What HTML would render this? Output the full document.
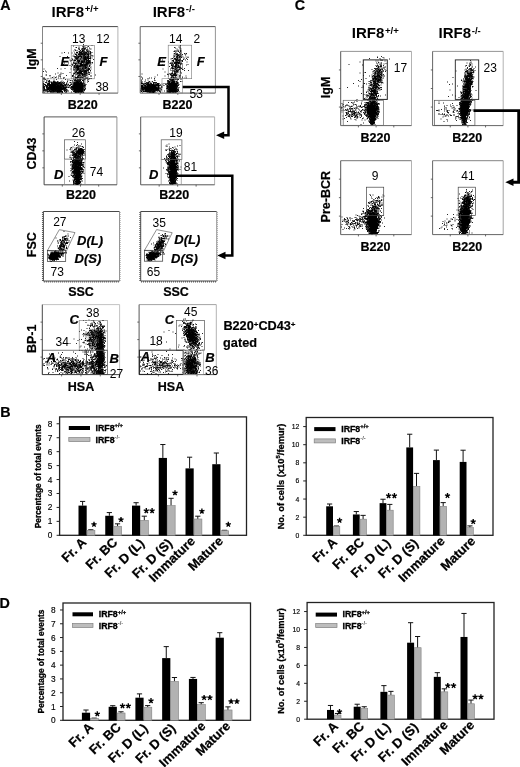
<!DOCTYPE html>
<html><head><meta charset="utf-8"><title>Figure</title>
<style>html,body{margin:0;padding:0;background:#fff}svg{display:block;opacity:.999}text{font-family:"Liberation Sans",sans-serif}</style></head>
<body>
<svg width="520" height="767" viewBox="0 0 520 767" font-family='"Liberation Sans", sans-serif' fill="#000">
<rect width="520" height="767" fill="#fff"/>
<defs><filter id="bl" x="-50%" y="-50%" width="200%" height="200%"><feGaussianBlur stdDeviation="1.1"/></filter></defs>
<text x="0.2" y="10.3" font-size="14.3" font-weight="bold" font-style="normal" text-anchor="start" stroke="#000" stroke-width="0.2">A</text>
<text x="51.6" y="16.6" font-size="15" font-weight="bold">IRF8<tspan font-size="9.6" dy="-4.3" dx="0.6">+/+</tspan></text>
<text x="152.7" y="16.6" font-size="15" font-weight="bold">IRF8<tspan font-size="9.6" dy="-4.3" dx="0.6">-/-</tspan></text>
<path d="M42.5 26.6H117.9" fill="none" stroke="#333" stroke-width="0.9"/>
<path d="M117.9 26.6V93.1" fill="none" stroke="#aaa" stroke-width="0.9"/>
<path d="M42.5 26.6V93.1" fill="none" stroke="#777" stroke-width="0.9"/>
<path d="M42.5 93.1H117.9" fill="none" stroke="#444" stroke-width="0.9"/>
<line x1="61.35" y1="93.10" x2="61.35" y2="94.90" stroke="#444" stroke-width="0.8"/>
<line x1="40.70" y1="43.23" x2="42.50" y2="43.23" stroke="#444" stroke-width="0.8"/>
<line x1="80.20" y1="93.10" x2="80.20" y2="94.90" stroke="#444" stroke-width="0.8"/>
<line x1="40.70" y1="59.85" x2="42.50" y2="59.85" stroke="#444" stroke-width="0.8"/>
<line x1="99.05" y1="93.10" x2="99.05" y2="94.90" stroke="#444" stroke-width="0.8"/>
<line x1="40.70" y1="76.47" x2="42.50" y2="76.47" stroke="#444" stroke-width="0.8"/>
<path d="M140.2 26.6H215.4" fill="none" stroke="#444" stroke-width="0.9"/>
<path d="M215.4 26.6V93.1" fill="none" stroke="#888" stroke-width="0.9"/>
<path d="M140.2 26.6V93.1" fill="none" stroke="#555" stroke-width="0.9"/>
<path d="M140.2 93.1H215.4" fill="none" stroke="#444" stroke-width="0.9"/>
<line x1="159.00" y1="93.10" x2="159.00" y2="94.90" stroke="#444" stroke-width="0.8"/>
<line x1="138.40" y1="43.23" x2="140.20" y2="43.23" stroke="#444" stroke-width="0.8"/>
<line x1="177.80" y1="93.10" x2="177.80" y2="94.90" stroke="#444" stroke-width="0.8"/>
<line x1="138.40" y1="59.85" x2="140.20" y2="59.85" stroke="#444" stroke-width="0.8"/>
<line x1="196.60" y1="93.10" x2="196.60" y2="94.90" stroke="#444" stroke-width="0.8"/>
<line x1="138.40" y1="76.47" x2="140.20" y2="76.47" stroke="#444" stroke-width="0.8"/>
<clipPath id="c1"><rect x="42.5" y="26.6" width="75.4" height="66.5"/></clipPath>
<g clip-path="url(#c1)">
<ellipse cx="55" cy="87.5" rx="7.2" ry="3.4" transform="rotate(0 55 87.5)" fill="#000" opacity="0.40" filter="url(#bl)"/>
<ellipse cx="77.5" cy="87" rx="4.1" ry="4.3" transform="rotate(0 77.5 87)" fill="#000" opacity="0.38" filter="url(#bl)"/>
<ellipse cx="81" cy="65" rx="5.0" ry="9.1" transform="rotate(0 81 65)" fill="#000" opacity="0.49" filter="url(#bl)"/>
</g>
<path transform="scale(.5)" d="M107 178h2M107 173h2M99 174h2M123 177h2M122 176h2M115 176h2M90 180h2M116 178h2M90 165h2M99 172h2M114 175h2M116 171h2M114 177h2M102 183h2M124 172h2M101 173h2M109 179h2M113 172h2M99 172h2M125 170h2M113 177h2M92 175h2M126 164h2M106 174h2M100 178h2M109 167h2M120 179h2M121 183h2M114 176h2M94 178h2M103 172h2M95 170h2M104 182h2M86 167h2M127 178h2M87 177h2M101 169h2M122 181h2M112 176h2M115 184h2M117 178h2M117 166h2M125 180h2M116 164h2M102 180h2M88 174h2M122 168h2M129 178h2M108 177h2M118 176h2M124 171h2M105 181h2M110 170h2M121 183h2M105 167h2M108 174h2M106 183h2M98 182h2M95 171h2M118 181h2M120 177h2M112 176h2M117 174h2M113 178h2M110 179h2M117 184h2M105 173h2M110 180h2M106 177h2M132 169h2M113 177h2M113 173h2M118 177h2M104 177h2M103 174h2M107 175h2M122 172h2M96 175h2M121 180h2M128 165h2M106 173h2M117 181h2M93 181h2M118 167h2M112 182h2M108 176h2M120 176h2M109 184h2M123 173h2M121 169h2M107 176h2M118 176h2M118 166h2M92 178h2M98 169h2M92 182h2M119 183h2M99 175h2M96 179h2M129 170h2M129 181h2M108 164h2M127 174h2M103 177h2M115 183h2M98 181h2M128 183h2M108 171h2M122 176h2M111 183h2M107 162h2M105 165h2M120 177h2M103 175h2M120 175h2M126 175h2M122 183h2M129 171h2M121 164h2M97 164h2M123 168h2M110 174h2M110 172h2M113 184h2M116 181h2M108 168h2M103 181h2M90 172h2M122 179h2M110 180h2M112 168h2M91 171h2M121 172h2M99 171h2M92 174h2M96 177h2M87 177h2M87 179h2M107 163h2M99 177h2M104 179h2M119 179h2M114 182h2M118 178h2M87 180h2M106 172h2M133 165h2M116 170h2M118 184h2M117 180h2M99 175h2M114 180h2M110 174h2M98 173h2M121 176h2M100 170h2M118 181h2M116 178h2M130 177h2M109 178h2M87 181h2M114 171h2M126 180h2M102 177h2M112 173h2M98 181h2M96 167h2M130 181h2M132 180h2M100 176h2M86 171h2M116 171h2M109 178h2M115 179h2M113 173h2M119 175h2M100 171h2M110 174h2M112 175h2M112 174h2M95 177h2M123 177h2M108 178h2M98 164h2M111 170h2M119 169h2M129 169h2M105 167h2M101 178h2M116 176h2M128 179h2M110 178h2M130 180h2M122 169h2M108 179h2M106 181h2M117 180h2M107 182h2M107 176h2M120 173h2M122 175h2M96 176h2M114 181h2M119 175h2M120 178h2M112 175h2M107 179h2M97 171h2M110 167h2M105 164h2M102 178h2M117 175h2M107 167h2M132 178h2M123 170h2M108 165h2M119 180h2M87 175h2M118 165h2M88 169h2M102 167h2M110 176h2M118 179h2M128 182h2M94 172h2M97 169h2M109 175h2M116 166h2M95 175h2M108 173h2M109 171h2M118 177h2M109 171h2M108 170h2M110 167h2M112 176h2M93 174h2M106 178h2M117 175h2M100 174h2M109 179h2M114 171h2M94 173h2M101 169h2M109 172h2M111 178h2M105 184h2M123 176h2M123 162h2M101 176h2M117 184h2M125 179h2M121 178h2M108 178h2M97 182h2M98 176h2M135 174h2M110 182h2M110 170h2M113 178h2M119 171h2M131 184h2M110 177h2M105 183h2M102 179h2M104 171h2M119 182h2M110 171h2M120 175h2M114 184h2M124 172h2M137 175h2M119 171h2M109 165h2M131 183h2M95 167h2M91 182h2M104 175h2M106 174h2M97 175h2M93 175h2M114 178h2M107 170h2M112 172h2M129 179h2M109 172h2M102 170h2M106 177h2M116 178h2M135 171h2M110 165h2M104 176h2M112 177h2M107 177h2M111 179h2M87 170h2M110 169h2M97 179h2M102 179h2M119 177h2M116 174h2M93 175h2M115 172h2M109 179h2M99 179h2M132 172h2M112 174h2M128 177h2M121 171h2M110 175h2M89 183h2M121 165h2M119 174h2M115 177h2M92 174h2M128 172h2M98 167h2M95 177h2M130 177h2M113 183h2M102 178h2M117 169h2M96 177h2M113 168h2M108 172h2M116 174h2M109 173h2M123 183h2M106 180h2M101 175h2M119 183h2M105 175h2M112 167h2M110 171h2M114 169h2M86 175h2M113 172h2M121 173h2M103 178h2M91 171h2M110 180h2M108 177h2M102 177h2M130 171h2M138 171h2M110 176h2M122 168h2M87 178h2M117 176h2M113 180h2M114 184h2M95 173h2M106 180h2M121 185h2M107 172h2M100 171h2M118 175h2M111 174h2M121 178h2M108 179h2M108 169h2M127 178h2M99 181h2M114 166h2M129 177h2M121 176h2M108 166h2M122 175h2M107 177h2M111 179h2M106 175h2M87 173h2M126 173h2M109 184h2M106 179h2M130 175h2M125 171h2M112 175h2M111 181h2M139 171h2M103 178h2M97 178h2M117 173h2M116 166h2M119 166h2M102 172h2M105 180h2M111 173h2M117 184h2M110 177h2M125 176h2M95 178h2M110 177h2M122 179h2M107 169h2M111 181h2M97 169h2M110 164h2M107 173h2M115 171h2M99 173h2M109 171h2M110 179h2M124 185h2M101 173h2M101 184h2M116 167h2M116 175h2M88 177h2M124 165h2M120 176h2M116 177h2M126 174h2M120 173h2M119 170h2M109 183h2M108 169h2M101 176h2M121 177h2M116 175h2M126 173h2M103 180h2M111 173h2M103 174h2M117 177h2M95 177h2M112 169h2M119 173h2M106 179h2M126 171h2M115 170h2M138 172h2M124 171h2M120 176h2M105 178h2M109 171h2M136 175h2M90 180h2M89 181h2M103 176h2M125 176h2M93 166h2M124 179h2M100 180h2M116 179h2M87 173h2M119 180h2M116 176h2M106 170h2M110 180h2M105 181h2M101 176h2M104 176h2M102 166h2M123 177h2M103 176h2M122 170h2M109 178h2M116 173h2M86 182h2M110 173h2M113 173h2M98 171h2M103 172h2M96 179h2M94 179h2M98 177h2M126 176h2M101 175h2M112 165h2M103 176h2M104 175h2M119 179h2M121 178h2M107 175h2M107 173h2M108 165h2M106 175h2M98 175h2M116 174h2M135 174h2M88 180h2M112 178h2M106 178h2M86 180h2M110 172h2M118 172h2M113 172h2M86 175h2M119 170h2M110 178h2M112 182h2M134 170h2M87 180h2M128 180h2M120 172h2M101 180h2M99 165h2M98 182h2M101 176h2M101 182h2M109 169h2M126 172h2M113 175h2M106 177h2M102 165h2M87 168h2M110 175h2M117 176h2M100 171h2M86 174h2M116 174h2M108 180h2M110 179h2M117 176h2M126 172h2M106 170h2M100 184h2M131 175h2M117 182h2M120 182h2M95 171h2M115 183h2M111 170h2M106 171h2M100 183h2M102 175h2M136 182h2M114 172h2M115 184h2M117 182h2M111 178h2M108 177h2M126 167h2M109 176h2M103 173h2M119 183h2M114 166h2M133 175h2M110 169h2M109 169h2M111 178h2M110 177h2M100 183h2M102 165h2M108 171h2M98 173h2M113 168h2M108 183h2M118 174h2M112 174h2M109 179h2M109 175h2M99 179h2M103 176h2M136 169h2M97 167h2M86 164h2M102 165h2M92 178h2M101 173h2M114 183h2M133 181h2M112 176h2M132 183h2M106 178h2M113 175h2M104 168h2M104 166h2M125 178h2M96 183h2M121 164h2M132 180h2M135 168h2M116 177h2M112 176h2M123 167h2M95 167h2M103 172h2M114 176h2M110 171h2M105 180h2M119 176h2M106 184h2M103 179h2M124 174h2M120 169h2M122 176h2M91 179h2M99 182h2M102 174h2M113 173h2M113 172h2M118 175h2M113 182h2M110 165h2M111 178h2M123 169h2M129 174h2M139 174h2M118 173h2M97 181h2M121 184h2M120 172h2M90 171h2M102 170h2M117 177h2M107 176h2M108 176h2M119 180h2M102 167h2M127 176h2M123 166h2M106 175h2M93 172h2M119 181h2M129 170h2M93 178h2M121 176h2M94 179h2M120 178h2M104 177h2M119 172h2M88 177h2M116 175h2M121 172h2M109 173h2M117 184h2M107 180h2M119 178h2M131 174h2M109 169h2M116 183h2M116 177h2M108 176h2M93 181h2M105 169h2M101 170h2M120 181h2M94 180h2M121 172h2M92 171h2M102 177h2M106 164h2M113 166h2M121 168h2M102 170h2M103 182h2M120 178h2M114 166h2M104 172h2M98 178h2M101 171h2M97 163h2M117 182h2M112 170h2M125 176h2M114 180h2M128 181h2M105 181h2M119 166h2M105 167h2M109 178h2M97 163h2M126 177h2M128 168h2M123 178h2M107 177h2M108 181h2M122 175h2M94 179h2M104 179h2M113 184h2M124 172h2M114 183h2M115 182h2M125 178h2M94 168h2M113 177h2M124 170h2M119 166h2M100 176h2M104 174h2M116 170h2M116 171h2M103 178h2M103 177h2M129 175h2M108 179h2M106 181h2M95 178h2M104 171h2M131 170h2M131 179h2M127 170h2M124 183h2M109 174h2M105 176h2M102 177h2M114 176h2M131 173h2M116 183h2M98 181h2M132 167h2M97 169h2M88 178h2M88 178h2M127 166h2M106 164h2M119 171h2M107 175h2M117 173h2M110 172h2M111 168h2M111 164h2M104 184h2M95 176h2M98 166h2M101 179h2M115 174h2M99 169h2M126 176h2M99 163h2M94 169h2M109 176h2M108 173h2M94 169h2M130 171h2M120 166h2M107 176h2M122 169h2M117 177h2M101 178h2M99 171h2M110 174h2M98 167h2M105 179h2M105 182h2M96 168h2M129 177h2M121 170h2M120 176h2M118 175h2M124 171h2M98 167h2M124 171h2M97 170h2M105 168h2M107 171h2M103 170h2M110 172h2M111 176h2M114 163h2M104 171h2M119 166h2M101 173h2M106 181h2M105 180h2M92 165h2M125 177h2M116 176h2M116 168h2M121 172h2M122 175h2M86 168h2M124 174h2M105 176h2M105 172h2M111 176h2M128 175h2M133 179h2M123 176h2M112 174h2M101 175h2M102 184h2M116 172h2M87 175h2M105 169h2M96 162h2M117 175h2M102 166h2M127 168h2M107 162h2M94 184h2M120 183h2M104 155h2M119 149h2M113 179h2M127 155h2M121 157h2M92 150h2M122 183h2M92 162h2M95 178h2M87 158h2M134 163h2M93 160h2M87 177h2M121 146h2M87 169h2M117 166h2M87 173h2M86 182h2M86 157h2M121 148h2M90 142h2M100 170h2M87 159h2M129 174h2M99 152h2M89 158h2M106 165h2M131 169h2M87 185h2M119 167h2M92 144h2M88 177h2M91 150h2M107 169h2M114 174h2M127 156h2M120 154h2M115 168h2M108 178h2M104 179h2M118 168h2M95 157h2M96 164h2M104 174h2M116 156h2M93 162h2M107 154h2M130 159h2M121 138h2M104 169h2M107 173h2M108 168h2M88 157h2M114 170h2M101 156h2M95 179h2M103 181h2M86 143h2M90 159h2M107 158h2M105 169h2M103 177h2M132 151h2M107 163h2M110 148h2M87 138h2M107 167h2M87 162h2M87 155h2M113 166h2M112 159h2M105 166h2M113 165h2M102 164h2M94 183h2M111 180h2M87 174h2M134 182h2M116 152h2M90 169h2M112 154h2M98 161h2M105 170h2M99 151h2M124 184h2M120 171h2M115 172h2M92 173h2M162 168h2M168 179h2M169 179h2M153 170h2M149 175h2M155 179h2M141 177h2M155 179h2M158 176h2M154 173h2M149 175h2M155 176h2M149 174h2M155 178h2M148 177h2M162 178h2M152 170h2M153 179h2M166 173h2M151 177h2M156 167h2M150 173h2M160 165h2M148 178h2M147 175h2M157 173h2M148 174h2M153 176h2M149 182h2M144 173h2M155 181h2M151 178h2M151 179h2M167 171h2M158 167h2M162 183h2M155 166h2M158 182h2M162 180h2M143 169h2M165 165h2M163 182h2M163 172h2M147 173h2M154 174h2M160 173h2M156 177h2M155 183h2M156 173h2M151 184h2M156 166h2M151 173h2M152 182h2M147 178h2M156 166h2M155 173h2M158 171h2M157 162h2M148 180h2M162 174h2M151 182h2M141 168h2M160 179h2M148 160h2M165 175h2M149 174h2M161 182h2M160 159h2M160 161h2M163 177h2M170 170h2M155 182h2M151 169h2M152 173h2M148 177h2M159 175h2M167 172h2M164 170h2M160 160h2M156 173h2M152 170h2M153 169h2M140 170h2M151 170h2M148 173h2M160 172h2M152 184h2M162 181h2M163 172h2M154 182h2M151 173h2M158 177h2M153 181h2M154 179h2M162 179h2M160 166h2M146 170h2M158 181h2M157 168h2M150 172h2M160 176h2M163 167h2M161 181h2M155 177h2M151 166h2M152 169h2M166 171h2M156 176h2M160 168h2M161 177h2M145 178h2M159 177h2M166 171h2M158 179h2M149 183h2M145 165h2M159 166h2M154 162h2M155 166h2M157 163h2M158 172h2M155 174h2M156 164h2M149 174h2M152 177h2M141 169h2M151 166h2M157 173h2M149 167h2M160 169h2M159 177h2M142 166h2M155 176h2M160 180h2M162 171h2M154 180h2M152 182h2M144 179h2M154 160h2M162 176h2M155 166h2M152 182h2M147 168h2M154 171h2M149 168h2M162 164h2M168 170h2M148 180h2M159 166h2M160 161h2M149 182h2M153 165h2M158 181h2M155 161h2M153 177h2M160 184h2M152 174h2M163 167h2M164 180h2M150 177h2M160 165h2M154 176h2M159 167h2M148 160h2M153 173h2M145 181h2M151 184h2M161 174h2M160 166h2M153 170h2M146 174h2M154 184h2M149 169h2M152 177h2M158 174h2M152 178h2M157 161h2M153 164h2M147 175h2M155 175h2M149 173h2M149 177h2M160 181h2M150 171h2M149 176h2M168 179h2M140 165h2M146 178h2M155 176h2M167 168h2M149 184h2M150 159h2M145 174h2M155 181h2M154 169h2M150 179h2M156 174h2M159 171h2M158 180h2M154 171h2M154 167h2M154 172h2M156 184h2M164 171h2M159 176h2M160 174h2M157 171h2M150 180h2M164 179h2M158 176h2M152 161h2M160 175h2M151 167h2M164 161h2M167 179h2M171 169h2M155 170h2M156 172h2M150 182h2M150 170h2M159 170h2M152 177h2M152 165h2M154 172h2M167 166h2M162 168h2M153 172h2M157 180h2M167 169h2M164 181h2M161 169h2M161 173h2M157 172h2M160 182h2M163 173h2M162 184h2M149 180h2M159 178h2M165 176h2M152 168h2M146 180h2M153 169h2M159 168h2M152 171h2M166 185h2M154 163h2M157 175h2M157 178h2M153 181h2M161 176h2M152 171h2M160 166h2M154 169h2M146 178h2M155 174h2M161 163h2M155 176h2M161 166h2M160 176h2M164 182h2M159 185h2M152 172h2M149 174h2M142 173h2M158 181h2M153 184h2M151 173h2M142 169h2M150 185h2M159 166h2M159 177h2M153 174h2M153 170h2M143 173h2M164 184h2M153 169h2M154 180h2M157 170h2M157 173h2M158 171h2M145 174h2M160 166h2M154 180h2M153 169h2M168 180h2M162 167h2M166 162h2M152 179h2M164 167h2M151 175h2M142 178h2M159 171h2M159 179h2M157 178h2M165 171h2M156 170h2M162 171h2M158 175h2M155 184h2M164 180h2M164 173h2M161 179h2M151 176h2M154 174h2M164 169h2M144 162h2M152 170h2M155 178h2M167 176h2M158 169h2M159 183h2M164 160h2M161 182h2M145 172h2M159 177h2M150 168h2M161 165h2M164 174h2M157 165h2M151 179h2M145 180h2M147 174h2M158 179h2M153 173h2M153 170h2M157 181h2M156 170h2M157 174h2M154 182h2M144 176h2M148 172h2M165 167h2M154 170h2M161 167h2M144 178h2M153 172h2M162 168h2M153 175h2M158 170h2M162 183h2M167 159h2M164 172h2M156 172h2M151 165h2M152 183h2M162 172h2M152 169h2M147 183h2M156 171h2M148 183h2M160 167h2M161 166h2M159 167h2M152 177h2M158 181h2M150 180h2M155 177h2M150 173h2M146 175h2M156 183h2M161 180h2M153 172h2M153 176h2M142 179h2M145 170h2M155 170h2M166 173h2M165 182h2M152 177h2M163 172h2M156 170h2M155 172h2M156 181h2M164 175h2M156 180h2M153 167h2M162 168h2M161 167h2M167 167h2M161 184h2M149 184h2M150 162h2M160 179h2M154 174h2M153 171h2M153 162h2M151 180h2M153 169h2M158 181h2M160 166h2M156 175h2M164 182h2M158 182h2M152 183h2M158 180h2M149 169h2M144 175h2M155 172h2M158 159h2M155 175h2M153 179h2M166 171h2M149 170h2M156 178h2M149 181h2M148 180h2M158 177h2M169 172h2M154 177h2M161 165h2M157 169h2M159 183h2M155 173h2M156 179h2M159 175h2M152 169h2M154 182h2M154 183h2M157 171h2M155 163h2M151 183h2M147 167h2M148 170h2M159 178h2M142 184h2M151 170h2M166 173h2M147 170h2M150 167h2M153 180h2M157 164h2M156 167h2M155 179h2M153 177h2M169 175h2M148 176h2M150 171h2M156 176h2M153 180h2M154 165h2M161 171h2M163 169h2M159 176h2M148 164h2M164 161h2M161 182h2M158 179h2M152 174h2M156 177h2M160 173h2M150 170h2M158 163h2M147 171h2M151 172h2M153 172h2M160 160h2M153 177h2M158 182h2M162 167h2M159 172h2M150 183h2M149 171h2M149 181h2M157 184h2M158 170h2M162 169h2M152 173h2M155 182h2M151 176h2M155 165h2M148 172h2M158 176h2M158 174h2M152 177h2M148 165h2M153 164h2M152 169h2M151 174h2M150 171h2M144 175h2M149 177h2M157 168h2M139 171h2M156 175h2M145 176h2M156 167h2M160 174h2M155 171h2M159 175h2M162 177h2M151 172h2M161 171h2M158 178h2M154 158h2M156 175h2M156 169h2M163 173h2M151 169h2M157 166h2M148 181h2M162 184h2M159 162h2M163 183h2M158 160h2M163 184h2M152 175h2M160 173h2M162 175h2M160 175h2M145 167h2M164 176h2M163 183h2M151 174h2M142 173h2M161 159h2M156 180h2M164 168h2M151 161h2M148 178h2M169 166h2M164 177h2M152 177h2M155 176h2M169 178h2M156 181h2M164 178h2M157 173h2M152 165h2M168 171h2M141 176h2M155 175h2M167 173h2M153 169h2M155 171h2M156 177h2M149 182h2M160 179h2M160 179h2M164 181h2M164 170h2M155 169h2M161 180h2M152 178h2M148 183h2M154 178h2M155 177h2M163 176h2M148 179h2M154 175h2M151 164h2M147 172h2M148 182h2M147 169h2M159 157h2M164 169h2M159 171h2M157 175h2M155 161h2M145 174h2M164 170h2M159 175h2M158 181h2M145 176h2M154 172h2M149 168h2M148 166h2M155 182h2M149 161h2M156 184h2M155 167h2M153 167h2M146 172h2M152 168h2M149 167h2M157 184h2M154 180h2M157 166h2M154 175h2M159 182h2M151 165h2M154 176h2M150 180h2M166 164h2M157 181h2M142 175h2M154 164h2M164 176h2M152 177h2M159 179h2M159 177h2M147 171h2M156 183h2M148 161h2M157 174h2M151 171h2M149 169h2M154 169h2M159 173h2M156 177h2M163 178h2M157 173h2M150 172h2M160 176h2M152 165h2M145 176h2M162 177h2M146 173h2M156 168h2M157 173h2M149 165h2M160 177h2M149 167h2M161 178h2M153 184h2M148 182h2M154 176h2M155 167h2M147 173h2M164 167h2M164 176h2M148 176h2M159 168h2M141 176h2M148 177h2M142 173h2M150 164h2M153 175h2M151 166h2M156 162h2M159 177h2M166 180h2M157 176h2M155 165h2M165 178h2M153 166h2M165 178h2M147 179h2M168 174h2M158 171h2M151 182h2M154 175h2M160 172h2M160 180h2M148 167h2M155 180h2M157 183h2M146 177h2M151 175h2M157 167h2M153 166h2M157 168h2M152 176h2M151 182h2M151 180h2M157 167h2M154 168h2M153 172h2M167 171h2M165 177h2M146 158h2M159 160h2M160 181h2M158 173h2M153 176h2M153 170h2M153 182h2M151 177h2M147 169h2M146 173h2M159 176h2M152 178h2M153 177h2M157 178h2M139 165h2M160 173h2M170 172h2M151 184h2M159 183h2M154 179h2M150 171h2M151 172h2M160 171h2M157 171h2M161 173h2M156 166h2M162 176h2M163 181h2M159 173h2M148 172h2M152 176h2M152 163h2M163 171h2M153 180h2M155 166h2M158 173h2M141 175h2M148 169h2M158 176h2M153 183h2M151 176h2M154 159h2M145 164h2M179 127h2M160 122h2M170 130h2M176 142h2M175 128h2M165 124h2M161 105h2M157 116h2M157 148h2M164 148h2M169 143h2M170 121h2M168 125h2M158 148h2M180 116h2M176 142h2M155 134h2M165 135h2M159 111h2M162 143h2M168 140h2M171 115h2M162 135h2M170 132h2M166 132h2M179 98h2M162 166h2M164 103h2M163 109h2M157 133h2M176 137h2M167 145h2M164 117h2M161 135h2M160 120h2M159 108h2M154 129h2M159 131h2M173 134h2M162 113h2M153 135h2M155 136h2M153 132h2M161 145h2M159 125h2M164 131h2M176 126h2M158 125h2M166 133h2M168 110h2M182 157h2M162 112h2M163 136h2M144 130h2M150 137h2M173 145h2M150 150h2M169 125h2M166 152h2M159 130h2M157 147h2M145 151h2M154 144h2M149 116h2M157 142h2M149 139h2M157 148h2M159 137h2M161 156h2M159 130h2M178 131h2M168 119h2M164 97h2M163 121h2M150 109h2M171 136h2M150 157h2M156 125h2M164 113h2M149 119h2M172 144h2M149 148h2M162 137h2M162 136h2M154 117h2M156 125h2M167 112h2M175 121h2M157 140h2M166 125h2M153 115h2M149 147h2M171 157h2M166 135h2M168 144h2M160 135h2M179 105h2M151 116h2M168 147h2M159 140h2M162 134h2M158 130h2M162 147h2M180 103h2M166 130h2M170 146h2M168 142h2M154 105h2M176 148h2M154 149h2M167 94h2M169 116h2M171 120h2M156 107h2M160 145h2M157 103h2M179 157h2M168 122h2M152 106h2M167 149h2M153 130h2M160 126h2M166 161h2M157 142h2M171 126h2M161 110h2M171 122h2M157 131h2M155 115h2M160 152h2M160 138h2M150 101h2M177 124h2M150 128h2M167 105h2M155 134h2M155 142h2M170 136h2M159 129h2M157 128h2M165 126h2M170 122h2M165 142h2M167 127h2M158 145h2M167 137h2M155 139h2M168 127h2M167 162h2M147 139h2M152 110h2M160 138h2M162 113h2M150 122h2M162 118h2M150 156h2M155 128h2M158 121h2M162 126h2M167 113h2M150 159h2M161 141h2M172 138h2M162 107h2M149 144h2M168 138h2M149 99h2M153 113h2M163 115h2M175 121h2M157 143h2M165 117h2M169 158h2M152 126h2M153 101h2M167 140h2M170 136h2M146 130h2M157 113h2M153 141h2M160 159h2M166 102h2M169 148h2M162 112h2M176 111h2M161 102h2M152 105h2M171 147h2M159 110h2M162 136h2M150 113h2M161 140h2M163 137h2M152 135h2M154 128h2M159 137h2M156 151h2M162 138h2M167 145h2M165 104h2M157 158h2M166 138h2M166 120h2M156 120h2M172 135h2M177 137h2M178 137h2M152 156h2M165 148h2M164 125h2M163 113h2M152 117h2M158 110h2M161 135h2M179 157h2M162 143h2M160 136h2M162 122h2M163 108h2M166 126h2M153 125h2M167 120h2M166 139h2M175 114h2M161 138h2M174 134h2M168 108h2M157 155h2M160 162h2M156 126h2M149 140h2M164 160h2M163 126h2M150 129h2M170 141h2M172 143h2M162 139h2M163 110h2M176 136h2M153 136h2M164 145h2M174 138h2M175 116h2M147 134h2M165 135h2M153 123h2M164 141h2M180 134h2M157 94h2M171 128h2M161 115h2M168 103h2M163 132h2M164 150h2M161 131h2M169 107h2M160 131h2M170 118h2M169 136h2M150 108h2M150 132h2M164 141h2M169 122h2M171 142h2M166 137h2M151 135h2M153 112h2M159 132h2M162 125h2M154 133h2M156 109h2M163 152h2M159 114h2M174 156h2M160 127h2M164 132h2M170 137h2M147 113h2M152 137h2M163 157h2M160 135h2M163 132h2M181 134h2M174 150h2M157 140h2M159 132h2M163 130h2M158 154h2M160 141h2M176 139h2M171 151h2M171 156h2M150 160h2M162 104h2M157 109h2M162 107h2M154 134h2M163 118h2M160 128h2M163 130h2M160 143h2M149 123h2M163 124h2M157 123h2M164 149h2M160 126h2M165 126h2M146 134h2M159 121h2M167 131h2M157 97h2M148 130h2M161 137h2M164 123h2M151 113h2M161 113h2M168 110h2M147 127h2M147 155h2M154 129h2M160 118h2M147 102h2M169 146h2M180 108h2M167 130h2M169 122h2M168 144h2M167 152h2M161 153h2M156 155h2M155 130h2M162 146h2M168 131h2M176 108h2M155 153h2M165 98h2M165 112h2M174 147h2M157 150h2M155 144h2M167 128h2M150 126h2M143 121h2M146 148h2M154 139h2M165 122h2M180 142h2M163 120h2M170 137h2M157 109h2M162 105h2M162 142h2M175 134h2M164 141h2M174 125h2M152 118h2M151 116h2M161 135h2M163 131h2M159 136h2M169 142h2M175 126h2M160 156h2M164 136h2M159 145h2M159 115h2M161 123h2M169 124h2M163 127h2M165 120h2M171 108h2M159 119h2M167 131h2M166 125h2M156 113h2M159 122h2M164 135h2M170 128h2M156 114h2M163 135h2M178 133h2M177 158h2M153 148h2M172 150h2M162 145h2M158 129h2M162 157h2M160 145h2M163 119h2M164 140h2M156 140h2M156 117h2M164 126h2M154 105h2M162 134h2M158 133h2M149 136h2M165 134h2M157 131h2M163 146h2M164 134h2M156 143h2M172 122h2M167 135h2M162 110h2M177 102h2M165 124h2M172 124h2M162 139h2M166 122h2M168 136h2M170 122h2M162 124h2M155 134h2M165 152h2M159 136h2M172 128h2M163 132h2M156 115h2M171 133h2M161 111h2M163 148h2M152 116h2M171 152h2M175 122h2M167 119h2M166 124h2M164 150h2M165 126h2M162 134h2M158 133h2M167 154h2M145 112h2M152 143h2M163 133h2M172 127h2M158 132h2M158 135h2M157 147h2M162 136h2M170 123h2M155 149h2M170 132h2M170 154h2M173 130h2M162 147h2M150 121h2M166 139h2M178 157h2M165 137h2M151 127h2M164 127h2M163 139h2M154 121h2M147 147h2M153 104h2M168 127h2M170 124h2M180 141h2M163 132h2M160 142h2M179 124h2M153 139h2M171 108h2M156 115h2M167 138h2M156 113h2M168 99h2M167 128h2M178 145h2M157 126h2M160 119h2M163 144h2M150 127h2M174 141h2M155 118h2M155 106h2M172 131h2M156 109h2M159 122h2M176 123h2M163 146h2M168 127h2M144 151h2M167 124h2M161 116h2M155 108h2M166 138h2M163 142h2M166 132h2M155 139h2M172 139h2M172 123h2M154 149h2M157 134h2M160 130h2M160 122h2M147 158h2M164 101h2M155 113h2M156 139h2M176 126h2M168 139h2M152 148h2M148 121h2M159 149h2M163 128h2M155 131h2M162 141h2M173 141h2M162 128h2M175 133h2M162 157h2M175 138h2M161 121h2M171 123h2M170 118h2M163 136h2M163 133h2M165 113h2M153 128h2M177 128h2M154 120h2M162 148h2M157 138h2M164 125h2M154 128h2M156 138h2M148 147h2M168 139h2M174 139h2M148 131h2M166 120h2M153 136h2M166 124h2M160 122h2M157 129h2M171 106h2M159 154h2M165 132h2M169 115h2M152 105h2M150 134h2M169 124h2M156 136h2M167 134h2M146 122h2M155 134h2M157 152h2M173 137h2M164 133h2M157 129h2M178 117h2M157 132h2M169 142h2M154 128h2M160 112h2M163 123h2M170 136h2M156 131h2M159 121h2M158 146h2M159 105h2M156 142h2M180 114h2M159 125h2M151 136h2M162 134h2M180 126h2M168 142h2M157 121h2M175 141h2M163 114h2M169 138h2M180 152h2M169 134h2M163 122h2M165 134h2M167 146h2M165 122h2M169 153h2M155 136h2M166 138h2M166 129h2M161 155h2M176 109h2M156 136h2M158 106h2M165 129h2M158 143h2M182 152h2M172 124h2M167 129h2M171 139h2M162 138h2M156 142h2M174 125h2M167 105h2M170 143h2M154 156h2M163 104h2M151 143h2M160 146h2M149 129h2M170 120h2M168 125h2M165 135h2M180 112h2M168 149h2M153 131h2M181 146h2M148 126h2M164 119h2M157 118h2M164 123h2M155 127h2M165 117h2M171 105h2M165 124h2M175 121h2M157 110h2M178 139h2M153 125h2M154 152h2M165 100h2M164 144h2M162 137h2M161 133h2M164 120h2M165 132h2M162 120h2M154 134h2M169 94h2M158 150h2M169 119h2M173 115h2M156 159h2M158 127h2M149 115h2M152 128h2M147 146h2M159 121h2M157 141h2M175 124h2M175 154h2M173 134h2M150 140h2M159 133h2M147 126h2M164 116h2M164 155h2M164 120h2M181 98h2M154 136h2M157 96h2M164 142h2M156 152h2M166 148h2M150 130h2M175 160h2M173 130h2M163 121h2M171 120h2M163 99h2M150 156h2M162 133h2M144 130h2M179 108h2M143 128h2M158 127h2M152 110h2M152 140h2M162 142h2M153 139h2M158 131h2M170 130h2M159 105h2M163 142h2M157 129h2M147 110h2M165 149h2M159 105h2M159 107h2M160 159h2M164 128h2M171 124h2M165 133h2M166 108h2M168 143h2M143 117h2M174 130h2M168 138h2M169 120h2M157 136h2M167 139h2M165 123h2M171 137h2M171 145h2M142 133h2M157 132h2M158 125h2M164 135h2M155 118h2M166 117h2M166 124h2M154 147h2M176 128h2M162 144h2M151 117h2M171 144h2M158 118h2M165 109h2M158 127h2M168 139h2M171 108h2M151 118h2M151 161h2M154 125h2M164 137h2M174 114h2M169 132h2M152 132h2M150 154h2M156 145h2M173 121h2M155 132h2M153 144h2M163 118h2M156 141h2M150 155h2M155 127h2M154 155h2M169 150h2M167 131h2M176 140h2M166 139h2M168 134h2M161 106h2M179 110h2M144 119h2M178 148h2M157 134h2M162 100h2M159 134h2M172 112h2M143 106h2M165 131h2M163 132h2M159 109h2M166 136h2M167 149h2M152 95h2M147 162h2M154 136h2M162 141h2M161 122h2M157 134h2M166 115h2M173 147h2M166 128h2M160 105h2M168 115h2M158 145h2M154 122h2M169 158h2M156 147h2M157 136h2M166 113h2M171 157h2M162 134h2M152 157h2M163 111h2M168 108h2M156 98h2M174 164h2M157 120h2M157 121h2M167 152h2M154 137h2M147 153h2M161 119h2M175 128h2M174 146h2M176 118h2M162 136h2M160 153h2M156 145h2M173 100h2M154 116h2M157 136h2M161 131h2M158 129h2M166 141h2M155 128h2M156 127h2M150 145h2M168 128h2M156 123h2M156 107h2M176 111h2M152 139h2M167 106h2M146 138h2M145 152h2M158 131h2M162 121h2M161 125h2M172 129h2M162 122h2M157 119h2M162 158h2M171 134h2M176 145h2M164 127h2M153 134h2M159 106h2M151 159h2M164 138h2M164 123h2M166 146h2M159 138h2M171 123h2M163 119h2M167 124h2M172 118h2M176 125h2M155 116h2M168 117h2M177 149h2M166 108h2M162 119h2M147 136h2M180 122h2M169 150h2M154 125h2M164 137h2M152 133h2M161 144h2M149 121h2M158 125h2M168 120h2M169 119h2M171 145h2M160 117h2M160 140h2M163 139h2M167 117h2M154 152h2M158 106h2M178 117h2M154 145h2M152 117h2M171 118h2M163 131h2M162 120h2M160 122h2M162 142h2M151 116h2M144 153h2M161 130h2M162 145h2M165 143h2M161 128h2M162 102h2M171 106h2M154 140h2M162 142h2M176 158h2M174 127h2M179 117h2M161 145h2M160 128h2M159 151h2M171 149h2M161 139h2M154 147h2M174 116h2M162 125h2M158 127h2M151 109h2M176 130h2M167 135h2M166 107h2M154 140h2M170 113h2M157 114h2M167 135h2M162 120h2M165 130h2M156 135h2M156 144h2M167 120h2M167 131h2M156 116h2M148 113h2M165 148h2M157 132h2M165 142h2M166 149h2M168 118h2M165 94h2M160 130h2M167 125h2M169 150h2M155 122h2M164 137h2M163 143h2M152 142h2M172 147h2M166 126h2M165 129h2M149 121h2M162 122h2M154 126h2M159 131h2M162 133h2M170 132h2M165 111h2M168 124h2M159 121h2M152 144h2M158 134h2M171 138h2M181 128h2M170 141h2M156 131h2M157 114h2M165 118h2M176 119h2M157 131h2M158 131h2M157 108h2M175 110h2M166 132h2M158 128h2M165 109h2M155 116h2M173 114h2M172 123h2M162 129h2M173 143h2M170 114h2M172 156h2M161 123h2M153 145h2M164 130h2M152 155h2M169 130h2M174 116h2M169 115h2M174 126h2M172 124h2M165 147h2M154 131h2M155 143h2M157 124h2M160 148h2M153 130h2M159 122h2M155 128h2M164 106h2M164 112h2M162 165h2M154 129h2M160 145h2M158 103h2M148 133h2M164 146h2M157 140h2M153 150h2M161 120h2M163 156h2M155 111h2M153 112h2M162 135h2M161 133h2M172 126h2M151 95h2M164 120h2M160 136h2M166 106h2M154 131h2M161 147h2M158 99h2M172 105h2M154 136h2M153 134h2M166 123h2M181 138h2M156 149h2M148 121h2M164 132h2M154 154h2M174 116h2M165 120h2M158 145h2M163 128h2M163 112h2M172 119h2M173 123h2M158 153h2M164 120h2M158 139h2M178 139h2M159 113h2M156 128h2M164 120h2M173 115h2M156 138h2M166 124h2M170 109h2M176 163h2M178 132h2M179 131h2M173 127h2M164 138h2M147 127h2M176 136h2M170 135h2M164 151h2M165 101h2M154 125h2M163 123h2M161 155h2M170 148h2M167 130h2M163 136h2M164 119h2M169 117h2M162 125h2M152 139h2M161 112h2M161 109h2M174 138h2M179 121h2M168 115h2M155 129h2M165 144h2M160 147h2M170 117h2M161 116h2M176 122h2M169 144h2M160 123h2M165 118h2M151 115h2M165 133h2M177 102h2M166 113h2M172 141h2M163 152h2M159 122h2M153 120h2M163 140h2M173 126h2M156 125h2M158 123h2M159 117h2M162 122h2M161 109h2M163 139h2M167 122h2M152 110h2M152 120h2M159 103h2M168 107h2M156 119h2M169 158h2M159 126h2M159 127h2M161 114h2M161 118h2M165 122h2M167 114h2M180 133h2M147 141h2M158 113h2M166 122h2M168 122h2M170 132h2M165 132h2M159 125h2M166 141h2M159 164h2M176 113h2M171 129h2M164 118h2M176 118h2M161 119h2M178 149h2M151 123h2M165 124h2M170 119h2M165 115h2M168 126h2M162 128h2M169 109h2M170 115h2M169 119h2M166 96h2M174 114h2M180 118h2M157 127h2M166 120h2M184 126h2M163 113h2M160 121h2M174 103h2M173 124h2M175 107h2M166 102h2M162 117h2M170 128h2M172 111h2M161 131h2M171 114h2M164 103h2M174 104h2M174 121h2M168 97h2M173 129h2M165 101h2M177 116h2M166 127h2M168 119h2M167 106h2M171 105h2M159 108h2M178 126h2M184 125h2M180 117h2M167 119h2M164 122h2M167 117h2M165 113h2M176 112h2M166 117h2M176 112h2M163 97h2M162 125h2M169 119h2M177 117h2M173 109h2M160 121h2M169 120h2M163 113h2M183 105h2M171 128h2M169 115h2M157 122h2M167 128h2M169 110h2M173 112h2M167 131h2M176 115h2M175 123h2M174 115h2M170 118h2M174 118h2M167 113h2M173 104h2M170 122h2M171 111h2M170 109h2M176 110h2M160 101h2M172 116h2M167 100h2M169 105h2M166 114h2M165 117h2M165 109h2M169 130h2M180 124h2M165 114h2M176 123h2M160 114h2M165 122h2M174 109h2M183 111h2M185 112h2M169 134h2M167 109h2M179 114h2M173 101h2M181 125h2M172 122h2M167 109h2M160 118h2M178 123h2M176 122h2M164 100h2M174 116h2M176 111h2M164 119h2M167 97h2M166 105h2M163 108h2M176 139h2M181 110h2M177 113h2M173 107h2M170 97h2M181 106h2M174 108h2M172 102h2M168 124h2M174 94h2M175 100h2M172 120h2M166 111h2M168 118h2M176 128h2M172 135h2M164 133h2M168 122h2M169 115h2M164 118h2M183 116h2M170 114h2M174 112h2M170 116h2M178 124h2M163 108h2M170 123h2M176 112h2M183 112h2M179 129h2M180 116h2M174 98h2M159 108h2M175 125h2M169 125h2M174 130h2M160 106h2M164 103h2M180 105h2M165 110h2M176 109h2M175 120h2M166 89h2M164 101h2M180 107h2M163 118h2M170 104h2M177 124h2M172 106h2M165 93h2M172 118h2M164 114h2M159 102h2M174 109h2M167 121h2M169 125h2M173 127h2M171 91h2M178 96h2M176 117h2M162 115h2M175 103h2M170 106h2M164 107h2M178 121h2M170 113h2M171 117h2M171 95h2M176 105h2M163 122h2M169 113h2M166 120h2M168 111h2M164 111h2M163 115h2M178 125h2M173 100h2M176 124h2M183 91h2M170 111h2M177 103h2M168 138h2M176 93h2M170 128h2M166 120h2M171 99h2M166 126h2M177 108h2M177 107h2M149 144h2M119 151h2M136 126h2M128 126h2M126 129h2M97 163h2M146 150h2M139 145h2M139 120h2M115 146h2M164 149h2M175 114h2M139 131h2M168 181h2M134 160h2M140 122h2M142 121h2M174 157h2M167 152h2M98 161h2M146 92h2M146 166h2M177 122h2M159 151h2M141 138h2M154 156h2M157 135h2M119 173h2M169 132h2M143 161h2M110 155h2M190 150h2M131 185h2M148 135h2M148 106h2M119 113h2M162 142h2M167 101h2M132 175h2M128 105h2M129 137h2M144 172h2M170 177h2M155 133h2M134 113h2M169 170h2M146 125h2M157 154h2M147 120h2M149 132h2M159 157h2M153 135h2M174 160h2M169 162h2M157 152h2M123 106h2M126 157h2M162 148h2M146 183h2M136 106h2M114 137h2M158 160h2M140 161h2M143 129h2M137 160h2M163 120h2M125 147h2M186 119h2M119 153h2M154 131h2" stroke="#000" stroke-width="1.7" fill="none"/>
<path transform="scale(.5)" d="M159 115h2M164 114h2M169 164h2M159 153h2M165 120h2M159 116h2M163 140h2M169 126h2M153 129h2M175 134h2M162 101h2M159 138h2M155 149h2M158 118h2M157 129h2M170 122h2M148 129h2M166 152h2M153 151h2M167 136h2M156 118h2M154 143h2M164 145h2M176 130h2M162 157h2M152 124h2M159 125h2M163 118h2M171 111h2M156 106h2M151 138h2M167 127h2M169 139h2M157 130h2M165 159h2M159 135h2M166 147h2M165 145h2M154 126h2M147 129h2M180 133h2M163 134h2M163 111h2M157 128h2M163 118h2M161 120h2M152 121h2M156 142h2M173 138h2M160 122h2M150 123h2M174 146h2M164 127h2M162 136h2" stroke="#fff" stroke-width="1.7" fill="none" opacity="0.85"/>
<rect x="71.20" y="45.40" width="23.40" height="33.40" fill="none" stroke="#777" stroke-width="0.6"/>
<line x1="83.70" y1="45.40" x2="83.70" y2="93.00" stroke="#222" stroke-width="0.8"/>
<line x1="42.50" y1="78.80" x2="83.70" y2="78.80" stroke="#999" stroke-width="0.5"/>
<text x="72" y="43.2" font-size="12" font-weight="normal" font-style="normal" text-anchor="start">13</text>
<text x="96.3" y="43.2" font-size="12" font-weight="normal" font-style="normal" text-anchor="start">12</text>
<text x="95.4" y="91" font-size="12" font-weight="normal" font-style="normal" text-anchor="start">38</text>
<text x="60.4" y="65.8" font-size="13" font-weight="bold" font-style="italic" text-anchor="start" stroke="#000" stroke-width="0.2">E</text>
<text x="99.6" y="65.8" font-size="13" font-weight="bold" font-style="italic" text-anchor="start" stroke="#000" stroke-width="0.2">F</text>
<clipPath id="c2"><rect x="140.2" y="26.6" width="75.20000000000002" height="66.5"/></clipPath>
<g clip-path="url(#c2)">
<ellipse cx="150" cy="88" rx="6.0" ry="3.1" transform="rotate(0 150 88)" fill="#000" opacity="0.36" filter="url(#bl)"/>
<ellipse cx="172" cy="87" rx="3.4" ry="4.3" transform="rotate(0 172 87)" fill="#000" opacity="0.36" filter="url(#bl)"/>
</g>
<path transform="scale(.5)" d="M300 178h2M283 176h2M306 181h2M311 176h2M286 183h2M308 173h2M310 181h2M299 164h2M295 172h2M292 176h2M289 178h2M319 170h2M310 173h2M305 175h2M313 172h2M307 172h2M302 176h2M311 168h2M287 183h2M304 184h2M290 177h2M306 184h2M296 180h2M299 172h2M307 166h2M290 183h2M295 174h2M304 182h2M305 171h2M295 181h2M299 173h2M308 182h2M321 171h2M293 172h2M303 174h2M311 181h2M294 175h2M306 177h2M290 183h2M306 174h2M302 170h2M288 175h2M304 177h2M292 169h2M284 184h2M304 172h2M312 179h2M296 173h2M311 178h2M316 178h2M294 173h2M293 177h2M302 179h2M304 171h2M298 171h2M305 169h2M294 172h2M294 175h2M315 175h2M286 174h2M307 179h2M302 181h2M301 182h2M287 175h2M292 177h2M316 173h2M315 171h2M314 167h2M292 181h2M299 177h2M300 177h2M298 171h2M297 177h2M291 178h2M317 168h2M295 175h2M300 176h2M293 176h2M300 176h2M315 177h2M286 168h2M306 174h2M294 169h2M297 176h2M293 174h2M309 180h2M305 175h2M287 180h2M314 182h2M311 177h2M304 176h2M312 175h2M321 180h2M297 176h2M285 172h2M297 182h2M309 176h2M297 179h2M283 181h2M303 176h2M302 179h2M295 177h2M305 174h2M304 178h2M307 171h2M295 174h2M311 177h2M284 170h2M319 178h2M288 171h2M301 183h2M316 174h2M297 182h2M315 178h2M301 182h2M305 172h2M285 176h2M305 183h2M306 183h2M315 180h2M302 178h2M304 173h2M299 177h2M296 169h2M286 179h2M305 177h2M289 180h2M296 166h2M315 168h2M322 179h2M296 164h2M293 183h2M313 177h2M284 174h2M297 178h2M299 178h2M284 173h2M314 169h2M309 183h2M287 182h2M282 178h2M296 182h2M311 177h2M317 181h2M295 171h2M324 174h2M304 175h2M295 168h2M299 175h2M310 173h2M285 171h2M300 177h2M307 174h2M305 177h2M316 176h2M301 179h2M312 171h2M295 175h2M282 183h2M300 182h2M320 184h2M309 169h2M315 178h2M288 176h2M307 181h2M302 173h2M307 172h2M299 180h2M286 178h2M283 171h2M299 180h2M300 181h2M301 175h2M305 175h2M301 181h2M295 182h2M289 175h2M283 173h2M315 178h2M312 169h2M290 178h2M308 180h2M284 179h2M299 177h2M305 175h2M284 171h2M286 169h2M299 183h2M293 172h2M289 167h2M301 174h2M298 171h2M305 170h2M305 173h2M308 172h2M304 178h2M299 184h2M302 172h2M307 172h2M295 176h2M302 179h2M297 182h2M298 178h2M315 170h2M300 180h2M294 167h2M290 177h2M302 180h2M285 181h2M309 184h2M299 173h2M301 184h2M306 185h2M308 173h2M290 180h2M297 174h2M291 173h2M300 184h2M295 177h2M309 172h2M296 167h2M307 179h2M315 170h2M321 180h2M297 174h2M297 170h2M307 173h2M293 179h2M301 173h2M298 174h2M313 181h2M293 176h2M313 175h2M317 178h2M306 165h2M308 178h2M306 178h2M305 173h2M309 176h2M290 171h2M302 178h2M282 166h2M300 168h2M298 173h2M305 183h2M316 171h2M312 170h2M303 177h2M306 172h2M313 176h2M300 175h2M290 180h2M303 178h2M318 172h2M297 176h2M308 175h2M309 178h2M283 173h2M282 175h2M306 177h2M299 182h2M306 170h2M293 178h2M317 175h2M298 177h2M308 176h2M303 174h2M295 172h2M306 173h2M305 178h2M310 171h2M288 175h2M308 184h2M313 178h2M296 179h2M281 181h2M306 171h2M289 173h2M300 178h2M297 178h2M307 170h2M299 168h2M295 181h2M293 183h2M309 177h2M308 182h2M301 173h2M295 184h2M296 172h2M284 173h2M303 174h2M293 178h2M304 174h2M303 171h2M308 171h2M297 177h2M296 170h2M320 184h2M283 177h2M288 178h2M287 179h2M305 181h2M296 181h2M296 175h2M295 167h2M306 166h2M298 179h2M301 168h2M294 179h2M311 184h2M282 178h2M295 180h2M284 175h2M307 173h2M296 171h2M311 169h2M291 174h2M297 184h2M292 179h2M303 177h2M299 178h2M289 170h2M296 170h2M307 181h2M304 178h2M293 169h2M305 169h2M303 175h2M307 176h2M301 173h2M283 174h2M307 181h2M313 171h2M291 180h2M296 178h2M285 173h2M315 167h2M301 169h2M316 174h2M290 167h2M293 174h2M321 177h2M297 170h2M303 174h2M292 183h2M304 172h2M314 176h2M305 177h2M312 179h2M297 180h2M296 177h2M316 171h2M290 174h2M295 183h2M284 180h2M296 177h2M296 179h2M306 180h2M307 184h2M307 175h2M300 177h2M299 178h2M292 175h2M294 170h2M293 173h2M299 168h2M297 170h2M292 177h2M311 177h2M295 174h2M313 168h2M311 168h2M294 176h2M298 184h2M305 176h2M309 176h2M292 182h2M315 182h2M289 183h2M307 182h2M323 168h2M290 182h2M305 174h2M298 178h2M295 176h2M302 180h2M297 171h2M296 165h2M289 182h2M299 181h2M301 180h2M297 171h2M310 177h2M316 175h2M296 178h2M298 174h2M291 177h2M303 185h2M283 178h2M322 174h2M292 175h2M298 174h2M285 179h2M291 167h2M293 179h2M319 182h2M302 173h2M297 181h2M295 178h2M309 171h2M294 178h2M300 175h2M295 176h2M318 183h2M284 176h2M301 176h2M286 175h2M301 173h2M303 164h2M285 177h2M304 175h2M296 177h2M311 181h2M299 174h2M310 179h2M309 175h2M292 177h2M294 182h2M308 165h2M307 183h2M310 174h2M292 181h2M310 176h2M289 168h2M303 172h2M293 178h2M310 165h2M293 183h2M300 174h2M306 170h2M288 176h2M315 181h2M300 181h2M296 170h2M284 177h2M309 178h2M300 174h2M311 176h2M286 183h2M294 178h2M300 181h2M302 182h2M302 174h2M295 179h2M292 181h2M298 171h2M291 175h2M317 180h2M300 171h2M319 175h2M300 174h2M313 177h2M296 177h2M290 171h2M298 182h2M320 170h2M299 168h2M302 177h2M307 169h2M294 173h2M298 184h2M300 173h2M308 182h2M315 171h2M310 176h2M312 181h2M306 167h2M301 173h2M304 176h2M310 168h2M293 176h2M303 174h2M300 176h2M310 175h2M302 167h2M304 169h2M281 178h2M300 172h2M296 180h2M304 176h2M295 177h2M312 176h2M296 170h2M301 171h2M286 180h2M294 166h2M293 184h2M287 170h2M307 178h2M302 175h2M305 184h2M305 175h2M286 178h2M315 179h2M288 177h2M313 173h2M305 182h2M316 168h2M283 178h2M307 174h2M300 174h2M312 165h2M303 169h2M293 168h2M291 176h2M300 184h2M303 178h2M303 184h2M301 177h2M299 176h2M299 181h2M300 176h2M300 180h2M295 181h2M294 180h2M319 177h2M299 170h2M307 176h2M309 173h2M305 183h2M297 169h2M300 179h2M306 170h2M290 171h2M290 175h2M303 184h2M314 168h2M315 180h2M304 180h2M306 182h2M283 167h2M316 176h2M313 174h2M294 174h2M303 177h2M294 179h2M306 171h2M289 166h2M297 176h2M293 173h2M299 176h2M306 180h2M304 182h2M290 179h2M304 171h2M293 178h2M301 170h2M295 184h2M308 176h2M313 171h2M298 181h2M297 170h2M306 184h2M288 177h2M297 169h2M300 173h2M293 171h2M296 177h2M317 177h2M315 171h2M301 174h2M285 175h2M302 172h2M294 171h2M310 174h2M299 177h2M288 177h2M298 178h2M296 176h2M305 181h2M293 181h2M290 175h2M301 177h2M298 171h2M309 172h2M315 167h2M301 179h2M300 177h2M309 172h2M306 181h2M298 164h2M288 172h2M290 178h2M292 179h2M287 175h2M315 179h2M290 181h2M295 183h2M306 179h2M296 175h2M311 179h2M299 178h2M317 181h2M305 178h2M285 177h2M295 180h2M294 178h2M290 181h2M293 176h2M306 174h2M300 181h2M317 167h2M291 179h2M309 174h2M301 175h2M322 175h2M288 168h2M287 183h2M296 183h2M304 179h2M308 181h2M290 173h2M295 177h2M298 170h2M285 178h2M282 172h2M295 160h2M307 167h2M322 173h2M291 167h2M309 161h2M310 175h2M282 166h2M308 170h2M296 165h2M291 168h2M282 174h2M304 163h2M302 169h2M310 173h2M311 166h2M295 165h2M282 167h2M308 160h2M301 175h2M282 171h2M308 171h2M283 148h2M290 181h2M316 169h2M281 182h2M304 173h2M311 178h2M282 154h2M296 176h2M294 166h2M328 182h2M314 178h2M284 167h2M295 157h2M282 170h2M282 173h2M292 165h2M306 173h2M302 156h2M282 183h2M282 160h2M309 154h2M289 163h2M284 164h2M283 171h2M298 163h2M316 173h2M282 162h2M295 180h2M285 167h2M298 156h2M288 174h2M314 150h2M307 165h2M316 174h2M327 171h2M290 160h2M282 173h2M309 171h2M282 164h2M299 176h2M318 171h2M284 158h2M284 156h2M300 166h2M314 179h2M289 177h2M296 173h2M351 166h2M344 182h2M345 175h2M342 165h2M340 167h2M350 176h2M348 166h2M347 175h2M350 169h2M348 184h2M354 167h2M338 164h2M349 178h2M346 168h2M351 184h2M343 182h2M347 184h2M342 176h2M342 170h2M342 172h2M347 172h2M344 168h2M337 184h2M339 182h2M331 169h2M342 174h2M343 170h2M351 173h2M349 169h2M340 183h2M342 166h2M343 181h2M343 169h2M348 181h2M343 172h2M342 173h2M354 173h2M346 160h2M345 174h2M342 171h2M337 163h2M345 169h2M344 173h2M341 169h2M354 166h2M341 172h2M338 167h2M349 181h2M345 180h2M351 168h2M350 183h2M354 168h2M338 174h2M340 179h2M338 175h2M333 174h2M350 172h2M346 182h2M338 165h2M344 176h2M343 167h2M351 166h2M343 174h2M348 171h2M340 182h2M348 173h2M341 174h2M343 176h2M344 174h2M339 171h2M357 183h2M345 172h2M352 171h2M339 179h2M339 168h2M352 163h2M344 175h2M345 164h2M343 172h2M355 181h2M340 180h2M348 173h2M343 172h2M335 170h2M349 184h2M354 171h2M347 157h2M343 165h2M349 162h2M338 166h2M346 180h2M339 184h2M339 177h2M344 180h2M346 181h2M340 180h2M348 167h2M340 168h2M343 178h2M351 170h2M344 179h2M349 176h2M338 182h2M352 180h2M346 177h2M347 163h2M348 167h2M346 167h2M348 171h2M347 175h2M339 172h2M344 172h2M342 168h2M348 171h2M340 177h2M340 173h2M341 168h2M343 168h2M337 176h2M342 164h2M342 175h2M346 177h2M345 178h2M341 168h2M347 171h2M344 179h2M349 183h2M340 171h2M347 164h2M337 178h2M341 168h2M348 178h2M349 172h2M342 172h2M346 160h2M340 179h2M340 174h2M345 178h2M341 166h2M353 169h2M334 175h2M343 178h2M349 167h2M340 169h2M341 176h2M340 172h2M352 184h2M334 167h2M342 183h2M342 183h2M352 168h2M342 181h2M347 161h2M343 175h2M347 170h2M353 175h2M352 177h2M344 172h2M338 180h2M348 181h2M342 167h2M342 172h2M344 181h2M339 171h2M348 180h2M356 178h2M339 167h2M340 175h2M345 174h2M341 173h2M344 178h2M344 168h2M338 185h2M344 173h2M344 182h2M342 175h2M343 178h2M339 176h2M350 182h2M347 176h2M353 179h2M352 166h2M338 180h2M343 171h2M339 185h2M338 175h2M336 173h2M356 171h2M339 182h2M334 177h2M338 164h2M350 169h2M338 175h2M343 182h2M345 181h2M354 182h2M344 178h2M344 163h2M338 179h2M331 168h2M337 174h2M338 176h2M343 171h2M339 159h2M344 165h2M342 177h2M350 179h2M352 164h2M348 183h2M338 177h2M341 170h2M350 173h2M338 169h2M355 168h2M348 175h2M350 172h2M339 170h2M338 175h2M342 183h2M348 173h2M347 176h2M350 184h2M344 173h2M351 177h2M348 180h2M341 175h2M352 181h2M348 172h2M342 168h2M343 174h2M336 182h2M340 176h2M347 170h2M334 181h2M346 172h2M350 180h2M339 174h2M334 172h2M352 168h2M348 164h2M342 181h2M353 177h2M348 177h2M335 177h2M347 175h2M345 174h2M341 174h2M343 179h2M348 181h2M347 167h2M352 175h2M346 170h2M354 166h2M338 171h2M346 180h2M345 179h2M340 170h2M345 165h2M345 171h2M348 167h2M341 170h2M342 167h2M343 165h2M347 179h2M344 173h2M339 167h2M343 168h2M338 175h2M344 171h2M340 174h2M340 171h2M345 179h2M348 170h2M351 166h2M343 183h2M357 175h2M342 171h2M337 173h2M342 169h2M351 169h2M353 180h2M348 170h2M341 160h2M346 172h2M346 169h2M347 164h2M332 177h2M350 183h2M342 173h2M336 167h2M348 169h2M344 173h2M355 180h2M337 171h2M338 164h2M340 182h2M344 179h2M343 171h2M344 174h2M354 183h2M347 160h2M343 182h2M348 183h2M342 173h2M342 180h2M344 185h2M350 174h2M341 172h2M343 168h2M342 174h2M349 163h2M337 169h2M342 177h2M340 185h2M341 173h2M344 182h2M346 174h2M341 175h2M346 172h2M344 161h2M341 182h2M352 174h2M332 184h2M349 171h2M341 184h2M350 167h2M351 173h2M337 176h2M342 164h2M338 176h2M336 182h2M346 173h2M352 168h2M348 165h2M342 179h2M341 173h2M348 181h2M347 172h2M336 179h2M332 180h2M344 179h2M346 173h2M344 174h2M350 172h2M341 179h2M348 177h2M346 184h2M350 176h2M343 179h2M334 170h2M340 175h2M342 182h2M346 185h2M342 183h2M349 180h2M351 172h2M340 169h2M345 181h2M338 170h2M337 182h2M345 165h2M339 169h2M344 165h2M343 183h2M344 175h2M333 172h2M343 169h2M337 174h2M339 170h2M335 173h2M349 168h2M346 163h2M347 178h2M342 180h2M339 174h2M353 174h2M338 182h2M347 172h2M334 161h2M336 184h2M346 168h2M350 184h2M340 177h2M335 177h2M354 164h2M344 170h2M344 175h2M346 180h2M347 181h2M350 182h2M340 177h2M342 168h2M355 176h2M344 159h2M343 179h2M343 170h2M352 172h2M342 173h2M343 181h2M347 174h2M342 172h2M353 172h2M348 163h2M346 179h2M351 176h2M347 176h2M350 184h2M340 178h2M343 178h2M348 175h2M342 176h2M337 176h2M339 177h2M345 173h2M337 174h2M340 173h2M348 181h2M337 181h2M351 182h2M346 173h2M354 172h2M336 175h2M346 167h2M337 184h2M348 170h2M336 173h2M351 169h2M334 173h2M343 174h2M338 172h2M341 180h2M345 180h2M344 159h2M334 178h2M349 180h2M344 161h2M341 177h2M351 172h2M341 169h2M350 180h2M334 183h2M339 164h2M336 169h2M356 166h2M340 175h2M346 171h2M335 171h2M340 162h2M345 164h2M335 185h2M349 184h2M345 171h2M344 165h2M348 176h2M342 161h2M343 180h2M349 172h2M345 178h2M345 181h2M340 158h2M331 168h2M337 179h2M350 174h2M347 175h2M345 171h2M342 182h2M343 174h2M350 181h2M342 176h2M339 175h2M346 174h2M345 177h2M344 168h2M341 167h2M343 184h2M341 171h2M338 177h2M339 180h2M349 178h2M350 173h2M335 174h2M347 163h2M338 182h2M346 183h2M348 174h2M346 180h2M344 173h2M346 172h2M357 169h2M336 165h2M350 171h2M345 172h2M346 164h2M345 170h2M350 178h2M337 167h2M347 182h2M348 173h2M350 157h2M341 167h2M339 178h2M346 176h2M343 178h2M348 170h2M349 167h2M354 165h2M343 166h2M344 183h2M340 180h2M346 170h2M349 169h2M349 174h2M337 169h2M343 178h2M353 162h2M345 183h2M340 171h2M337 179h2M349 178h2M345 181h2M343 179h2M348 183h2M347 175h2M348 163h2M334 184h2M338 170h2M343 175h2M340 181h2M335 167h2M353 179h2M335 166h2M344 176h2M342 174h2M345 166h2M344 183h2M339 179h2M351 181h2M341 173h2M345 173h2M346 182h2M347 174h2M343 181h2M355 179h2M344 169h2M354 183h2M349 179h2M345 172h2M340 175h2M347 178h2M343 165h2M347 178h2M356 181h2M344 166h2M345 169h2M348 178h2M351 167h2M340 175h2M337 170h2M352 176h2M343 170h2M344 174h2M338 180h2M337 183h2M342 158h2M335 176h2M339 180h2M356 180h2M352 170h2M351 171h2M344 164h2M344 177h2M344 166h2M349 181h2M344 180h2M350 167h2M344 161h2M338 177h2M339 177h2M346 159h2M341 185h2M345 169h2M335 163h2M339 173h2M345 160h2M352 182h2M346 168h2M349 168h2M343 183h2M347 172h2M336 163h2M351 178h2M344 183h2M345 169h2M343 173h2M344 178h2M346 172h2M340 167h2M334 171h2M336 161h2M339 159h2M352 183h2M339 182h2M338 174h2M334 172h2M351 177h2M336 169h2M340 182h2M344 167h2M339 160h2M339 180h2M333 175h2M343 180h2M338 181h2M353 179h2M344 173h2M345 167h2M349 180h2M339 170h2M348 175h2M340 183h2M347 181h2M343 183h2M341 166h2M344 164h2M355 144h2M342 131h2M357 125h2M355 121h2M351 129h2M357 114h2M344 134h2M347 138h2M353 108h2M354 135h2M356 125h2M345 151h2M336 157h2M354 130h2M349 140h2M346 134h2M353 98h2M352 132h2M352 140h2M352 144h2M341 149h2M347 119h2M351 146h2M351 157h2M343 135h2M349 151h2M346 130h2M350 127h2M351 127h2M342 128h2M353 124h2M350 118h2M341 156h2M356 128h2M358 115h2M356 121h2M355 150h2M348 140h2M353 103h2M349 158h2M351 121h2M334 164h2M348 113h2M346 150h2M351 130h2M348 144h2M350 133h2M355 111h2M360 120h2M346 121h2M348 144h2M348 107h2M351 137h2M349 110h2M352 128h2M346 114h2M362 114h2M362 106h2M353 158h2M350 118h2M359 110h2M349 151h2M351 136h2M347 147h2M341 156h2M352 125h2M344 121h2M348 151h2M343 126h2M352 109h2M354 117h2M353 143h2M348 95h2M355 125h2M355 114h2M348 117h2M354 116h2M352 115h2M356 111h2M340 127h2M348 146h2M351 110h2M341 141h2M344 146h2M352 125h2M344 117h2M357 121h2M360 103h2M352 150h2M357 110h2M351 118h2M359 96h2M344 142h2M349 143h2M359 112h2M342 136h2M351 131h2M343 146h2M349 150h2M347 141h2M354 114h2M356 102h2M349 133h2M358 113h2M347 116h2M343 117h2M347 132h2M341 159h2M345 127h2M353 118h2M353 101h2M342 151h2M359 127h2M353 138h2M352 128h2M355 141h2M351 126h2M358 121h2M348 125h2M344 151h2M353 129h2M343 153h2M346 165h2M356 127h2M349 125h2M349 143h2M348 157h2M343 129h2M347 111h2M350 118h2M351 104h2M358 126h2M360 113h2M341 118h2M357 122h2M357 112h2M357 139h2M357 127h2M357 133h2M351 119h2M355 115h2M344 131h2M356 126h2M350 157h2M344 133h2M348 118h2M360 91h2M351 145h2M351 141h2M362 126h2M351 155h2M360 101h2M351 125h2M343 127h2M356 127h2M345 154h2M351 114h2M347 149h2M354 132h2M344 150h2M362 102h2M347 155h2M356 120h2M345 124h2M340 138h2M355 100h2M347 150h2M346 123h2M360 135h2M347 133h2M359 114h2M356 103h2M348 103h2M354 136h2M350 151h2M350 134h2M351 138h2M347 124h2M350 130h2M348 127h2M352 133h2M351 144h2M350 147h2M350 154h2M356 120h2M359 151h2M355 144h2M355 111h2M354 125h2M357 94h2M363 112h2M344 137h2M357 117h2M350 134h2M350 139h2M356 125h2M335 164h2M353 113h2M353 141h2M340 169h2M334 149h2M350 135h2M353 126h2M357 109h2M342 160h2M335 148h2M344 144h2M351 120h2M344 126h2M352 119h2M342 131h2M349 149h2M348 156h2M351 159h2M354 112h2M350 146h2M347 108h2M356 121h2M358 135h2M353 107h2M360 102h2M349 107h2M354 160h2M351 123h2M350 152h2M339 166h2M346 149h2M339 127h2M340 162h2M354 108h2M363 121h2M355 109h2M354 134h2M351 123h2M351 117h2M340 149h2M360 108h2M344 136h2M363 129h2M350 125h2M353 127h2M353 148h2M348 157h2M352 121h2M350 96h2M338 133h2M342 147h2M341 125h2M353 112h2M358 125h2M355 122h2M353 123h2M352 128h2M346 137h2M353 114h2M344 136h2M362 110h2M347 137h2M354 143h2M345 129h2M355 135h2M354 110h2M352 129h2M346 155h2M360 118h2M353 125h2M346 157h2M356 132h2M348 127h2M355 122h2M357 132h2M338 163h2M351 125h2M352 150h2M353 158h2M352 132h2M356 131h2M346 121h2M352 141h2M341 149h2M358 105h2M350 147h2M355 125h2M343 148h2M352 130h2M353 112h2M343 122h2M354 144h2M342 155h2M353 113h2M351 154h2M353 109h2M350 131h2M358 136h2M345 141h2M344 151h2M342 164h2M349 133h2M351 108h2M352 136h2M344 138h2M351 120h2M349 136h2M350 151h2M357 127h2M348 147h2M343 137h2M351 138h2M356 159h2M369 156h2M363 121h2M363 163h2M342 130h2M332 172h2M355 126h2M349 159h2M356 133h2M364 123h2M346 130h2M347 152h2M352 121h2M350 104h2M355 142h2M360 136h2M358 123h2M354 143h2M343 151h2M355 141h2M350 176h2M354 126h2M346 151h2M352 126h2M347 157h2M355 159h2M354 119h2M362 146h2M348 134h2M345 155h2M350 149h2M356 135h2M357 136h2M343 132h2M343 154h2M360 129h2M360 144h2M363 123h2M354 122h2M348 165h2M336 124h2M358 154h2M347 103h2M339 147h2M364 156h2M347 164h2M352 151h2M352 169h2M349 101h2M351 143h2M356 127h2M352 120h2M352 142h2M356 170h2M336 149h2M358 119h2M355 140h2M345 153h2M371 152h2M361 159h2M353 157h2M347 143h2M360 163h2M351 135h2M358 139h2M355 154h2M364 136h2M370 120h2M362 115h2M368 137h2M358 134h2M369 108h2M372 130h2M370 110h2M362 137h2M375 129h2M367 118h2M359 138h2M368 141h2M364 139h2M364 132h2M375 114h2M373 124h2M363 127h2M371 114h2M367 116h2M364 121h2M372 117h2M374 119h2M365 139h2M375 115h2M371 108h2M366 119h2M372 107h2M365 114h2M368 107h2M361 127h2M361 136h2M361 98h2M376 141h2M364 109h2M348 183h2M352 129h2M308 157h2M358 152h2M340 175h2M325 170h2M355 139h2M342 152h2M350 133h2M336 152h2M340 150h2M344 147h2M331 168h2M329 144h2M324 130h2M348 149h2M338 158h2M337 162h2M372 156h2M335 179h2M353 120h2M364 154h2M355 130h2M325 138h2M350 130h2M327 167h2M329 152h2M324 120h2M339 148h2M315 167h2M355 166h2" stroke="#000" stroke-width="1.7" fill="none"/>
<rect x="168.20" y="45.20" width="23.50" height="33.50" fill="none" stroke="#777" stroke-width="0.6"/>
<line x1="180.30" y1="45.20" x2="180.30" y2="78.70" stroke="#222" stroke-width="0.8"/>
<rect x="162.00" y="78.70" width="20.70" height="14.30" fill="none" stroke="#888" stroke-width="0.6"/>
<text x="169" y="43" font-size="12" font-weight="normal" font-style="normal" text-anchor="start">14</text>
<text x="193.6" y="43" font-size="12" font-weight="normal" font-style="normal" text-anchor="start">2</text>
<text x="189.5" y="97.6" font-size="12" font-weight="normal" font-style="normal" text-anchor="start">53</text>
<text x="157.3" y="66" font-size="13" font-weight="bold" font-style="italic" text-anchor="start" stroke="#000" stroke-width="0.2">E</text>
<text x="196.7" y="66" font-size="13" font-weight="bold" font-style="italic" text-anchor="start" stroke="#000" stroke-width="0.2">F</text>
<text x="35.8" y="59" font-size="12.5" font-weight="bold" font-style="normal" text-anchor="middle" transform="rotate(-90 35.8 59)" stroke="#000" stroke-width="0.2">IgM</text>
<text x="82.7" y="108.7" font-size="12.5" font-weight="bold" font-style="normal" text-anchor="middle" stroke="#000" stroke-width="0.2">B220</text>
<text x="177.4" y="108.7" font-size="12.5" font-weight="bold" font-style="normal" text-anchor="middle" stroke="#000" stroke-width="0.2">B220</text>
<path d="M44.1 116.9H116.9" fill="none" stroke="#444" stroke-width="0.9"/>
<path d="M116.9 116.9V184.8" fill="none" stroke="#888" stroke-width="0.9"/>
<path d="M44.1 116.9V184.8" fill="none" stroke="#333" stroke-width="0.9"/>
<path d="M44.1 184.8H116.9" fill="none" stroke="#333" stroke-width="0.9"/>
<line x1="62.30" y1="184.80" x2="62.30" y2="186.60" stroke="#444" stroke-width="0.8"/>
<line x1="42.30" y1="133.88" x2="44.10" y2="133.88" stroke="#444" stroke-width="0.8"/>
<line x1="80.50" y1="184.80" x2="80.50" y2="186.60" stroke="#444" stroke-width="0.8"/>
<line x1="42.30" y1="150.85" x2="44.10" y2="150.85" stroke="#444" stroke-width="0.8"/>
<line x1="98.70" y1="184.80" x2="98.70" y2="186.60" stroke="#444" stroke-width="0.8"/>
<line x1="42.30" y1="167.83" x2="44.10" y2="167.83" stroke="#444" stroke-width="0.8"/>
<path d="M140.7 116.9H214.6" fill="none" stroke="#999" stroke-width="0.9"/>
<path d="M214.6 116.9V184.8" fill="none" stroke="#aaa" stroke-width="0.9"/>
<path d="M140.7 116.9V184.8" fill="none" stroke="#444" stroke-width="0.9"/>
<path d="M140.7 184.8H214.6" fill="none" stroke="#444" stroke-width="0.9"/>
<line x1="159.17" y1="184.80" x2="159.17" y2="186.60" stroke="#444" stroke-width="0.8"/>
<line x1="138.90" y1="133.88" x2="140.70" y2="133.88" stroke="#444" stroke-width="0.8"/>
<line x1="177.65" y1="184.80" x2="177.65" y2="186.60" stroke="#444" stroke-width="0.8"/>
<line x1="138.90" y1="150.85" x2="140.70" y2="150.85" stroke="#444" stroke-width="0.8"/>
<line x1="196.12" y1="184.80" x2="196.12" y2="186.60" stroke="#444" stroke-width="0.8"/>
<line x1="138.90" y1="167.83" x2="140.70" y2="167.83" stroke="#444" stroke-width="0.8"/>
<clipPath id="c3"><rect x="64.8" y="139.8" width="20.60000000000001" height="45.0"/></clipPath>
<g clip-path="url(#c3)">
<ellipse cx="76.8" cy="167" rx="3.4" ry="7.8" transform="rotate(0 76.8 167)" fill="#000" opacity="0.39" filter="url(#bl)"/>
</g>
<path transform="scale(.5)" d="M151 319h2M153 336h2M153 326h2M148 325h2M153 328h2M163 330h2M156 328h2M153 322h2M151 315h2M142 351h2M148 340h2M153 327h2M158 327h2M156 329h2M159 346h2M154 348h2M156 354h2M153 314h2M155 337h2M152 331h2M152 318h2M163 324h2M148 314h2M149 333h2M162 342h2M150 318h2M147 333h2M158 328h2M162 359h2M154 306h2M160 333h2M157 347h2M148 335h2M155 324h2M157 332h2M151 358h2M155 355h2M153 347h2M149 336h2M160 306h2M157 331h2M160 336h2M153 318h2M152 325h2M150 330h2M155 317h2M159 331h2M157 307h2M151 330h2M151 325h2M155 339h2M148 309h2M158 330h2M159 345h2M153 316h2M152 325h2M160 312h2M159 314h2M150 316h2M150 328h2M156 326h2M157 356h2M154 319h2M153 333h2M152 349h2M160 359h2M156 332h2M157 324h2M150 346h2M154 320h2M150 334h2M147 333h2M147 322h2M151 319h2M147 327h2M159 344h2M157 330h2M154 324h2M153 324h2M146 321h2M164 339h2M149 333h2M151 349h2M153 326h2M157 338h2M150 324h2M154 313h2M149 347h2M158 348h2M151 326h2M152 328h2M161 331h2M161 325h2M156 355h2M149 326h2M150 313h2M152 326h2M166 328h2M142 346h2M159 334h2M155 343h2M150 334h2M154 355h2M161 336h2M146 345h2M153 349h2M154 336h2M157 325h2M150 363h2M149 346h2M157 344h2M161 317h2M159 308h2M154 338h2M159 348h2M148 330h2M153 325h2M149 326h2M160 351h2M158 355h2M154 320h2M150 337h2M159 349h2M149 346h2M151 342h2M159 353h2M151 337h2M156 329h2M154 342h2M145 326h2M166 340h2M150 311h2M148 341h2M157 340h2M157 326h2M162 320h2M156 331h2M144 345h2M152 343h2M160 336h2M150 331h2M153 352h2M158 354h2M158 324h2M159 346h2M153 340h2M152 318h2M153 344h2M152 305h2M149 348h2M155 348h2M149 329h2M148 324h2M156 336h2M151 338h2M146 329h2M145 315h2M146 320h2M162 352h2M160 327h2M157 319h2M151 337h2M145 337h2M157 308h2M140 330h2M153 336h2M147 341h2M154 325h2M162 337h2M158 358h2M151 331h2M144 331h2M156 341h2M155 318h2M149 310h2M146 335h2M155 322h2M152 324h2M157 342h2M151 328h2M147 328h2M166 334h2M158 341h2M162 330h2M149 347h2M159 325h2M160 334h2M153 357h2M157 338h2M152 336h2M159 340h2M149 339h2M153 338h2M153 306h2M145 329h2M141 315h2M165 343h2M151 338h2M141 337h2M159 336h2M146 346h2M151 327h2M155 330h2M165 332h2M165 340h2M147 334h2M154 352h2M161 325h2M151 364h2M149 339h2M162 321h2M152 324h2M156 339h2M153 342h2M149 329h2M156 360h2M153 335h2M161 335h2M161 337h2M160 336h2M148 323h2M156 358h2M164 330h2M149 320h2M159 314h2M159 339h2M157 318h2M156 346h2M153 347h2M154 338h2M152 317h2M153 340h2M149 309h2M145 351h2M152 324h2M160 332h2M145 328h2M149 331h2M149 335h2M156 327h2M152 332h2M158 325h2M158 350h2M153 321h2M152 311h2M151 319h2M153 329h2M156 335h2M156 333h2M155 319h2M157 350h2M160 317h2M156 313h2M158 331h2M151 324h2M152 334h2M148 335h2M155 341h2M153 334h2M167 347h2M155 316h2M157 341h2M156 332h2M154 335h2M153 352h2M156 330h2M152 361h2M149 327h2M155 336h2M155 352h2M160 339h2M154 333h2M152 347h2M147 320h2M151 322h2M149 350h2M141 341h2M146 331h2M150 321h2M145 335h2M151 306h2M160 358h2M152 324h2M152 340h2M159 322h2M156 333h2M160 329h2M152 323h2M146 337h2M158 348h2M155 328h2M148 319h2M150 338h2M154 304h2M153 330h2M148 334h2M157 321h2M146 330h2M155 331h2M162 336h2M148 344h2M150 343h2M154 350h2M148 343h2M156 322h2M158 363h2M156 324h2M153 351h2M155 353h2M150 351h2M145 332h2M152 328h2M160 326h2M156 358h2M158 329h2M150 308h2M156 345h2M160 337h2M166 344h2M141 323h2M158 329h2M158 324h2M166 333h2M145 335h2M159 326h2M162 323h2M152 346h2M152 327h2M153 343h2M163 352h2M164 334h2M144 333h2M151 321h2M151 333h2M154 346h2M148 349h2M154 344h2M160 318h2M162 325h2M156 348h2M159 314h2M154 349h2M153 333h2M154 355h2M151 322h2M147 327h2M152 339h2M153 312h2M145 343h2M158 316h2M159 364h2M157 312h2M156 334h2M151 329h2M152 333h2M149 327h2M157 341h2M146 328h2M162 343h2M163 316h2M148 306h2M143 329h2M148 320h2M150 332h2M158 341h2M144 353h2M152 321h2M153 329h2M146 354h2M150 326h2M157 356h2M156 322h2M156 348h2M156 342h2M151 333h2M144 325h2M147 334h2M162 305h2M146 322h2M153 349h2M149 324h2M160 339h2M157 345h2M149 337h2M150 325h2M154 340h2M146 324h2M157 336h2M157 330h2M149 344h2M157 345h2M149 343h2M162 330h2M148 337h2M154 341h2M146 337h2M159 343h2M157 350h2M149 350h2M155 321h2M152 338h2M155 352h2M155 327h2M166 330h2M149 346h2M151 324h2M148 349h2M148 335h2M151 332h2M149 336h2M157 348h2M152 319h2M145 334h2M154 351h2M154 316h2M150 324h2M157 329h2M157 341h2M143 331h2M161 327h2M154 332h2M147 362h2M153 342h2M151 352h2M160 349h2M159 343h2M161 339h2M154 345h2M149 345h2M154 325h2M152 322h2M149 337h2M154 345h2M153 342h2M157 325h2M144 325h2M152 327h2M166 325h2M156 324h2M157 318h2M159 336h2M151 319h2M163 327h2M162 318h2M164 357h2M154 347h2M157 329h2M154 319h2M146 336h2M158 336h2M147 345h2M154 344h2M152 331h2M160 352h2M147 320h2M159 339h2M154 321h2M159 336h2M155 339h2M151 339h2M154 343h2M156 317h2M150 331h2M160 326h2M160 348h2M159 363h2M154 338h2M160 339h2M159 332h2M162 339h2M143 348h2M153 322h2M152 330h2M160 338h2M153 334h2M149 326h2M151 331h2M147 329h2M159 340h2M154 339h2M152 319h2M159 363h2M157 343h2M157 318h2M152 331h2M144 333h2M156 313h2M152 328h2M148 342h2M163 340h2M159 344h2M153 342h2M161 329h2M153 316h2M143 324h2M159 339h2M155 351h2M144 352h2M154 344h2M161 324h2M149 339h2M153 327h2M153 325h2M154 329h2M163 321h2M157 335h2M162 322h2M151 357h2M150 329h2M151 322h2M160 354h2M153 324h2M146 343h2M151 341h2M157 329h2M156 338h2M154 334h2M152 328h2M154 341h2M159 334h2M152 350h2M148 359h2M159 329h2M162 353h2M147 333h2M156 348h2M154 317h2M160 332h2M156 330h2M153 316h2M157 326h2M144 339h2M153 347h2M158 319h2M153 334h2M154 321h2M154 347h2M161 353h2M158 330h2M151 354h2M159 334h2M156 340h2M152 352h2M164 345h2M150 337h2M159 343h2M150 346h2M158 342h2M151 334h2M143 334h2M151 330h2M152 330h2M154 335h2M150 332h2M153 340h2M156 330h2M149 313h2M147 339h2M148 355h2M153 329h2M153 327h2M150 335h2M145 336h2M153 323h2M159 339h2M160 326h2M147 319h2M145 310h2M162 328h2M155 327h2M153 354h2M144 321h2M154 322h2M157 351h2M159 344h2M153 347h2M149 319h2M152 331h2M160 321h2M160 324h2M146 312h2M153 316h2M155 335h2M151 309h2M151 340h2M144 343h2M154 327h2M155 342h2M153 324h2M158 325h2M156 347h2M161 355h2M159 336h2M152 337h2M157 343h2M149 354h2M145 347h2M147 320h2M151 330h2M146 342h2M153 352h2M148 310h2M157 331h2M159 304h2M147 335h2M164 318h2M143 328h2M161 355h2M146 326h2M143 323h2M148 340h2M160 365h2M152 345h2M155 336h2M164 343h2M162 338h2M158 341h2M153 325h2M151 334h2M152 330h2M150 345h2M152 332h2M152 351h2M151 352h2M149 354h2M157 328h2M156 349h2M148 331h2M155 331h2M152 334h2M155 344h2M162 330h2M163 330h2M153 315h2M151 330h2M160 308h2M150 332h2M157 339h2M158 332h2M152 350h2M163 339h2M154 323h2M165 339h2M157 313h2M157 332h2M152 354h2M153 345h2M164 319h2M149 343h2M154 335h2M153 336h2M156 328h2M152 337h2M148 340h2M141 342h2M153 319h2M161 319h2M165 325h2M160 333h2M163 331h2M159 330h2M143 339h2M156 339h2M163 325h2M146 337h2M150 333h2M154 323h2M160 332h2M164 337h2M159 330h2M150 327h2M149 340h2M154 320h2M145 323h2M144 323h2M145 343h2M147 326h2M153 334h2M156 344h2M157 330h2M161 339h2M150 353h2M147 340h2M161 336h2M156 336h2M157 337h2M154 343h2M143 337h2M152 359h2M155 326h2M157 329h2M147 330h2M156 349h2M159 337h2M153 337h2M160 332h2M160 324h2M154 344h2M158 337h2M151 311h2M151 323h2M151 354h2M149 345h2M154 320h2M154 344h2M147 319h2M152 343h2M150 339h2M156 334h2M156 350h2M153 338h2M148 325h2M153 345h2M150 316h2M159 364h2M154 320h2M156 322h2M155 348h2M152 343h2M154 322h2M150 326h2M161 349h2M155 314h2M151 329h2M143 334h2M155 317h2M151 328h2M164 343h2M158 335h2M147 346h2M150 309h2M158 330h2M154 341h2M152 339h2M161 330h2M152 334h2M157 329h2M154 325h2M153 341h2M149 332h2M146 325h2M154 361h2M150 355h2M151 359h2M155 360h2M153 342h2M152 343h2M151 355h2M158 350h2M151 358h2M146 363h2M158 366h2M158 355h2M157 353h2M158 350h2M151 360h2M152 363h2M151 359h2M150 355h2M162 346h2M149 340h2M153 367h2M157 354h2M152 365h2M147 347h2M156 362h2M153 359h2M156 353h2M158 348h2M157 365h2M155 353h2M154 334h2M155 342h2M146 363h2M151 359h2M154 339h2M151 353h2M156 357h2M149 351h2M154 344h2M152 351h2M146 365h2M152 365h2M150 367h2M155 350h2M154 359h2M154 348h2M157 361h2M154 366h2M151 368h2M160 352h2M153 358h2M158 367h2M151 363h2M159 363h2M153 368h2M155 362h2M152 334h2M155 363h2M156 361h2M155 366h2M154 368h2M157 351h2M155 360h2M155 368h2M158 359h2M158 347h2M153 366h2M151 360h2M156 358h2M156 361h2M153 360h2M152 352h2M148 355h2M148 356h2M155 345h2M154 359h2M153 347h2M154 360h2M157 362h2M155 360h2M152 359h2M162 357h2M159 366h2M152 334h2M158 362h2M153 349h2M155 357h2M158 350h2M161 339h2M155 355h2M156 351h2M153 365h2M147 358h2M157 336h2M152 362h2M145 354h2M148 343h2M155 367h2M158 350h2M156 339h2M149 361h2M153 346h2M147 354h2M162 336h2M150 367h2M147 350h2M154 367h2M154 368h2M154 360h2M155 341h2M150 354h2M155 344h2M151 349h2M155 352h2M156 360h2M151 353h2M149 357h2M157 346h2M147 361h2M153 356h2M156 360h2M157 352h2M146 351h2M153 352h2M155 354h2M159 350h2M154 353h2M162 347h2M150 352h2M157 356h2M153 342h2M146 354h2M153 367h2M156 366h2M151 344h2M153 365h2M152 344h2M158 367h2M150 366h2M157 354h2M153 350h2M157 362h2M157 353h2M151 363h2M153 345h2M160 357h2M154 364h2M155 357h2M162 338h2M156 346h2M154 354h2M155 332h2M157 367h2M157 362h2M155 351h2M156 359h2M159 364h2M151 366h2M155 350h2M154 367h2M156 366h2M158 359h2M155 344h2M154 357h2M154 354h2M155 350h2M153 343h2M163 347h2M149 351h2M152 345h2M158 367h2M156 345h2M148 359h2M156 349h2M154 355h2M158 358h2M155 362h2M146 343h2M149 358h2M152 337h2M157 354h2M158 363h2M149 367h2M159 360h2M155 363h2M156 343h2M157 366h2M152 347h2M152 350h2M156 364h2M154 353h2M147 352h2M150 351h2M155 358h2M152 347h2M150 353h2M153 366h2M147 365h2M156 351h2M151 358h2M156 354h2M153 356h2M150 359h2M156 357h2M150 356h2M154 359h2M152 364h2M158 364h2M155 368h2M153 342h2M154 365h2M157 343h2M155 368h2M150 359h2M153 364h2M152 339h2M152 362h2M158 359h2M154 363h2M153 351h2M155 367h2M152 361h2M152 349h2M155 343h2M151 344h2M152 347h2M163 362h2M154 343h2M145 360h2M152 366h2M153 343h2M152 341h2M149 363h2M152 363h2M152 354h2M152 351h2M152 368h2M147 364h2M158 355h2M153 351h2M154 361h2M154 348h2M150 363h2M149 350h2M154 362h2M154 358h2M155 367h2M149 367h2M156 361h2M148 354h2M153 362h2M157 363h2M149 368h2M157 356h2M151 362h2M157 352h2M153 367h2M156 364h2M150 341h2M158 362h2M153 353h2M152 368h2M149 365h2M154 359h2M153 356h2M147 361h2M151 352h2M155 361h2M154 361h2M158 347h2M155 360h2M157 350h2M153 351h2M158 367h2M152 354h2M155 347h2M154 364h2M157 349h2M152 355h2M149 359h2M154 343h2M153 349h2M153 347h2M159 346h2M157 358h2M159 355h2M154 357h2M147 367h2M153 345h2M153 366h2M156 366h2M157 352h2M148 360h2M156 353h2M152 363h2M152 350h2M148 349h2M151 368h2M147 343h2M155 341h2M146 350h2M149 347h2M153 360h2M151 353h2M157 355h2M157 351h2M156 364h2M153 353h2M153 361h2M149 356h2M152 362h2M156 353h2M151 357h2M153 356h2M155 368h2M153 360h2M161 368h2M160 358h2M155 347h2M159 345h2M151 356h2M155 359h2M150 353h2M156 367h2M157 360h2M153 351h2M152 355h2M157 303h2M167 299h2M159 305h2M153 304h2M164 305h2M157 308h2M159 312h2M164 301h2M149 322h2M162 308h2M152 309h2M162 301h2M163 307h2M152 304h2M141 310h2M145 302h2M148 309h2M158 307h2M155 311h2M164 312h2M164 307h2M156 302h2M158 300h2M157 302h2M152 317h2M155 314h2M152 291h2M163 306h2M150 315h2M147 301h2M161 301h2M161 305h2M153 308h2M151 316h2M161 308h2M158 312h2M165 294h2M160 315h2M152 307h2M152 318h2M147 312h2M162 312h2M151 303h2M140 298h2M161 299h2M143 305h2M144 311h2M148 315h2M153 295h2M149 302h2M149 318h2M147 310h2M150 312h2M145 294h2M157 319h2M145 304h2M151 299h2M160 308h2M145 305h2M162 301h2M151 300h2M155 302h2M160 300h2M145 311h2M156 299h2M156 302h2M151 312h2M153 300h2M151 312h2M154 312h2M164 305h2M152 310h2M167 304h2M165 317h2M148 299h2M157 319h2M154 308h2M167 310h2M167 299h2M164 302h2M139 299h2M151 306h2M159 313h2M157 300h2M165 318h2M154 302h2M154 305h2M150 307h2M150 313h2M150 311h2M156 308h2M157 298h2M159 301h2M154 303h2M165 317h2M152 312h2M158 321h2M160 306h2M152 297h2M156 314h2M151 313h2M155 303h2M146 317h2M147 312h2M148 309h2M158 321h2M140 324h2M155 308h2M156 304h2M152 316h2M144 306h2M157 292h2M153 321h2M156 313h2M158 309h2M156 300h2M153 324h2M147 305h2M146 302h2M149 296h2M156 298h2M157 323h2M141 305h2M153 310h2M155 317h2M155 292h2M164 299h2M153 310h2M148 308h2M164 293h2M143 303h2M153 296h2M139 315h2M156 296h2M158 307h2M155 296h2M153 311h2M143 298h2M160 324h2M158 307h2M147 304h2M152 311h2M152 328h2M162 288h2M146 307h2M160 311h2M163 293h2M158 314h2M157 320h2M151 302h2M147 309h2M157 315h2M163 312h2M162 305h2M148 313h2M160 319h2M153 303h2M152 310h2M154 306h2M156 305h2M156 302h2M144 304h2M166 300h2M160 319h2M150 309h2M139 312h2M164 309h2M141 302h2M149 308h2M156 304h2M152 300h2M158 309h2M156 303h2M157 305h2M156 306h2M150 298h2M142 295h2M157 292h2M149 307h2M147 305h2M157 325h2M162 297h2M147 306h2M150 314h2M145 310h2M155 312h2M157 308h2M143 304h2M148 312h2M153 308h2M161 306h2M164 315h2M145 302h2M162 302h2M161 302h2M153 316h2M144 308h2M151 309h2M165 311h2M146 316h2M151 308h2M161 304h2M164 305h2M158 303h2M157 308h2M161 307h2M158 307h2M158 305h2M161 302h2M162 304h2M158 302h2M157 308h2M161 303h2M163 301h2M158 305h2M166 305h2M161 310h2M157 301h2M161 300h2M157 303h2M159 301h2M162 301h2M160 307h2M155 303h2M160 302h2M161 298h2M160 302h2M158 308h2M167 307h2M158 309h2M162 301h2M163 302h2M163 307h2M164 301h2M161 304h2M157 305h2M163 300h2M159 300h2M157 301h2M165 302h2M160 307h2M164 309h2M155 306h2M156 302h2M160 302h2M167 303h2M164 303h2M161 306h2M162 306h2M156 306h2M162 306h2M161 305h2M157 308h2M157 308h2M164 304h2M160 306h2M160 300h2M162 300h2M160 310h2M163 303h2M161 302h2M161 299h2M163 304h2M159 302h2M160 303h2M159 302h2M165 306h2M162 305h2M158 296h2M166 306h2M162 305h2M162 304h2M160 297h2M163 304h2M164 305h2M160 306h2M162 303h2M160 303h2M160 303h2M164 304h2M164 298h2M161 302h2M159 300h2M158 302h2M161 303h2M157 303h2M166 301h2M161 307h2M159 302h2M159 308h2M161 304h2M161 305h2M160 297h2M158 304h2M157 303h2M165 305h2M159 304h2M164 299h2M157 302h2M160 304h2M159 304h2M161 300h2M159 300h2M162 305h2M163 301h2M159 297h2M161 299h2M162 307h2M162 306h2M162 305h2M164 308h2M167 303h2M163 307h2M162 305h2M157 307h2M158 302h2M159 306h2M158 305h2M163 304h2M160 306h2M165 303h2M158 302h2M158 303h2M161 297h2M165 301h2M160 298h2M155 301h2M162 307h2M156 305h2M165 303h2M164 305h2M158 307h2M159 305h2M160 303h2M161 308h2M156 300h2M161 307h2M160 303h2M163 309h2M158 299h2M160 306h2M157 308h2M164 307h2M159 300h2M163 305h2M163 300h2M164 308h2M160 304h2M162 306h2M160 302h2M158 307h2M161 305h2M159 300h2M160 300h2M160 302h2M162 301h2M156 302h2M157 306h2M160 299h2M158 304h2M161 298h2M161 305h2M164 308h2M161 300h2M160 306h2M158 308h2M158 300h2M163 304h2M162 303h2M161 302h2M167 306h2M161 306h2M163 302h2M152 330h2M146 309h2M149 319h2M148 283h2M152 340h2M152 364h2M158 318h2M146 337h2M148 290h2M152 319h2M149 339h2M153 366h2M150 333h2M147 315h2M166 295h2M154 289h2M154 285h2M141 350h2M164 329h2M153 348h2M142 318h2M140 324h2M150 329h2M157 312h2M133 300h2M141 318h2M147 325h2M162 327h2M142 319h2M144 321h2M156 301h2M157 365h2M163 362h2M152 296h2M167 325h2M153 318h2M143 340h2M140 296h2M155 318h2M144 337h2M163 320h2M150 338h2M159 349h2M156 311h2M155 326h2M137 353h2M156 356h2M150 342h2M150 330h2M158 327h2M156 325h2M161 340h2M138 362h2M155 315h2M146 368h2M155 339h2M146 363h2M169 310h2M160 292h2M148 327h2M151 338h2M154 334h2M150 332h2M146 368h2M152 352h2M152 323h2M149 299h2M168 335h2M152 316h2M162 319h2" stroke="#000" stroke-width="1.7" fill="none"/>
<rect x="64.50" y="139.80" width="20.90" height="19.30" fill="none" stroke="#555" stroke-width="0.7"/>
<path d="M64.5 159.1V184.8M85 159.1V184.8" stroke="#888" stroke-width="0.7" fill="none"/>
<text x="78.5" y="136.6" font-size="12" font-weight="normal" font-style="normal" text-anchor="middle">26</text>
<text x="89.8" y="176.2" font-size="12" font-weight="normal" font-style="normal" text-anchor="start">74</text>
<text x="54" y="178.7" font-size="13" font-weight="bold" font-style="italic" text-anchor="start" stroke="#000" stroke-width="0.2">D</text>
<clipPath id="c4"><rect x="161.5" y="139.8" width="20.099999999999994" height="45.0"/></clipPath>
<g clip-path="url(#c4)">
<ellipse cx="172.3" cy="168" rx="3.0" ry="7.8" transform="rotate(0 172.3 168)" fill="#000" opacity="0.39" filter="url(#bl)"/>
</g>
<path transform="scale(.5)" d="M342 329h2M352 340h2M344 328h2M351 340h2M343 347h2M349 324h2M350 350h2M343 319h2M350 332h2M344 332h2M343 346h2M339 343h2M350 349h2M348 339h2M344 335h2M340 357h2M344 323h2M349 355h2M346 332h2M339 344h2M343 328h2M348 320h2M348 306h2M342 318h2M343 346h2M338 353h2M341 330h2M350 327h2M352 333h2M344 324h2M350 335h2M342 324h2M342 335h2M341 346h2M344 328h2M347 354h2M334 340h2M350 338h2M349 317h2M341 349h2M344 337h2M348 341h2M347 330h2M343 352h2M342 318h2M343 347h2M353 338h2M342 344h2M346 351h2M347 345h2M347 341h2M340 334h2M353 352h2M349 341h2M344 340h2M343 349h2M343 327h2M337 355h2M341 325h2M347 358h2M348 332h2M347 326h2M343 336h2M345 346h2M347 359h2M349 333h2M346 326h2M342 332h2M350 328h2M337 324h2M339 334h2M343 322h2M341 331h2M347 344h2M351 333h2M348 337h2M339 328h2M355 334h2M353 346h2M353 334h2M349 332h2M339 322h2M347 316h2M347 325h2M346 319h2M349 333h2M337 318h2M345 316h2M346 342h2M342 353h2M352 340h2M347 342h2M344 352h2M342 305h2M345 341h2M349 322h2M352 326h2M348 345h2M346 350h2M342 361h2M347 331h2M337 336h2M351 356h2M342 324h2M350 337h2M340 330h2M345 349h2M352 329h2M352 318h2M348 335h2M347 331h2M341 340h2M350 309h2M345 331h2M340 320h2M347 344h2M348 312h2M337 329h2M343 359h2M343 338h2M349 358h2M346 341h2M354 331h2M336 327h2M343 353h2M346 352h2M345 337h2M342 321h2M347 341h2M347 330h2M343 341h2M347 362h2M340 349h2M349 333h2M345 336h2M352 340h2M344 348h2M347 334h2M348 347h2M343 347h2M334 320h2M343 338h2M338 354h2M343 338h2M345 345h2M342 345h2M341 318h2M347 338h2M349 312h2M345 328h2M344 331h2M343 328h2M350 315h2M337 340h2M355 327h2M340 322h2M340 351h2M348 347h2M346 339h2M342 324h2M348 367h2M343 352h2M341 337h2M353 335h2M348 329h2M354 321h2M348 333h2M346 340h2M351 347h2M350 341h2M340 353h2M352 342h2M349 333h2M338 348h2M341 360h2M348 336h2M342 337h2M340 331h2M353 332h2M354 335h2M347 325h2M343 331h2M338 360h2M348 335h2M340 336h2M340 324h2M344 363h2M336 343h2M342 319h2M344 337h2M341 359h2M347 329h2M337 339h2M341 349h2M340 352h2M342 339h2M343 344h2M350 330h2M340 360h2M349 361h2M349 338h2M352 328h2M343 331h2M348 326h2M344 326h2M343 351h2M350 334h2M347 328h2M342 309h2M339 351h2M337 335h2M346 352h2M345 328h2M342 325h2M347 330h2M347 317h2M343 362h2M346 335h2M350 340h2M352 322h2M348 323h2M348 355h2M341 341h2M347 327h2M346 323h2M349 347h2M344 345h2M356 334h2M336 340h2M343 326h2M349 348h2M348 356h2M342 331h2M347 340h2M344 337h2M340 339h2M350 328h2M347 334h2M344 337h2M352 343h2M348 338h2M334 348h2M345 337h2M342 317h2M352 359h2M352 313h2M347 321h2M344 330h2M342 326h2M342 346h2M353 348h2M345 334h2M344 336h2M342 334h2M349 333h2M341 335h2M345 335h2M343 345h2M344 323h2M347 327h2M348 346h2M347 340h2M338 334h2M345 344h2M339 334h2M337 338h2M345 338h2M353 345h2M344 329h2M343 346h2M349 330h2M344 331h2M348 338h2M341 325h2M351 319h2M336 362h2M342 347h2M347 347h2M350 330h2M345 349h2M347 327h2M341 318h2M346 329h2M337 329h2M346 339h2M344 338h2M348 321h2M341 349h2M348 318h2M341 355h2M348 334h2M349 354h2M351 318h2M338 330h2M344 332h2M346 355h2M350 349h2M345 357h2M347 339h2M345 313h2M355 336h2M349 365h2M344 321h2M349 339h2M340 349h2M345 324h2M346 324h2M340 348h2M356 340h2M346 335h2M349 336h2M350 354h2M349 324h2M348 333h2M346 348h2M341 339h2M352 326h2M344 345h2M344 349h2M340 317h2M347 334h2M346 348h2M350 332h2M343 312h2M340 339h2M346 318h2M349 336h2M350 332h2M349 322h2M336 326h2M348 341h2M335 338h2M348 357h2M349 342h2M337 341h2M335 332h2M343 324h2M340 334h2M348 328h2M346 345h2M345 360h2M343 327h2M335 349h2M348 334h2M346 334h2M349 336h2M346 335h2M340 309h2M347 321h2M347 344h2M354 327h2M345 348h2M341 329h2M347 362h2M350 348h2M340 344h2M350 320h2M345 334h2M348 315h2M348 336h2M343 310h2M334 329h2M348 341h2M348 315h2M346 353h2M337 344h2M341 343h2M345 316h2M339 352h2M344 351h2M346 347h2M343 339h2M343 347h2M342 350h2M352 321h2M344 343h2M353 350h2M345 315h2M349 329h2M346 341h2M338 349h2M349 343h2M348 340h2M338 330h2M349 332h2M345 341h2M345 339h2M347 336h2M339 333h2M349 328h2M347 340h2M340 336h2M341 328h2M349 326h2M346 338h2M346 362h2M335 349h2M344 333h2M341 337h2M345 324h2M352 327h2M344 320h2M345 341h2M350 349h2M342 357h2M344 356h2M353 331h2M340 343h2M351 341h2M350 344h2M349 353h2M343 318h2M344 326h2M339 334h2M348 313h2M337 346h2M340 331h2M351 351h2M346 343h2M346 343h2M338 338h2M347 335h2M349 347h2M345 333h2M339 350h2M342 340h2M352 346h2M338 335h2M341 316h2M341 343h2M346 333h2M346 322h2M341 334h2M349 332h2M344 340h2M352 321h2M347 338h2M344 339h2M335 336h2M343 321h2M349 335h2M343 345h2M340 327h2M349 347h2M355 330h2M337 318h2M339 337h2M343 328h2M340 328h2M343 351h2M348 353h2M349 345h2M350 342h2M352 350h2M354 339h2M341 367h2M343 342h2M343 328h2M347 322h2M344 353h2M345 346h2M348 341h2M345 344h2M340 343h2M339 327h2M342 320h2M335 341h2M347 344h2M356 338h2M348 327h2M348 322h2M354 324h2M343 345h2M334 352h2M340 338h2M349 338h2M349 330h2M348 309h2M352 328h2M340 336h2M353 327h2M345 332h2M340 320h2M348 345h2M341 339h2M347 341h2M344 337h2M346 323h2M344 346h2M342 352h2M343 323h2M343 319h2M348 317h2M345 333h2M343 341h2M346 329h2M349 331h2M349 352h2M346 347h2M338 343h2M337 334h2M348 326h2M341 324h2M345 344h2M339 328h2M336 327h2M335 317h2M347 347h2M341 341h2M341 350h2M353 325h2M341 330h2M352 355h2M345 344h2M337 332h2M343 334h2M346 317h2M339 362h2M336 337h2M348 342h2M345 316h2M342 317h2M354 340h2M348 339h2M343 350h2M349 344h2M347 345h2M343 341h2M345 333h2M348 362h2M335 354h2M342 351h2M340 334h2M350 335h2M346 321h2M339 356h2M345 335h2M338 323h2M340 335h2M344 329h2M341 337h2M350 319h2M338 350h2M338 331h2M345 358h2M335 335h2M350 338h2M341 338h2M335 347h2M352 333h2M348 322h2M352 328h2M341 326h2M336 345h2M354 318h2M344 342h2M342 316h2M346 349h2M345 322h2M343 311h2M344 352h2M350 335h2M347 329h2M345 328h2M345 329h2M346 345h2M345 319h2M347 333h2M342 343h2M341 348h2M347 327h2M341 334h2M340 348h2M334 338h2M343 322h2M348 330h2M347 330h2M343 343h2M349 349h2M345 355h2M343 319h2M336 318h2M341 313h2M346 336h2M344 339h2M344 333h2M343 337h2M339 352h2M352 336h2M355 324h2M349 315h2M347 326h2M349 337h2M349 344h2M347 333h2M352 341h2M347 354h2M343 358h2M350 337h2M338 352h2M343 337h2M345 348h2M348 313h2M341 341h2M345 346h2M347 357h2M341 353h2M346 340h2M348 332h2M348 333h2M348 326h2M350 317h2M342 335h2M346 326h2M343 339h2M350 353h2M342 335h2M343 317h2M342 351h2M338 348h2M353 338h2M333 341h2M352 329h2M351 345h2M348 345h2M348 344h2M350 341h2M348 341h2M345 325h2M336 324h2M339 318h2M348 332h2M351 346h2M342 341h2M344 340h2M354 357h2M351 340h2M353 347h2M349 321h2M342 338h2M344 329h2M335 327h2M344 340h2M340 334h2M353 338h2M335 334h2M345 352h2M346 354h2M346 351h2M351 356h2M346 344h2M346 321h2M347 327h2M349 334h2M349 338h2M340 349h2M355 347h2M346 315h2M346 336h2M341 312h2M347 348h2M348 364h2M335 340h2M345 354h2M344 324h2M344 341h2M341 326h2M346 347h2M344 342h2M342 332h2M346 348h2M352 335h2M347 360h2M349 332h2M347 318h2M334 327h2M341 319h2M350 330h2M345 337h2M344 322h2M354 312h2M344 345h2M344 335h2M346 339h2M343 349h2M347 355h2M345 311h2M337 330h2M347 316h2M342 352h2M346 327h2M344 337h2M343 332h2M342 339h2M352 354h2M339 365h2M344 319h2M337 338h2M346 328h2M341 333h2M346 344h2M347 307h2M342 339h2M346 346h2M337 355h2M339 334h2M342 330h2M341 346h2M349 340h2M338 328h2M344 341h2M342 333h2M343 337h2M333 327h2M352 347h2M339 346h2M345 326h2M348 329h2M343 336h2M346 331h2M346 336h2M346 341h2M342 319h2M344 352h2M346 339h2M341 322h2M339 325h2M343 317h2M344 316h2M348 336h2M336 329h2M346 341h2M348 332h2M344 333h2M347 328h2M344 338h2M343 323h2M351 343h2M340 361h2M341 325h2M343 343h2M350 366h2M345 362h2M342 349h2M347 358h2M346 346h2M346 342h2M348 356h2M343 352h2M343 359h2M349 356h2M346 347h2M341 358h2M344 361h2M348 355h2M347 358h2M346 351h2M346 360h2M345 352h2M340 346h2M350 366h2M346 359h2M345 363h2M348 354h2M346 365h2M340 347h2M343 345h2M344 348h2M344 361h2M341 357h2M349 358h2M341 350h2M349 354h2M343 364h2M343 345h2M347 356h2M343 361h2M349 367h2M345 361h2M347 342h2M350 350h2M343 348h2M342 367h2M345 351h2M339 358h2M345 346h2M345 339h2M347 344h2M347 357h2M338 345h2M343 364h2M347 362h2M350 353h2M343 338h2M342 362h2M342 348h2M348 332h2M350 363h2M347 356h2M348 353h2M345 366h2M346 362h2M345 365h2M347 364h2M340 346h2M346 367h2M350 356h2M343 346h2M339 351h2M347 356h2M340 355h2M345 349h2M350 360h2M349 357h2M342 367h2M349 351h2M341 364h2M343 345h2M345 362h2M343 357h2M348 363h2M340 363h2M351 365h2M345 360h2M340 351h2M343 368h2M342 364h2M340 354h2M340 366h2M338 365h2M342 366h2M346 364h2M342 365h2M344 361h2M346 364h2M341 362h2M353 361h2M345 363h2M341 357h2M340 357h2M347 367h2M348 365h2M344 338h2M342 360h2M338 353h2M347 360h2M346 350h2M338 346h2M347 356h2M347 353h2M347 347h2M342 355h2M339 367h2M342 348h2M342 357h2M344 364h2M341 355h2M340 352h2M349 355h2M348 356h2M342 348h2M341 359h2M346 365h2M342 357h2M342 366h2M349 343h2M348 344h2M344 358h2M345 356h2M345 348h2M345 356h2M342 362h2M346 349h2M349 351h2M339 367h2M350 360h2M342 367h2M347 365h2M345 365h2M344 342h2M345 357h2M342 354h2M350 352h2M349 347h2M342 365h2M344 358h2M348 364h2M347 358h2M346 367h2M343 361h2M338 360h2M342 359h2M343 361h2M344 349h2M347 363h2M340 344h2M344 353h2M349 367h2M349 353h2M341 359h2M339 367h2M349 350h2M340 354h2M347 354h2M343 357h2M344 364h2M338 355h2M346 341h2M345 360h2M346 359h2M343 342h2M348 353h2M341 366h2M346 341h2M348 359h2M349 356h2M340 355h2M344 359h2M344 361h2M341 351h2M343 360h2M339 356h2M353 339h2M348 357h2M348 357h2M346 360h2M347 345h2M345 364h2M342 347h2M344 366h2M348 350h2M337 356h2M340 368h2M350 363h2M347 362h2M351 367h2M350 345h2M343 356h2M338 353h2M345 355h2M344 354h2M345 353h2M340 367h2M345 360h2M345 349h2M340 353h2M347 355h2M347 349h2M344 358h2M345 358h2M350 352h2M345 350h2M347 358h2M343 346h2M341 353h2M346 351h2M345 357h2M353 367h2M353 357h2M346 367h2M347 351h2M343 364h2M343 350h2M340 359h2M345 361h2M342 344h2M349 356h2M348 345h2M341 359h2M348 363h2M339 346h2M343 348h2M344 348h2M340 356h2M345 349h2M345 343h2M344 353h2M344 355h2M341 343h2M342 363h2M342 347h2M351 354h2M344 347h2M350 361h2M346 364h2M339 367h2M346 351h2M348 355h2M351 344h2M346 365h2M348 353h2M344 352h2M347 352h2M345 366h2M345 358h2M345 356h2M338 347h2M346 350h2M343 357h2M353 349h2M342 339h2M347 355h2M342 352h2M348 366h2M346 367h2M348 352h2M348 358h2M348 359h2M352 344h2M346 346h2M353 351h2M344 356h2M345 368h2M346 366h2M350 347h2M346 343h2M347 366h2M344 367h2M346 364h2M343 353h2M344 363h2M343 368h2M341 358h2M344 355h2M347 364h2M340 358h2M350 343h2M345 345h2M347 348h2M344 352h2M347 343h2M340 358h2M349 351h2M346 359h2M345 356h2M343 354h2M349 360h2M352 307h2M345 308h2M336 318h2M342 314h2M335 310h2M343 309h2M350 315h2M345 313h2M341 307h2M342 305h2M343 311h2M351 309h2M359 309h2M345 312h2M340 312h2M333 319h2M341 312h2M333 316h2M336 321h2M338 307h2M348 320h2M332 301h2M354 315h2M335 309h2M348 309h2M353 307h2M345 320h2M353 314h2M348 310h2M344 308h2M346 317h2M338 304h2M344 325h2M345 313h2M344 301h2M340 322h2M331 324h2M337 325h2M343 322h2M347 308h2M341 313h2M342 316h2M337 310h2M348 307h2M346 303h2M345 304h2M349 305h2M348 299h2M345 319h2M339 312h2M339 315h2M349 319h2M352 320h2M340 313h2M347 313h2M336 325h2M355 312h2M343 327h2M338 315h2M349 303h2M342 315h2M348 314h2M346 296h2M353 302h2M346 318h2M338 301h2M346 309h2M343 311h2M343 314h2M341 312h2M341 306h2M346 306h2M347 312h2M350 316h2M332 312h2M348 313h2M344 319h2M348 303h2M344 319h2M345 303h2M349 316h2M351 313h2M345 318h2M337 324h2M346 313h2M348 317h2M331 318h2M343 307h2M349 318h2M346 308h2M345 306h2M349 308h2M354 306h2M341 297h2M342 303h2M345 310h2M344 312h2M341 313h2M344 307h2M342 308h2M336 312h2M333 315h2M344 313h2M351 318h2M341 314h2M351 311h2M346 315h2M338 314h2M342 310h2M347 316h2M338 310h2M343 306h2M346 311h2M340 318h2M343 304h2M343 311h2M346 327h2M347 321h2M343 315h2M347 311h2M345 309h2M348 306h2M354 303h2M343 314h2M345 301h2M346 306h2M345 309h2M342 302h2M336 308h2M338 314h2M336 313h2M347 307h2M338 310h2M349 321h2M357 313h2M348 313h2M344 305h2M342 319h2M352 308h2M334 325h2M344 315h2M343 300h2M346 305h2M342 308h2M342 328h2M353 299h2M335 309h2M340 317h2M353 307h2M347 311h2M332 320h2M354 306h2M348 308h2M343 309h2M343 312h2M340 314h2M336 317h2M338 299h2M349 310h2M341 318h2M344 325h2M346 302h2M341 307h2M342 323h2M347 324h2M347 313h2M330 321h2M356 308h2M344 307h2M343 306h2M337 320h2M332 319h2M337 310h2M332 316h2M338 328h2M338 314h2M348 306h2M339 305h2M347 314h2M352 298h2M337 323h2M340 332h2M353 328h2M338 325h2M338 313h2M359 339h2M358 322h2M343 301h2M346 340h2M349 303h2M345 343h2M340 339h2M340 326h2M339 297h2M337 329h2M342 326h2M339 343h2M343 333h2M340 351h2M343 334h2M361 334h2M332 313h2M347 301h2M332 323h2M331 347h2M347 320h2M354 313h2M335 343h2M344 321h2M352 323h2M349 330h2M353 336h2M340 355h2M341 359h2M334 327h2M326 336h2M355 318h2M348 322h2M355 332h2M347 347h2M332 339h2M345 351h2M344 337h2M344 307h2M340 322h2M333 325h2M340 361h2M342 328h2M345 339h2M331 292h2M357 310h2M337 348h2M346 310h2M350 304h2M357 320h2M347 326h2M359 308h2M343 367h2M328 317h2M346 322h2M348 348h2M333 290h2M352 307h2M350 298h2M337 288h2M333 293h2M333 299h2M337 298h2M330 300h2M347 301h2M344 310h2M349 294h2M354 292h2M343 305h2M338 294h2M344 295h2M340 301h2M359 291h2" stroke="#000" stroke-width="1.7" fill="none"/>
<rect x="161.20" y="139.80" width="20.70" height="19.60" fill="none" stroke="#555" stroke-width="0.7"/>
<path d="M161.2 159.4V184.8M181.3 159.4V184.8" stroke="#888" stroke-width="0.7" fill="none"/>
<text x="176" y="136.6" font-size="12" font-weight="normal" font-style="normal" text-anchor="middle">19</text>
<text x="183.8" y="171.3" font-size="12" font-weight="normal" font-style="normal" text-anchor="start">81</text>
<text x="149" y="178.7" font-size="13" font-weight="bold" font-style="italic" text-anchor="start" stroke="#000" stroke-width="0.2">D</text>
<text x="36.3" y="153.5" font-size="12.5" font-weight="bold" font-style="normal" text-anchor="middle" transform="rotate(-90 36.3 153.5)" stroke="#000" stroke-width="0.2">CD43</text>
<text x="81" y="199" font-size="12.5" font-weight="bold" font-style="normal" text-anchor="middle" stroke="#000" stroke-width="0.2">B220</text>
<text x="174.3" y="199" font-size="12.5" font-weight="bold" font-style="normal" text-anchor="middle" stroke="#000" stroke-width="0.2">B220</text>
<path d="M43.4 211.5H119.5" fill="none" stroke="#333" stroke-width="0.9"/>
<path d="M43.4 211.5V281H119.5" fill="none" stroke="#333" stroke-width="0.9"/>
<path d="M119.5 211.5V281" fill="none" stroke="#888" stroke-width="0.9"/>
<path d="M42.5 212.0V281" stroke="#333" stroke-width="1.1" stroke-dasharray="0.8 1.2" fill="none"/>
<path d="M43.9 281.9H119.5" stroke="#333" stroke-width="1.1" stroke-dasharray="0.8 1.2" fill="none"/>
<path d="M120.3 212.0V281" stroke="#999" stroke-width="0.9" stroke-dasharray="0.8 1.2" fill="none"/>
<path d="M140.7 211.5H216.7" fill="none" stroke="#333" stroke-width="0.9"/>
<path d="M140.7 211.5V281H216.7" fill="none" stroke="#333" stroke-width="0.9"/>
<path d="M216.7 211.5V281" fill="none" stroke="#888" stroke-width="0.9"/>
<path d="M139.79999999999998 212.0V281" stroke="#333" stroke-width="1.1" stroke-dasharray="0.8 1.2" fill="none"/>
<path d="M141.2 281.9H216.7" stroke="#333" stroke-width="1.1" stroke-dasharray="0.8 1.2" fill="none"/>
<path d="M217.5 212.0V281" stroke="#999" stroke-width="0.9" stroke-dasharray="0.8 1.2" fill="none"/>
<clipPath id="c5"><rect x="43.4" y="211.5" width="76.1" height="69.5"/></clipPath>
<g clip-path="url(#c5)">
<ellipse cx="53.5" cy="256.2" rx="2.9" ry="2.3" transform="rotate(-15 53.5 256.2)" fill="#000" opacity="0.36" filter="url(#bl)"/>
</g>
<path transform="scale(.5)" d="M100 512h2M100 509h2M103 517h2M108 515h2M107 516h2M106 518h2M111 512h2M99 510h2M107 508h2M106 512h2M112 508h2M107 511h2M104 515h2M110 506h2M116 519h2M108 514h2M102 512h2M108 512h2M112 508h2M106 515h2M106 512h2M107 514h2M99 517h2M101 511h2M102 515h2M101 523h2M103 508h2M116 510h2M109 511h2M108 520h2M98 516h2M103 512h2M105 506h2M110 512h2M109 510h2M110 510h2M112 516h2M109 507h2M106 509h2M116 511h2M100 509h2M112 507h2M109 511h2M106 511h2M109 518h2M103 515h2M109 509h2M101 511h2M110 512h2M112 512h2M108 512h2M108 512h2M109 509h2M113 517h2M107 515h2M102 514h2M101 518h2M108 516h2M111 508h2M112 517h2M117 509h2M109 510h2M110 514h2M114 510h2M108 514h2M108 520h2M95 509h2M105 515h2M108 514h2M101 516h2M111 518h2M110 509h2M103 509h2M105 513h2M114 517h2M108 514h2M105 508h2M109 509h2M99 511h2M113 507h2M112 506h2M107 514h2M104 509h2M109 518h2M110 512h2M111 516h2M113 510h2M102 510h2M107 511h2M106 510h2M113 508h2M102 511h2M101 510h2M99 511h2M107 515h2M100 516h2M107 513h2M98 517h2M111 516h2M107 517h2M106 509h2M110 515h2M108 512h2M107 515h2M99 516h2M101 512h2M109 517h2M106 509h2M107 514h2M103 511h2M114 519h2M106 507h2M111 512h2M105 514h2M102 514h2M110 516h2M115 508h2M108 509h2M109 516h2M110 511h2M116 513h2M113 511h2M113 510h2M111 512h2M106 507h2M112 513h2M104 513h2M110 514h2M99 520h2M104 520h2M112 512h2M108 513h2M107 518h2M104 511h2M104 507h2M111 507h2M115 514h2M116 508h2M105 511h2M110 508h2M103 504h2M107 513h2M115 507h2M112 513h2M110 507h2M111 510h2M109 517h2M116 507h2M107 518h2M100 515h2M110 517h2M110 511h2M103 506h2M109 510h2M106 514h2M98 515h2M106 520h2M108 517h2M101 508h2M111 510h2M102 518h2M108 506h2M108 520h2M106 507h2M105 518h2M115 513h2M101 517h2M103 512h2M106 517h2M110 514h2M105 511h2M111 509h2M106 515h2M107 516h2M110 514h2M117 508h2M115 505h2M103 511h2M104 516h2M115 519h2M106 517h2M104 506h2M98 514h2M110 508h2M109 509h2M108 508h2M111 519h2M107 507h2M104 514h2M110 507h2M101 508h2M115 511h2M108 510h2M116 512h2M108 517h2M109 511h2M105 513h2M112 505h2M100 517h2M113 516h2M108 506h2M111 512h2M101 508h2M100 515h2M101 515h2M107 515h2M110 508h2M106 516h2M105 517h2M111 515h2M105 516h2M106 513h2M109 510h2M106 510h2M109 508h2M96 510h2M106 515h2M108 507h2M108 507h2M113 512h2M104 512h2M106 510h2M113 512h2M105 515h2M101 515h2M105 511h2M107 513h2M100 516h2M105 516h2M110 518h2M104 520h2M107 520h2M104 517h2M106 518h2M111 513h2M104 517h2M108 508h2M109 511h2M106 509h2M109 515h2M104 516h2M99 515h2M107 508h2M106 507h2M116 512h2M111 508h2M97 515h2M113 510h2M113 512h2M110 516h2M104 512h2M112 513h2M104 509h2M115 514h2M105 508h2M109 514h2M118 511h2M110 508h2M105 513h2M108 518h2M108 511h2M105 517h2M104 515h2M110 515h2M111 513h2M117 513h2M103 510h2M105 518h2M104 520h2M108 510h2M103 513h2M110 511h2M110 512h2M113 509h2M105 508h2M105 509h2M100 513h2M108 503h2M100 509h2M109 514h2M108 511h2M104 514h2M103 513h2M109 511h2M110 503h2M101 518h2M104 511h2M105 513h2M107 514h2M113 518h2M98 514h2M103 514h2M103 514h2M108 512h2M109 515h2M102 513h2M113 515h2M110 508h2M105 517h2M107 513h2M106 516h2M107 508h2M108 511h2M106 515h2M107 510h2M101 512h2M105 508h2M107 522h2M104 513h2M101 513h2M108 513h2M100 515h2M104 518h2M108 518h2M107 508h2M111 509h2M107 513h2M103 518h2M107 508h2M102 516h2M113 512h2M108 510h2M112 513h2M103 511h2M99 519h2M109 511h2M110 511h2M116 506h2M105 519h2M112 514h2M106 512h2M108 514h2M105 517h2M115 508h2M103 514h2M112 507h2M103 510h2M112 510h2M108 515h2M112 512h2M113 508h2M105 516h2M108 505h2M106 515h2M108 519h2M100 515h2M102 507h2M106 512h2M105 511h2M110 508h2M103 508h2M111 506h2M114 507h2M108 519h2M104 519h2M101 512h2M110 513h2M109 513h2M112 505h2M105 516h2M100 512h2M119 515h2M109 512h2M105 509h2M102 510h2M102 514h2M108 508h2M106 507h2M108 511h2M107 513h2M113 512h2M104 514h2M109 514h2M111 508h2M102 516h2M103 515h2M102 519h2M104 515h2M106 515h2M109 513h2M108 506h2M111 506h2M101 505h2M107 514h2M104 509h2M97 517h2M101 513h2M108 512h2M111 518h2M109 508h2M107 512h2M104 516h2M105 514h2M112 519h2M105 516h2M119 515h2M108 509h2M107 510h2M104 507h2M104 506h2M112 513h2M105 513h2M107 511h2M108 511h2M108 509h2M109 518h2M103 511h2M112 512h2M108 513h2M105 511h2M110 512h2M111 513h2M118 510h2M114 511h2M119 513h2M105 519h2M105 517h2M104 515h2M109 517h2M95 508h2M112 514h2M105 513h2M99 513h2M105 516h2M108 512h2M112 509h2M111 511h2M109 511h2M113 509h2M117 513h2M103 512h2M115 516h2M102 514h2M112 520h2M110 511h2M112 511h2M103 513h2M106 512h2M108 514h2M104 516h2M100 517h2M110 513h2M100 512h2M109 514h2M109 506h2M108 516h2M101 510h2M105 512h2M107 517h2M107 505h2M111 512h2M111 511h2M114 511h2M104 509h2M111 511h2M100 518h2M111 503h2M111 514h2M117 514h2M104 515h2M109 506h2M115 512h2M110 508h2M111 511h2M106 513h2M107 507h2M108 514h2M101 520h2M108 515h2M101 510h2M103 517h2M103 514h2M106 516h2M114 515h2M111 516h2M114 507h2M108 510h2M107 512h2M108 515h2M102 515h2M112 510h2M116 518h2M107 512h2M110 514h2M101 516h2M97 511h2M109 513h2M102 514h2M112 505h2M111 516h2M102 518h2M109 511h2M107 512h2M107 512h2M105 516h2M115 510h2M113 508h2M102 516h2M109 514h2M103 512h2M114 517h2M109 513h2M113 508h2M115 507h2M102 516h2M105 511h2M105 509h2M111 513h2M100 508h2M118 512h2M107 506h2M117 506h2M108 513h2M104 514h2M103 506h2M100 512h2M105 514h2M115 509h2M117 508h2M108 511h2M99 514h2M106 510h2M111 513h2M105 510h2M108 509h2M103 512h2M112 510h2M106 511h2M110 511h2M111 511h2M111 510h2M104 515h2M106 511h2M114 509h2M103 512h2M113 506h2M113 513h2M105 512h2M102 506h2M102 508h2M99 513h2M109 508h2M105 510h2M107 514h2M114 513h2M110 517h2M111 513h2M111 514h2M102 510h2M106 506h2M106 511h2M110 514h2M111 502h2M109 513h2M114 508h2M109 511h2M103 514h2M112 510h2M109 516h2M106 511h2M109 513h2M110 516h2M108 507h2M100 514h2M115 510h2M106 514h2M111 516h2M102 516h2M109 515h2M110 503h2M112 513h2M104 513h2M111 506h2M112 514h2M115 507h2M105 516h2M106 514h2M101 523h2M100 517h2M108 509h2M98 517h2M107 509h2M107 511h2M103 517h2M107 513h2M101 512h2M105 511h2M108 513h2M106 512h2M110 516h2M103 518h2M112 515h2M105 514h2M115 505h2M110 511h2M114 511h2M110 509h2M106 519h2M101 512h2M104 508h2M108 507h2M107 512h2M97 516h2M100 515h2M96 514h2M111 513h2M113 518h2M110 511h2M107 515h2M100 510h2M109 519h2M102 515h2M104 516h2M108 512h2M111 511h2M102 523h2M107 514h2M109 509h2M104 511h2M110 514h2M106 508h2M102 508h2M100 512h2M109 514h2M114 492h2M116 505h2M134 478h2M124 493h2M128 484h2M128 493h2M131 472h2M130 477h2M110 502h2M118 499h2M123 499h2M128 478h2M122 490h2M124 487h2M131 477h2M133 481h2M128 482h2M131 487h2M122 484h2M133 480h2M122 482h2M122 498h2M129 489h2M133 472h2M119 494h2M121 485h2M119 492h2M132 495h2M110 502h2M125 485h2M121 498h2M122 493h2M130 479h2M121 499h2M130 472h2M120 490h2M127 495h2M127 484h2M133 476h2M123 489h2M123 497h2M134 486h2M125 484h2M116 507h2M124 490h2M128 476h2M132 492h2M126 499h2M121 490h2M118 492h2M120 495h2M132 486h2M125 494h2M121 490h2M128 493h2M127 494h2M130 490h2M120 493h2M119 479h2M134 486h2M123 507h2M126 481h2M121 497h2M123 506h2M118 495h2M117 497h2M119 502h2M120 496h2M125 478h2M126 491h2M116 511h2M128 477h2M124 481h2M127 495h2M120 494h2M123 491h2M131 477h2M127 492h2M132 495h2M121 489h2M122 487h2M121 491h2M122 486h2M128 479h2M121 495h2M126 493h2M119 497h2M120 494h2M124 475h2M116 497h2M121 492h2M128 473h2M123 507h2M127 483h2M126 488h2M121 490h2M119 480h2M108 503h2M122 483h2M127 487h2M121 498h2M119 492h2M131 477h2M131 480h2M128 491h2M120 498h2M125 480h2M126 498h2M136 472h2M129 481h2M130 473h2M120 481h2M128 485h2M123 489h2M132 487h2M125 490h2M133 480h2M122 483h2M132 486h2M129 477h2M116 486h2M132 484h2M128 478h2M116 496h2M128 478h2M125 493h2M114 507h2M119 500h2M120 486h2M125 498h2M135 478h2M115 503h2M140 475h2M124 500h2M128 492h2M121 502h2M115 496h2M130 486h2M124 504h2M130 487h2M125 489h2M135 485h2M129 498h2M125 481h2M128 496h2M122 486h2M123 487h2M134 487h2M116 511h2M125 513h2M113 509h2M113 506h2M116 507h2M116 510h2M122 507h2M121 509h2M120 508h2M123 507h2M108 510h2M124 501h2M128 506h2M120 512h2M118 507h2M103 512h2M111 514h2M117 506h2M125 509h2M131 505h2M110 512h2M123 510h2M109 514h2M122 509h2M107 511h2M116 509h2M122 506h2M103 507h2M119 506h2M118 513h2M114 510h2M107 509h2M122 511h2M113 510h2M119 507h2M117 508h2M120 506h2M113 506h2M111 506h2M117 513h2M108 509h2M113 512h2M115 509h2M111 510h2M114 507h2M126 507h2M116 510h2M132 506h2M114 510h2M125 508h2M115 510h2M110 511h2M114 509h2M125 506h2M124 506h2M109 516h2M114 510h2M125 511h2M119 513h2M115 512h2M113 514h2M114 512h2M111 516h2M127 505h2M116 506h2M114 505h2M121 507h2M124 506h2M115 507h2M121 507h2M108 507h2M123 507h2M116 507h2M114 510h2M117 505h2M106 516h2M119 512h2M112 506h2M120 506h2M119 514h2M119 513h2M110 505h2M114 509h2M122 509h2M104 510h2M114 508h2M113 509h2M116 504h2M110 508h2M124 506h2M108 514h2M121 502h2M110 513h2M122 492h2M132 497h2M133 485h2M137 484h2M135 468h2M118 492h2M120 479h2M111 476h2M115 482h2M124 478h2M124 481h2M125 484h2M127 499h2M117 498h2M130 479h2M126 493h2M125 474h2M126 492h2M127 463h2M115 486h2M137 481h2M125 474h2M130 480h2M133 497h2M124 482h2M132 485h2M121 486h2M125 502h2M127 474h2M119 482h2M125 494h2M126 489h2M114 482h2M125 476h2M123 499h2" stroke="#000" stroke-width="1.7" fill="none"/>
<path d="M59.3 229.7L75 232.6L65.7 252.6L47.4 250.6Z" fill="none" stroke="#444" stroke-width="0.6"/>
<rect x="47.40" y="250.60" width="18.30" height="10.80" fill="none" stroke="#333" stroke-width="0.7"/>
<clipPath id="c6"><rect x="141.0" y="211.5" width="76.1" height="69.5"/></clipPath>
<g clip-path="url(#c6)">
<ellipse cx="151.1" cy="256.2" rx="2.9" ry="2.3" transform="rotate(-15 151.1 256.2)" fill="#000" opacity="0.30" filter="url(#bl)"/>
</g>
<path transform="scale(.5)" d="M304 514h2M307 511h2M302 519h2M299 512h2M303 510h2M299 518h2M301 510h2M300 515h2M306 512h2M308 511h2M311 514h2M297 514h2M304 512h2M298 515h2M300 507h2M296 513h2M307 511h2M304 516h2M301 513h2M303 516h2M299 515h2M299 514h2M307 508h2M305 512h2M304 514h2M303 514h2M310 508h2M298 517h2M306 519h2M300 516h2M299 511h2M299 510h2M297 513h2M301 513h2M305 508h2M301 509h2M305 508h2M300 510h2M306 507h2M296 513h2M300 510h2M307 509h2M292 514h2M295 512h2M299 510h2M300 512h2M304 509h2M301 517h2M311 513h2M303 520h2M304 517h2M299 508h2M308 507h2M298 514h2M299 516h2M303 511h2M301 518h2M310 515h2M298 520h2M305 519h2M304 509h2M294 512h2M307 509h2M309 506h2M305 511h2M296 515h2M300 512h2M292 511h2M299 513h2M301 521h2M301 514h2M302 517h2M306 515h2M296 515h2M302 515h2M299 514h2M298 512h2M303 510h2M298 513h2M304 513h2M297 512h2M296 510h2M314 514h2M305 510h2M308 517h2M309 514h2M299 516h2M307 513h2M304 511h2M296 521h2M306 513h2M303 515h2M302 512h2M303 505h2M308 509h2M305 514h2M311 517h2M295 510h2M301 506h2M305 511h2M300 516h2M297 511h2M303 516h2M301 511h2M303 511h2M295 518h2M306 516h2M303 514h2M293 509h2M295 519h2M300 518h2M304 510h2M301 510h2M300 514h2M305 510h2M296 519h2M298 516h2M294 511h2M294 517h2M306 519h2M301 505h2M301 514h2M304 512h2M297 512h2M310 508h2M299 509h2M300 517h2M303 510h2M301 516h2M299 510h2M302 517h2M299 516h2M303 516h2M300 515h2M301 514h2M291 511h2M292 514h2M313 511h2M294 509h2M305 514h2M303 518h2M305 519h2M308 519h2M307 514h2M309 513h2M304 513h2M304 514h2M308 504h2M299 508h2M300 514h2M303 514h2M306 513h2M300 512h2M297 512h2M302 514h2M296 518h2M300 507h2M302 515h2M302 511h2M298 514h2M303 513h2M301 517h2M294 515h2M293 507h2M304 515h2M301 514h2M302 517h2M300 515h2M302 506h2M307 509h2M296 511h2M305 510h2M305 508h2M301 506h2M302 518h2M300 514h2M295 521h2M301 514h2M299 509h2M300 512h2M297 513h2M297 512h2M302 508h2M303 511h2M306 518h2M304 512h2M302 513h2M303 503h2M313 513h2M304 509h2M301 510h2M308 508h2M294 513h2M298 514h2M302 509h2M295 513h2M296 513h2M303 510h2M302 510h2M308 504h2M298 518h2M297 516h2M301 512h2M295 512h2M299 505h2M302 510h2M292 515h2M299 507h2M307 510h2M296 510h2M303 510h2M304 507h2M304 513h2M304 509h2M297 509h2M300 505h2M307 510h2M302 518h2M302 516h2M307 512h2M296 516h2M302 511h2M301 515h2M293 517h2M308 508h2M307 509h2M300 512h2M301 510h2M299 512h2M297 513h2M305 508h2M302 509h2M296 514h2M301 516h2M305 512h2M300 518h2M295 511h2M305 513h2M304 511h2M306 516h2M294 517h2M305 508h2M298 515h2M304 512h2M295 515h2M301 511h2M304 504h2M302 510h2M304 511h2M310 511h2M298 507h2M300 513h2M309 512h2M302 509h2M302 509h2M296 516h2M298 508h2M308 515h2M302 506h2M297 510h2M304 515h2M301 509h2M295 511h2M303 511h2M305 513h2M298 516h2M304 518h2M301 511h2M303 517h2M305 516h2M307 512h2M312 509h2M302 516h2M297 515h2M306 508h2M292 509h2M309 520h2M297 509h2M298 519h2M306 514h2M299 515h2M299 515h2M297 509h2M300 514h2M303 510h2M305 505h2M294 517h2M301 512h2M300 515h2M304 517h2M296 509h2M301 511h2M299 505h2M305 518h2M305 516h2M305 512h2M305 516h2M305 514h2M301 510h2M303 510h2M302 504h2M311 515h2M309 512h2M297 512h2M297 515h2M302 513h2M292 509h2M293 520h2M304 512h2M299 506h2M300 511h2M299 517h2M293 515h2M306 514h2M296 519h2M308 510h2M301 514h2M307 511h2M301 514h2M306 519h2M301 509h2M312 515h2M308 507h2M298 508h2M303 517h2M306 511h2M304 514h2M300 509h2M300 519h2M297 509h2M304 510h2M301 513h2M300 507h2M307 512h2M311 513h2M299 511h2M297 505h2M305 509h2M307 512h2M303 518h2M299 520h2M302 521h2M307 509h2M311 512h2M303 510h2M301 511h2M301 516h2M307 516h2M308 511h2M305 510h2M305 514h2M303 509h2M298 520h2M298 511h2M304 510h2M305 517h2M295 515h2M304 507h2M307 517h2M303 514h2M302 516h2M300 513h2M298 511h2M307 511h2M305 505h2M296 511h2M312 514h2M312 508h2M305 513h2M302 515h2M303 514h2M293 511h2M299 520h2M305 508h2M304 510h2M296 510h2M302 513h2M308 512h2M299 522h2M313 513h2M298 513h2M302 508h2M300 513h2M301 511h2M308 511h2M304 514h2M300 506h2M305 514h2M296 510h2M298 508h2M299 512h2M304 516h2M297 508h2M302 515h2M310 514h2M303 512h2M295 517h2M306 511h2M301 514h2M305 514h2M303 506h2M298 507h2M305 509h2M302 514h2M301 519h2M309 509h2M325 498h2M310 499h2M322 481h2M313 499h2M317 485h2M324 488h2M316 502h2M323 478h2M308 498h2M321 491h2M312 498h2M316 491h2M308 495h2M320 489h2M313 499h2M310 502h2M312 495h2M309 494h2M317 485h2M326 484h2M321 490h2M319 499h2M321 488h2M309 499h2M325 477h2M326 471h2M318 483h2M316 497h2M332 474h2M315 493h2M321 489h2M313 493h2M320 486h2M320 486h2M315 499h2M323 483h2M320 487h2M317 496h2M321 500h2M318 478h2M313 489h2M325 498h2M310 500h2M326 483h2M308 500h2M333 472h2M314 492h2M315 486h2M325 472h2M320 483h2M329 474h2M322 486h2M307 496h2M316 491h2M323 495h2M322 492h2M316 489h2M311 490h2M320 494h2M323 477h2M318 485h2M304 503h2M316 488h2M317 489h2M317 475h2M319 488h2M323 485h2M321 492h2M319 489h2M323 491h2M324 493h2M320 489h2M318 493h2M313 494h2M317 494h2M320 480h2M315 489h2M309 502h2M322 480h2M317 486h2M314 497h2M315 490h2M324 488h2M312 487h2M321 494h2M329 471h2M326 490h2M317 483h2M320 489h2M304 508h2M318 500h2M324 486h2M322 475h2M323 492h2M337 472h2M322 495h2M313 495h2M318 485h2M320 491h2M319 491h2M327 483h2M317 476h2M301 501h2M317 487h2M324 482h2M316 490h2M315 496h2M322 482h2M323 471h2M319 492h2M312 499h2M312 492h2M319 486h2M318 485h2M308 510h2M316 495h2M327 482h2M323 486h2M325 485h2M328 483h2M313 495h2M319 498h2M321 502h2M314 497h2M312 494h2M321 488h2M311 496h2M313 483h2M316 483h2M322 480h2M316 490h2M318 508h2M321 485h2M326 483h2M309 494h2M310 501h2M328 477h2M318 493h2M326 477h2M304 502h2M327 482h2M322 498h2M317 492h2M326 486h2M322 493h2M318 493h2M325 481h2M327 487h2M330 467h2M310 490h2M319 488h2M315 493h2M325 474h2M318 478h2M313 502h2M325 484h2M310 493h2M321 489h2M318 495h2M314 502h2M317 480h2M322 479h2M324 496h2M317 497h2M314 496h2M315 495h2M315 501h2M319 477h2M321 480h2M316 498h2M312 497h2M325 485h2M314 503h2M329 468h2M320 492h2M319 495h2M319 488h2M306 504h2M325 491h2M314 491h2M325 492h2M311 495h2M324 482h2M318 490h2M314 489h2M318 501h2M320 498h2M316 494h2M323 492h2M324 484h2M322 484h2M313 490h2M336 478h2M316 490h2M316 489h2M331 476h2M316 494h2M312 506h2M314 500h2M322 480h2M320 484h2M319 497h2M324 481h2M322 485h2M327 473h2M322 497h2M308 509h2M318 488h2M313 485h2M313 506h2M314 507h2M328 476h2M324 481h2M333 472h2M322 477h2M314 498h2M325 477h2M318 486h2M323 492h2M315 508h2M330 489h2M331 477h2M318 481h2M320 492h2M321 488h2M321 471h2M321 478h2M326 473h2M316 493h2M311 500h2M315 498h2M315 489h2M324 469h2M315 482h2M309 508h2M322 486h2M322 492h2M319 490h2M314 505h2M314 487h2M317 488h2M329 492h2M313 496h2M304 507h2M321 502h2M324 483h2M326 490h2M321 488h2M330 471h2M321 475h2M317 474h2M318 486h2M321 485h2M334 472h2M319 486h2M309 499h2M313 513h2M315 507h2M316 502h2M304 510h2M297 513h2M309 504h2M304 507h2M328 508h2M316 508h2M320 506h2M321 509h2M326 508h2M309 512h2M320 509h2M326 505h2M311 513h2M319 506h2M315 508h2M314 510h2M311 512h2M316 513h2M314 509h2M307 518h2M310 508h2M310 510h2M313 514h2M309 509h2M310 512h2M303 516h2M308 506h2M320 502h2M316 508h2M306 505h2M309 513h2M311 507h2M318 507h2M312 506h2M303 511h2M313 507h2M314 508h2M311 509h2M312 502h2M312 508h2M310 513h2M320 510h2M317 509h2M314 511h2M308 510h2M314 508h2M305 511h2M309 508h2M317 511h2M311 505h2M311 509h2M305 509h2M312 507h2M313 504h2M315 506h2M313 509h2M310 513h2M302 513h2M316 507h2M310 506h2M312 510h2M308 510h2M309 507h2M311 507h2M316 505h2M320 506h2M311 507h2M313 505h2M303 514h2M301 517h2M310 515h2M315 513h2M303 511h2M313 507h2M312 508h2M317 512h2M300 516h2M307 516h2M302 510h2M315 507h2M316 509h2M306 506h2M318 506h2M311 508h2M310 507h2M312 510h2M303 507h2M316 511h2M308 510h2M309 511h2M321 480h2M312 487h2M323 483h2M323 483h2M329 468h2M314 486h2M326 493h2M307 490h2M314 492h2M317 467h2M306 486h2M326 491h2M321 485h2M325 477h2M324 496h2M326 488h2M321 497h2M310 493h2M310 491h2M320 492h2M323 478h2M326 473h2M311 507h2M327 480h2M311 489h2M313 489h2M322 475h2M318 490h2M333 478h2M330 488h2M302 488h2M324 493h2M329 480h2M330 473h2M308 499h2" stroke="#000" stroke-width="1.7" fill="none"/>
<path d="M156.6 229.6L172.2 232.7L162.7 252.6L144.5 250.3Z" fill="none" stroke="#444" stroke-width="0.6"/>
<rect x="144.50" y="250.30" width="18.20" height="10.90" fill="none" stroke="#333" stroke-width="0.7"/>
<text x="53.2" y="226.2" font-size="12" font-weight="normal" font-style="normal" text-anchor="start">27</text>
<text x="50.5" y="275.8" font-size="12" font-weight="normal" font-style="normal" text-anchor="start">73</text>
<text x="77" y="245" font-size="13" font-weight="bold" font-style="italic" text-anchor="start" stroke="#000" stroke-width="0.2">D(L)</text>
<text x="74.5" y="262.5" font-size="13" font-weight="bold" font-style="italic" text-anchor="start" stroke="#000" stroke-width="0.2">D(S)</text>
<text x="152.5" y="227" font-size="12" font-weight="normal" font-style="normal" text-anchor="start">35</text>
<text x="146.8" y="275.6" font-size="12" font-weight="normal" font-style="normal" text-anchor="start">65</text>
<text x="174.3" y="243.6" font-size="13" font-weight="bold" font-style="italic" text-anchor="start" stroke="#000" stroke-width="0.2">D(L)</text>
<text x="171" y="262.5" font-size="13" font-weight="bold" font-style="italic" text-anchor="start" stroke="#000" stroke-width="0.2">D(S)</text>
<text x="36.3" y="244.7" font-size="12.5" font-weight="bold" font-style="normal" text-anchor="middle" transform="rotate(-90 36.3 244.7)" stroke="#000" stroke-width="0.2">FSC</text>
<text x="81" y="296.3" font-size="12.5" font-weight="bold" font-style="normal" text-anchor="middle" stroke="#000" stroke-width="0.2">SSC</text>
<text x="176" y="296.3" font-size="12.5" font-weight="bold" font-style="normal" text-anchor="middle" stroke="#000" stroke-width="0.2">SSC</text>
<path d="M42.3 304.6H119.6" fill="none" stroke="#bbb" stroke-width="0.9"/>
<path d="M119.6 304.6V374.6" fill="none" stroke="#bbb" stroke-width="0.9"/>
<path d="M42.3 304.6V374.6" fill="none" stroke="#333" stroke-width="0.9"/>
<path d="M42.3 374.6H119.6" fill="none" stroke="#333" stroke-width="0.9"/>
<line x1="61.62" y1="374.60" x2="61.62" y2="376.40" stroke="#444" stroke-width="0.8"/>
<line x1="40.50" y1="322.10" x2="42.30" y2="322.10" stroke="#444" stroke-width="0.8"/>
<line x1="80.95" y1="374.60" x2="80.95" y2="376.40" stroke="#444" stroke-width="0.8"/>
<line x1="40.50" y1="339.60" x2="42.30" y2="339.60" stroke="#444" stroke-width="0.8"/>
<line x1="100.27" y1="374.60" x2="100.27" y2="376.40" stroke="#444" stroke-width="0.8"/>
<line x1="40.50" y1="357.10" x2="42.30" y2="357.10" stroke="#444" stroke-width="0.8"/>
<path d="M139.1 304.6H216.3" fill="none" stroke="#999" stroke-width="0.9"/>
<path d="M216.3 304.6V374.6" fill="none" stroke="#aaa" stroke-width="0.9"/>
<path d="M139.1 304.6V374.6" fill="none" stroke="#444" stroke-width="0.9"/>
<path d="M139.1 374.6H216.3" fill="none" stroke="#444" stroke-width="0.9"/>
<line x1="158.40" y1="374.60" x2="158.40" y2="376.40" stroke="#444" stroke-width="0.8"/>
<line x1="137.30" y1="322.10" x2="139.10" y2="322.10" stroke="#444" stroke-width="0.8"/>
<line x1="177.70" y1="374.60" x2="177.70" y2="376.40" stroke="#444" stroke-width="0.8"/>
<line x1="137.30" y1="339.60" x2="139.10" y2="339.60" stroke="#444" stroke-width="0.8"/>
<line x1="197.00" y1="374.60" x2="197.00" y2="376.40" stroke="#444" stroke-width="0.8"/>
<line x1="137.30" y1="357.10" x2="139.10" y2="357.10" stroke="#444" stroke-width="0.8"/>
<clipPath id="c7"><rect x="42.3" y="318" width="64.9" height="56.60000000000002"/></clipPath>
<g clip-path="url(#c7)">
<ellipse cx="100" cy="352" rx="2.4" ry="15.6" transform="rotate(0 100 352)" fill="#000" opacity="0.47" filter="url(#bl)"/>
<ellipse cx="94" cy="338" rx="6.0" ry="9.0" transform="rotate(0 94 338)" fill="#000" opacity="0.30" filter="url(#bl)"/>
<ellipse cx="73" cy="366.8" rx="11.4" ry="4.8" transform="rotate(0 73 366.8)" fill="#000" opacity="0.30" filter="url(#bl)"/>
</g>
<path transform="scale(.5)" d="M201 717h2M200 720h2M201 679h2M198 653h2M196 699h2M201 742h2M209 692h2M198 701h2M209 675h2M198 717h2M204 713h2M200 728h2M196 743h2M198 712h2M196 687h2M204 717h2M199 723h2M192 707h2M193 729h2M197 703h2M197 743h2M193 721h2M199 743h2M201 684h2M198 705h2M206 706h2M198 693h2M203 696h2M207 727h2M200 707h2M199 733h2M206 698h2M201 668h2M199 707h2M200 704h2M204 721h2M203 688h2M198 703h2M193 666h2M201 703h2M200 733h2M191 713h2M199 670h2M203 739h2M194 704h2M204 704h2M198 728h2M193 702h2M197 701h2M195 707h2M205 714h2M195 690h2M197 665h2M203 716h2M199 740h2M203 688h2M200 699h2M200 736h2M205 678h2M208 662h2M199 745h2M204 708h2M202 686h2M206 699h2M198 664h2M208 664h2M196 717h2M200 746h2M201 683h2M202 667h2M197 738h2M201 674h2M197 700h2M201 708h2M203 723h2M193 692h2M200 732h2M197 669h2M197 711h2M209 671h2M198 685h2M204 719h2M199 712h2M206 696h2M195 705h2M195 710h2M203 694h2M204 736h2M207 695h2M202 726h2M203 730h2M202 723h2M204 717h2M202 712h2M200 656h2M200 705h2M198 692h2M205 697h2M191 690h2M199 737h2M201 718h2M198 689h2M194 721h2M200 685h2M200 734h2M204 725h2M204 711h2M200 704h2M202 659h2M201 705h2M197 689h2M204 694h2M200 744h2M196 703h2M198 691h2M199 719h2M199 729h2M203 676h2M200 700h2M195 657h2M204 712h2M205 746h2M203 714h2M205 701h2M198 730h2M202 691h2M198 671h2M208 694h2M198 689h2M198 708h2M200 725h2M206 708h2M200 689h2M208 691h2M203 710h2M199 678h2M201 709h2M207 665h2M194 718h2M194 695h2M204 656h2M194 743h2M197 681h2M199 746h2M199 725h2M199 676h2M201 657h2M204 662h2M200 648h2M200 715h2M197 748h2M202 666h2M198 709h2M203 718h2M194 666h2M195 732h2M193 672h2M200 702h2M200 683h2M201 701h2M199 709h2M199 699h2M205 721h2M200 707h2M206 670h2M192 704h2M193 676h2M201 708h2M199 684h2M194 685h2M197 703h2M204 696h2M195 714h2M205 711h2M198 694h2M199 677h2M204 695h2M208 734h2M198 691h2M197 657h2M200 714h2M198 701h2M202 683h2M200 697h2M206 721h2M200 677h2M199 683h2M199 713h2M203 730h2M198 709h2M200 726h2M208 730h2M203 710h2M202 652h2M201 700h2M200 723h2M195 711h2M198 724h2M203 708h2M202 684h2M206 652h2M199 684h2M198 709h2M200 728h2M208 716h2M196 704h2M197 684h2M198 727h2M197 712h2M197 725h2M205 668h2M203 682h2M201 701h2M203 672h2M208 712h2M197 735h2M205 717h2M198 684h2M196 744h2M200 703h2M199 734h2M199 725h2M193 684h2M201 680h2M208 652h2M202 717h2M202 702h2M200 711h2M198 748h2M207 704h2M204 739h2M198 644h2M205 743h2M198 702h2M199 719h2M200 719h2M197 664h2M207 710h2M202 675h2M202 703h2M202 707h2M204 739h2M199 694h2M203 667h2M197 695h2M192 747h2M199 673h2M202 692h2M195 713h2M206 665h2M200 747h2M197 744h2M201 727h2M207 720h2M201 743h2M196 698h2M198 700h2M193 662h2M203 699h2M202 694h2M200 665h2M207 731h2M195 692h2M201 693h2M200 709h2M193 723h2M202 679h2M199 702h2M199 705h2M194 706h2M202 714h2M202 689h2M201 729h2M200 710h2M200 718h2M195 703h2M203 681h2M202 692h2M198 675h2M196 735h2M194 708h2M195 745h2M197 675h2M199 713h2M207 741h2M196 710h2M204 686h2M198 727h2M194 705h2M200 697h2M200 663h2M203 693h2M208 746h2M208 741h2M197 697h2M205 685h2M199 668h2M195 686h2M197 711h2M201 695h2M195 710h2M202 703h2M205 693h2M203 711h2M205 745h2M195 658h2M204 712h2M201 693h2M197 734h2M202 690h2M200 711h2M195 688h2M202 708h2M195 712h2M208 720h2M195 692h2M198 684h2M197 689h2M200 673h2M204 712h2M208 725h2M204 717h2M200 677h2M203 707h2M197 714h2M201 688h2M206 692h2M201 731h2M198 696h2M202 696h2M198 676h2M201 695h2M203 730h2M200 724h2M197 744h2M198 701h2M199 692h2M203 704h2M196 724h2M200 719h2M201 693h2M193 697h2M196 735h2M199 741h2M209 733h2M209 681h2M198 678h2M195 672h2M204 684h2M199 719h2M198 743h2M205 722h2M207 718h2M201 732h2M204 671h2M204 730h2M191 747h2M205 674h2M201 686h2M197 711h2M195 704h2M203 685h2M196 719h2M204 728h2M198 694h2M205 727h2M201 710h2M199 720h2M203 705h2M201 668h2M200 745h2M201 669h2M198 706h2M206 748h2M199 708h2M196 738h2M195 723h2M198 679h2M201 746h2M195 710h2M197 731h2M194 673h2M199 672h2M204 668h2M200 692h2M204 691h2M199 747h2M203 736h2M206 717h2M201 663h2M193 695h2M201 733h2M197 697h2M208 677h2M199 702h2M197 742h2M194 697h2M193 687h2M206 655h2M193 705h2M201 686h2M202 700h2M198 707h2M205 675h2M203 712h2M199 687h2M201 725h2M196 723h2M200 725h2M201 700h2M201 721h2M194 705h2M190 710h2M198 705h2M204 728h2M206 728h2M199 685h2M199 688h2M202 683h2M201 709h2M198 677h2M200 715h2M196 708h2M201 681h2M202 669h2M204 686h2M204 707h2M200 670h2M203 676h2M209 715h2M201 705h2M203 716h2M202 727h2M200 746h2M194 662h2M202 703h2M194 673h2M197 737h2M203 661h2M195 708h2M195 688h2M198 705h2M202 686h2M198 711h2M206 715h2M199 728h2M200 669h2M203 746h2M196 724h2M195 702h2M200 695h2M200 722h2M198 698h2M199 711h2M198 724h2M201 689h2M195 697h2M204 721h2M200 743h2M202 739h2M199 696h2M201 658h2M200 692h2M205 719h2M206 693h2M206 708h2M202 715h2M195 727h2M198 721h2M200 680h2M199 712h2M199 747h2M205 707h2M199 741h2M200 734h2M195 655h2M203 727h2M199 700h2M202 718h2M200 705h2M201 731h2M203 713h2M199 732h2M203 691h2M200 644h2M200 676h2M201 686h2M205 738h2M199 681h2M205 669h2M199 694h2M201 706h2M197 727h2M202 713h2M206 747h2M198 698h2M200 678h2M197 692h2M202 723h2M198 664h2M196 703h2M193 698h2M201 714h2M198 715h2M203 695h2M196 691h2M201 711h2M194 665h2M194 746h2M201 675h2M192 746h2M191 746h2M202 703h2M201 727h2M192 711h2M195 694h2M199 693h2M197 709h2M199 711h2M203 682h2M199 682h2M203 723h2M204 732h2M201 678h2M197 735h2M201 725h2M198 698h2M207 729h2M194 686h2M201 731h2M204 726h2M205 722h2M203 682h2M195 691h2M205 739h2M196 697h2M200 719h2M201 742h2M201 699h2M199 732h2M199 718h2M198 674h2M192 697h2M197 725h2M199 680h2M203 693h2M208 692h2M200 684h2M206 712h2M199 702h2M192 737h2M200 734h2M197 741h2M198 705h2M208 691h2M200 700h2M200 708h2M199 715h2M198 738h2M203 675h2M198 696h2M204 654h2M204 653h2M198 682h2M199 724h2M204 701h2M199 679h2M205 692h2M197 664h2M203 747h2M202 688h2M201 649h2M203 690h2M202 701h2M196 664h2M196 703h2M203 733h2M204 744h2M207 724h2M201 661h2M204 701h2M198 671h2M205 704h2M198 685h2M200 715h2M202 707h2M201 706h2M198 733h2M199 690h2M207 681h2M198 707h2M199 702h2M204 730h2M195 744h2M196 722h2M196 673h2M203 717h2M202 740h2M204 692h2M198 715h2M198 711h2M203 711h2M195 747h2M200 713h2M194 703h2M195 745h2M198 668h2M200 680h2M200 680h2M193 699h2M199 683h2M203 726h2M200 702h2M201 728h2M201 675h2M202 746h2M201 690h2M194 717h2M202 716h2M201 736h2M200 657h2M199 709h2M203 718h2M203 716h2M201 675h2M199 730h2M207 700h2M198 726h2M193 689h2M201 683h2M193 747h2M200 720h2M208 687h2M199 696h2M204 728h2M206 693h2M195 689h2M192 713h2M192 715h2M196 715h2M206 701h2M199 705h2M197 713h2M199 708h2M197 718h2M201 683h2M200 669h2M194 677h2M202 694h2M200 711h2M199 700h2M198 745h2M202 697h2M207 674h2M200 714h2M198 747h2M202 663h2M202 674h2M202 713h2M199 690h2M197 688h2M206 684h2M199 714h2M195 694h2M204 710h2M202 722h2M200 645h2M203 718h2M190 699h2M206 675h2M204 740h2M199 697h2M196 720h2M201 718h2M200 705h2M198 731h2M199 735h2M204 686h2M195 730h2M202 695h2M204 654h2M202 695h2M203 690h2M198 721h2M201 668h2M202 722h2M193 680h2M195 680h2M197 744h2M196 697h2M205 693h2M204 730h2M198 714h2M204 710h2M206 714h2M206 678h2M201 669h2M198 694h2M199 717h2M194 662h2M203 712h2M204 725h2M201 691h2M202 681h2M195 696h2M209 680h2M205 700h2M207 692h2M195 688h2M199 718h2M197 709h2M209 705h2M203 684h2M200 695h2M201 683h2M199 722h2M200 654h2M204 713h2M207 682h2M201 680h2M203 689h2M205 706h2M192 674h2M203 723h2M204 716h2M198 707h2M200 704h2M204 679h2M199 737h2M200 718h2M198 705h2M205 745h2M200 687h2M206 654h2M199 722h2M209 730h2M200 702h2M200 679h2M198 712h2M194 682h2M200 728h2M193 667h2M197 745h2M202 676h2M198 663h2M196 661h2M207 722h2M205 715h2M197 729h2M202 686h2M193 703h2M195 697h2M192 658h2M204 718h2M200 697h2M201 680h2M203 744h2M197 665h2M200 661h2M208 701h2M202 708h2M198 685h2M196 747h2M204 742h2M199 690h2M198 713h2M196 728h2M199 683h2M203 740h2M197 698h2M199 717h2M203 700h2M196 687h2M203 747h2M197 733h2M197 670h2M196 735h2M196 684h2M198 671h2M202 676h2M199 718h2M199 729h2M198 733h2M197 689h2M194 712h2M203 704h2M206 720h2M201 662h2M199 713h2M195 741h2M201 742h2M195 743h2M200 694h2M206 678h2M199 733h2M200 682h2M195 690h2M205 679h2M195 719h2M199 693h2M199 738h2M203 684h2M202 672h2M204 652h2M198 727h2M207 717h2M192 699h2M204 720h2M201 689h2M192 691h2M201 687h2M196 713h2M199 708h2M204 685h2M204 675h2M203 714h2M202 722h2M201 659h2M207 709h2M201 705h2M201 698h2M194 673h2M207 719h2M196 745h2M201 675h2M197 687h2M205 723h2M199 697h2M197 706h2M196 726h2M199 728h2M206 711h2M203 679h2M201 680h2M204 695h2M199 648h2M203 690h2M205 717h2M200 726h2M199 682h2M200 697h2M204 685h2M196 739h2M203 694h2M200 661h2M206 689h2M191 700h2M202 721h2M201 710h2M199 701h2M199 705h2M200 651h2M200 718h2M203 664h2M200 744h2M199 699h2M202 701h2M198 687h2M193 708h2M202 719h2M197 714h2M196 662h2M202 671h2M194 695h2M199 743h2M204 747h2M193 670h2M201 667h2M202 731h2M202 659h2M204 744h2M210 683h2M199 726h2M204 742h2M199 686h2M199 685h2M200 695h2M203 686h2M204 684h2M205 735h2M200 698h2M201 715h2M196 722h2M192 673h2M195 709h2M197 643h2M204 689h2M199 712h2M201 719h2M195 712h2M204 723h2M206 666h2M205 666h2M195 709h2M209 735h2M199 706h2M204 672h2M199 688h2M205 718h2M201 735h2M199 680h2M204 656h2M201 703h2M193 709h2M196 739h2M203 727h2M204 704h2M204 720h2M202 732h2M208 660h2M198 666h2M195 722h2M196 698h2M198 729h2M207 707h2M197 689h2M199 662h2M195 709h2M201 708h2M201 685h2M200 678h2M201 652h2M202 710h2M198 708h2M204 706h2M208 735h2M200 699h2M195 676h2M201 707h2M201 747h2M202 714h2M199 676h2M198 701h2M203 722h2M196 701h2M203 667h2M199 666h2M197 734h2M201 744h2M204 700h2M194 709h2M201 697h2M205 696h2M203 704h2M198 714h2M204 742h2M205 660h2M195 697h2M205 655h2M201 673h2M203 731h2M199 740h2M203 700h2M206 747h2M201 713h2M203 694h2M199 735h2M200 738h2M201 743h2M195 723h2M199 689h2M203 732h2M202 733h2M207 714h2M202 717h2M206 682h2M200 673h2M198 714h2M199 685h2M199 734h2M208 708h2M197 710h2M198 713h2M203 745h2M200 683h2M204 680h2M205 742h2M204 747h2M200 747h2M200 681h2M203 739h2M197 726h2M202 746h2M200 685h2M201 717h2M199 680h2M203 663h2M196 702h2M195 718h2M194 700h2M202 740h2M197 712h2M205 684h2M202 734h2M205 703h2M202 686h2M202 716h2M198 721h2M197 706h2M202 678h2M197 724h2M200 703h2M204 698h2M194 676h2M200 700h2M199 682h2M193 698h2M202 712h2M203 674h2M198 709h2M191 723h2M200 702h2M200 705h2M199 687h2M199 681h2M192 672h2M169 669h2M166 667h2M192 672h2M189 700h2M194 691h2M185 671h2M174 698h2M200 675h2M193 680h2M202 684h2M187 661h2M186 641h2M200 666h2M186 686h2M204 641h2M187 669h2M196 670h2M171 641h2M171 670h2M178 656h2M208 653h2M185 695h2M188 646h2M188 676h2M202 664h2M173 670h2M177 679h2M195 675h2M188 658h2M174 681h2M202 688h2M167 661h2M188 680h2M180 648h2M202 648h2M193 689h2M201 675h2M198 672h2M196 696h2M188 650h2M192 697h2M182 668h2M198 689h2M193 667h2M195 678h2M184 664h2M193 665h2M201 649h2M178 679h2M171 704h2M174 667h2M184 679h2M202 669h2M183 696h2M188 688h2M189 668h2M182 661h2M180 679h2M188 688h2M189 682h2M179 651h2M198 703h2M185 689h2M179 662h2M192 689h2M194 693h2M189 674h2M189 663h2M184 651h2M176 688h2M183 641h2M177 688h2M187 675h2M194 694h2M185 680h2M208 685h2M183 663h2M183 694h2M167 686h2M184 686h2M190 652h2M183 646h2M187 664h2M197 648h2M191 661h2M183 650h2M206 672h2M189 711h2M171 674h2M179 672h2M184 684h2M195 677h2M200 671h2M175 650h2M196 671h2M193 687h2M179 696h2M195 701h2M195 658h2M194 678h2M174 689h2M185 682h2M204 696h2M184 687h2M198 678h2M199 685h2M184 697h2M186 669h2M184 649h2M199 658h2M170 681h2M166 672h2M195 681h2M192 672h2M178 680h2M196 675h2M198 662h2M190 670h2M175 668h2M187 664h2M186 691h2M188 692h2M192 668h2M189 690h2M182 666h2M200 689h2M195 668h2M186 682h2M192 689h2M177 690h2M178 661h2M183 668h2M199 694h2M209 666h2M190 696h2M171 688h2M207 691h2M181 675h2M190 666h2M178 694h2M179 692h2M177 664h2M165 704h2M181 670h2M197 654h2M188 693h2M196 698h2M187 653h2M188 684h2M178 671h2M188 709h2M181 664h2M186 666h2M189 668h2M175 665h2M168 702h2M202 674h2M190 686h2M191 663h2M179 688h2M185 682h2M184 689h2M187 680h2M194 646h2M197 696h2M183 651h2M192 663h2M178 700h2M187 660h2M175 682h2M191 682h2M176 666h2M188 670h2M189 671h2M188 679h2M195 695h2M188 645h2M203 653h2M191 694h2M194 696h2M188 709h2M193 651h2M195 671h2M199 665h2M197 656h2M185 674h2M200 664h2M191 693h2M170 700h2M187 679h2M208 675h2M195 695h2M203 695h2M182 682h2M173 657h2M185 671h2M182 664h2M205 656h2M193 657h2M191 663h2M171 645h2M200 695h2M185 673h2M192 652h2M195 669h2M171 667h2M188 671h2M206 686h2M182 680h2M183 664h2M203 673h2M182 698h2M185 691h2M177 687h2M184 690h2M206 641h2M202 671h2M183 692h2M187 667h2M186 673h2M183 692h2M205 662h2M181 674h2M180 677h2M190 676h2M181 681h2M175 670h2M186 677h2M196 673h2M178 682h2M187 688h2M205 699h2M188 661h2M190 673h2M180 653h2M200 661h2M198 692h2M179 682h2M187 654h2M182 678h2M198 665h2M186 692h2M184 666h2M173 682h2M181 661h2M183 664h2M196 667h2M175 689h2M192 670h2M211 662h2M177 640h2M181 675h2M196 675h2M180 661h2M204 669h2M206 674h2M184 670h2M193 688h2M184 684h2M175 651h2M172 669h2M181 687h2M184 669h2M185 653h2M175 705h2M194 654h2M176 681h2M166 641h2M183 667h2M196 659h2M175 682h2M178 678h2M169 670h2M206 654h2M187 674h2M189 674h2M195 665h2M178 679h2M190 648h2M195 670h2M198 676h2M175 670h2M195 692h2M186 686h2M201 680h2M202 686h2M178 657h2M180 702h2M200 662h2M188 707h2M180 676h2M184 689h2M169 681h2M190 693h2M192 682h2M178 680h2M183 704h2M191 677h2M190 677h2M184 686h2M188 662h2M197 687h2M199 670h2M197 699h2M195 682h2M188 652h2M178 675h2M199 684h2M183 679h2M187 665h2M188 689h2M177 670h2M188 661h2M179 683h2M210 677h2M183 700h2M190 647h2M183 647h2M185 698h2M208 691h2M185 666h2M184 660h2M179 681h2M189 679h2M187 654h2M194 676h2M196 678h2M178 690h2M196 672h2M195 683h2M183 680h2M180 696h2M184 691h2M206 677h2M195 698h2M169 708h2M194 658h2M190 708h2M189 697h2M199 667h2M192 702h2M180 678h2M183 668h2M186 644h2M182 650h2M179 668h2M199 660h2M197 670h2M180 651h2M190 675h2M196 667h2M167 684h2M202 677h2M190 684h2M191 675h2M193 690h2M193 651h2M192 671h2M178 691h2M182 683h2M181 686h2M201 664h2M180 691h2M179 693h2M192 663h2M183 697h2M197 679h2M190 693h2M182 682h2M193 697h2M184 674h2M191 673h2M186 685h2M183 672h2M191 678h2M184 675h2M176 665h2M181 660h2M203 709h2M186 675h2M187 671h2M183 690h2M193 657h2M190 664h2M194 665h2M191 665h2M186 682h2M195 656h2M183 664h2M171 680h2M186 672h2M180 704h2M179 671h2M191 660h2M187 642h2M186 677h2M179 660h2M178 668h2M199 678h2M182 669h2M196 666h2M179 688h2M188 696h2M188 725h2M194 730h2M191 718h2M184 720h2M186 742h2M182 733h2M194 711h2M199 731h2M194 730h2M199 732h2M184 721h2M182 719h2M183 731h2M199 726h2M200 740h2M196 710h2M195 740h2M177 720h2M192 728h2M178 728h2M177 726h2M196 731h2M185 735h2M207 725h2M191 712h2M197 710h2M188 738h2M195 719h2M177 725h2M210 741h2M181 725h2M191 739h2M202 736h2M179 711h2M180 736h2M178 742h2M197 729h2M198 720h2M200 729h2M185 719h2M171 724h2M195 724h2M186 747h2M201 713h2M190 728h2M183 725h2M193 733h2M185 722h2M196 745h2M186 734h2M197 732h2M182 728h2M191 716h2M190 728h2M184 746h2M193 719h2M201 725h2M181 715h2M200 715h2M193 733h2M185 736h2M199 727h2M190 736h2M191 743h2M197 729h2M192 724h2M196 720h2M190 714h2M212 731h2M191 733h2M175 744h2M175 735h2M187 736h2M196 731h2M199 725h2M192 725h2M184 716h2M193 747h2M182 723h2M184 733h2M172 730h2M183 717h2M192 730h2M193 742h2M177 741h2M195 743h2M195 707h2M192 745h2M198 727h2M179 729h2M177 719h2M186 733h2M184 727h2M190 731h2M196 733h2M187 730h2M184 715h2M185 728h2M172 737h2M193 711h2M181 718h2M169 709h2M194 706h2M210 744h2M204 734h2M201 743h2M181 746h2M183 724h2M174 724h2M211 732h2M198 723h2M199 734h2M187 734h2M186 714h2M172 710h2M195 746h2M184 743h2M189 732h2M190 713h2M193 729h2M187 713h2M191 725h2M181 725h2M192 744h2M182 737h2M176 702h2M183 745h2M184 733h2M171 726h2M181 714h2M186 719h2M193 714h2M194 733h2M197 735h2M196 740h2M202 740h2M201 713h2M188 745h2M185 736h2M200 743h2M184 731h2M189 735h2M172 727h2M201 728h2M199 744h2M191 723h2M185 714h2M186 726h2M199 720h2M184 727h2M188 743h2M190 744h2M191 726h2M180 728h2M181 738h2M187 724h2M210 724h2M186 724h2M197 731h2M190 741h2M184 736h2M198 732h2M185 727h2M200 745h2M181 739h2M195 733h2M195 723h2M205 729h2M198 726h2M187 740h2M181 728h2M182 710h2M199 728h2M173 727h2M188 740h2M193 725h2M192 727h2M192 723h2M198 715h2M174 709h2M184 729h2M195 737h2M176 711h2M196 745h2M189 740h2M205 739h2M192 725h2M185 723h2M179 732h2M200 725h2M197 736h2M189 727h2M204 719h2M184 723h2M183 735h2M196 725h2M196 708h2M191 739h2M181 738h2M184 735h2M197 712h2M207 713h2M186 736h2M196 731h2M187 737h2M194 725h2M201 746h2M185 724h2M180 715h2M192 739h2M177 726h2M193 722h2M198 735h2M190 741h2M193 741h2M196 725h2M204 721h2M194 725h2M182 714h2M201 743h2M201 706h2M196 730h2M196 731h2M196 734h2M200 730h2M185 704h2M193 705h2M185 728h2M189 720h2M207 712h2M202 725h2M189 729h2M195 709h2M195 726h2M190 729h2M189 741h2M182 720h2M195 726h2M199 725h2M191 744h2M182 740h2M182 732h2M187 713h2M198 735h2M187 719h2M183 727h2M201 723h2M190 724h2M179 724h2M184 742h2M192 743h2M189 730h2M203 733h2M191 734h2M193 741h2M185 723h2M182 742h2M196 725h2M195 745h2M189 717h2M195 741h2M187 711h2M199 719h2M186 746h2M188 747h2M188 737h2M192 721h2M193 736h2M187 737h2M197 715h2M207 730h2M198 744h2M190 718h2M180 724h2M207 746h2M198 718h2M187 726h2M191 716h2M191 723h2M194 718h2M185 730h2M196 729h2M192 727h2M184 723h2M182 734h2M194 726h2M182 724h2M189 740h2M187 731h2M184 735h2M188 719h2M172 724h2M187 741h2M178 721h2M179 737h2M193 724h2M196 730h2M186 728h2M196 738h2M206 731h2M191 729h2M182 726h2M195 724h2M187 714h2M196 740h2M190 730h2M192 729h2M188 739h2M211 739h2M193 724h2M179 739h2M188 734h2M185 744h2M196 741h2M175 730h2M189 711h2M206 723h2M195 728h2M207 718h2M186 731h2M197 728h2M200 741h2M194 713h2M181 710h2M186 738h2M205 730h2M198 724h2M141 740h2M114 732h2M129 736h2M157 735h2M173 734h2M170 736h2M107 733h2M129 731h2M139 732h2M125 732h2M162 734h2M159 726h2M179 726h2M123 735h2M157 744h2M160 741h2M117 735h2M135 716h2M174 724h2M158 741h2M140 726h2M171 734h2M149 735h2M153 739h2M149 742h2M145 723h2M131 738h2M129 735h2M160 728h2M146 723h2M122 738h2M150 725h2M138 728h2M140 728h2M137 746h2M121 730h2M170 732h2M159 731h2M138 745h2M151 729h2M160 722h2M117 731h2M138 734h2M122 737h2M142 732h2M152 731h2M166 727h2M152 732h2M102 726h2M136 737h2M121 729h2M136 722h2M136 741h2M164 725h2M131 728h2M105 745h2M151 729h2M140 721h2M125 732h2M133 739h2M135 737h2M155 724h2M168 732h2M165 729h2M160 721h2M116 722h2M162 734h2M164 725h2M160 733h2M157 738h2M148 744h2M119 730h2M166 725h2M160 734h2M151 726h2M159 724h2M160 739h2M124 734h2M125 721h2M151 743h2M137 745h2M115 742h2M160 734h2M119 724h2M141 746h2M174 726h2M112 733h2M161 727h2M148 741h2M114 743h2M147 736h2M157 728h2M160 734h2M131 733h2M140 730h2M160 740h2M164 730h2M159 731h2M178 725h2M166 729h2M113 739h2M121 726h2M145 737h2M144 737h2M151 720h2M170 745h2M135 739h2M140 727h2M141 718h2M134 739h2M165 737h2M151 728h2M164 746h2M179 735h2M141 741h2M148 732h2M135 735h2M145 721h2M155 747h2M152 737h2M156 741h2M160 731h2M124 737h2M154 729h2M141 737h2M175 729h2M128 734h2M131 730h2M128 743h2M154 735h2M176 738h2M163 726h2M157 729h2M118 737h2M135 745h2M141 731h2M130 732h2M145 739h2M132 728h2M126 728h2M139 732h2M133 741h2M132 735h2M143 736h2M148 730h2M146 729h2M143 743h2M162 744h2M130 743h2M154 739h2M141 747h2M129 735h2M121 731h2M154 735h2M151 744h2M127 720h2M166 722h2M140 745h2M143 741h2M130 740h2M138 728h2M128 729h2M151 745h2M164 732h2M179 733h2M174 724h2M158 725h2M140 732h2M112 737h2M148 720h2M144 733h2M116 728h2M166 730h2M143 733h2M142 725h2M143 718h2M149 731h2M121 722h2M150 730h2M134 729h2M150 742h2M138 719h2M130 726h2M154 742h2M153 727h2M164 730h2M124 732h2M185 733h2M133 739h2M131 742h2M160 723h2M138 731h2M131 736h2M142 747h2M151 741h2M164 737h2M162 728h2M165 741h2M166 729h2M136 743h2M145 738h2M125 739h2M150 719h2M135 716h2M130 724h2M140 727h2M169 731h2M120 739h2M152 722h2M164 723h2M129 745h2M137 734h2M131 731h2M108 731h2M131 741h2M138 727h2M137 719h2M154 720h2M123 736h2M140 743h2M152 746h2M122 741h2M181 727h2M162 739h2M148 740h2M141 739h2M141 732h2M126 733h2M144 726h2M132 731h2M172 737h2M159 744h2M159 747h2M173 739h2M144 735h2M145 728h2M117 737h2M121 739h2M179 734h2M129 729h2M157 733h2M138 736h2M124 726h2M153 728h2M158 730h2M147 732h2M170 731h2M148 725h2M149 732h2M152 718h2M158 734h2M152 737h2M165 726h2M136 735h2M118 741h2M156 730h2M158 745h2M181 728h2M147 728h2M121 735h2M134 724h2M140 729h2M125 735h2M156 737h2M133 727h2M104 739h2M164 727h2M121 724h2M172 732h2M138 734h2M146 731h2M143 739h2M163 725h2M143 733h2M149 745h2M160 733h2M156 743h2M169 727h2M149 736h2M126 731h2M137 740h2M147 746h2M138 736h2M148 727h2M153 723h2M150 730h2M148 728h2M178 728h2M161 734h2M167 728h2M123 739h2M165 739h2M173 747h2M147 727h2M156 720h2M140 738h2M171 730h2M142 723h2M144 728h2M146 728h2M154 733h2M134 738h2M156 732h2M143 740h2M155 732h2M182 730h2M122 729h2M150 720h2M181 741h2M129 736h2M123 733h2M142 746h2M112 730h2M112 730h2M140 734h2M165 727h2M136 745h2M147 726h2M146 725h2M130 729h2M118 747h2M139 735h2M141 733h2M131 737h2M138 727h2M163 745h2M154 738h2M140 734h2M159 734h2M170 745h2M150 735h2M131 730h2M134 731h2M130 736h2M152 732h2M176 736h2M145 735h2M135 739h2M130 733h2M182 736h2M127 725h2M167 719h2M176 744h2M138 736h2M137 726h2M154 728h2M157 736h2M135 734h2M147 732h2M142 743h2M133 735h2M165 737h2M139 725h2M141 718h2M138 733h2M170 738h2M165 737h2M150 721h2M136 732h2M145 724h2M118 735h2M141 734h2M142 732h2M125 740h2M153 733h2M177 728h2M161 733h2M146 740h2M146 733h2M124 736h2M153 730h2M125 741h2M149 743h2M145 724h2M159 735h2M150 732h2M156 740h2M148 726h2M164 741h2M125 735h2M174 738h2M137 736h2M152 725h2M141 731h2M140 744h2M113 726h2M133 743h2M144 732h2M142 745h2M181 735h2M128 732h2M114 741h2M142 742h2M135 728h2M107 736h2M165 717h2M126 733h2M165 743h2M151 722h2M131 738h2M146 727h2M145 735h2M186 731h2M156 736h2M160 728h2M173 744h2M155 725h2M127 732h2M144 727h2M144 722h2M143 723h2M151 715h2M133 730h2M120 730h2M142 744h2M158 730h2M161 733h2M160 730h2M151 731h2M163 747h2M175 744h2M143 746h2M141 733h2M130 741h2M117 733h2M158 725h2M155 725h2M140 736h2M171 745h2M115 728h2M150 733h2M122 727h2M150 734h2M183 725h2M135 724h2M165 729h2M105 719h2M144 718h2M120 715h2M147 718h2M138 735h2M134 723h2M86 718h2M96 716h2M130 728h2M144 732h2M148 731h2M121 730h2M141 738h2M136 723h2M104 738h2M144 718h2M124 718h2M125 746h2M116 727h2M115 732h2M94 736h2M110 728h2M170 741h2M127 726h2M133 738h2M151 745h2M151 726h2M127 724h2M117 734h2M128 736h2M114 719h2M116 725h2M131 747h2M127 725h2M171 747h2M141 738h2M91 724h2M123 728h2M87 731h2M158 743h2M129 734h2M124 705h2M134 738h2M97 745h2M134 743h2M105 727h2M95 738h2M133 745h2M116 706h2M118 724h2M123 722h2M118 729h2M113 719h2M120 712h2M87 727h2M95 726h2M124 741h2M113 728h2M120 721h2M98 708h2M88 717h2M106 722h2M88 731h2M131 715h2M110 723h2M135 740h2M135 735h2M148 735h2M128 733h2M143 730h2M143 722h2M102 728h2M134 747h2M104 709h2M107 724h2M116 731h2M124 721h2M171 722h2M119 714h2M112 731h2M91 724h2M109 729h2M135 727h2M142 722h2M130 718h2M93 717h2M118 733h2M158 732h2M136 719h2M156 721h2M121 745h2M166 722h2M131 715h2M131 721h2M149 733h2M91 724h2M108 729h2M144 715h2M119 735h2M106 723h2M111 739h2M138 716h2M144 745h2M117 731h2M135 735h2M166 729h2M118 730h2M122 709h2M140 731h2M107 719h2M93 730h2M129 729h2M142 725h2M101 729h2M154 742h2M124 748h2M106 722h2M116 738h2M129 729h2M107 732h2M86 730h2M105 720h2M129 727h2M114 728h2M110 742h2M130 731h2M150 743h2M126 715h2M136 722h2M111 725h2M146 718h2M131 725h2M117 729h2M158 723h2M128 732h2M94 725h2M134 732h2M126 718h2M117 734h2M110 738h2M132 745h2M93 728h2M93 716h2M162 735h2M131 717h2M124 733h2M150 707h2M122 716h2M166 744h2M125 725h2M152 745h2M116 738h2M130 730h2M96 747h2M104 714h2M153 731h2M142 729h2M98 726h2M109 716h2M127 720h2M130 729h2M114 718h2M119 739h2M144 741h2M108 718h2M128 728h2M136 732h2M97 730h2M152 727h2M123 729h2M94 735h2M132 737h2M113 720h2M104 726h2M123 734h2M106 720h2M102 723h2M140 737h2M124 740h2M176 681h2M180 665h2M159 694h2M170 677h2M165 669h2M158 701h2M185 713h2M146 704h2M158 663h2M161 692h2M187 710h2M172 713h2M139 687h2M179 736h2M145 642h2M167 685h2M178 686h2M155 681h2M174 737h2M167 667h2M162 660h2M162 679h2M172 701h2M163 701h2M158 679h2M175 682h2M180 706h2M160 731h2M180 678h2M152 687h2M170 702h2M175 702h2M147 678h2M169 705h2M168 694h2M154 712h2M171 664h2M165 685h2M172 728h2" stroke="#000" stroke-width="1.7" fill="none"/>
<path transform="scale(.5)" d="M148 742h2M137 732h2M146 734h2M175 744h2M135 743h2M120 728h2M134 729h2M149 735h2M131 736h2M135 737h2M151 725h2M130 741h2M145 736h2M140 745h2M154 728h2M149 725h2M139 731h2" stroke="#fff" stroke-width="1.7" fill="none" opacity="0.85"/>
<rect x="79.20" y="320.40" width="28.30" height="29.80" fill="none" stroke="#777" stroke-width="0.6"/>
<rect x="42.30" y="350.20" width="44.30" height="24.30" fill="none" stroke="#444" stroke-width="0.7"/>
<rect x="86.60" y="350.20" width="20.90" height="24.30" fill="none" stroke="#444" stroke-width="0.7"/>
<text x="86" y="316.5" font-size="12" font-weight="normal" font-style="normal" text-anchor="start">38</text>
<text x="69.5" y="324" font-size="13" font-weight="bold" font-style="italic" text-anchor="start" stroke="#000" stroke-width="0.2">C</text>
<text x="55.5" y="345.6" font-size="12" font-weight="normal" font-style="normal" text-anchor="start">34</text>
<text x="46.7" y="361.8" font-size="13" font-weight="bold" font-style="italic" text-anchor="start" stroke="#000" stroke-width="0.2">A</text>
<text x="109.5" y="363" font-size="13" font-weight="bold" font-style="italic" text-anchor="start" stroke="#000" stroke-width="0.2">B</text>
<text x="109.8" y="378" font-size="12" font-weight="normal" font-style="normal" text-anchor="start">27</text>
<clipPath id="c8"><rect x="139.1" y="318" width="64.9" height="56.60000000000002"/></clipPath>
<g clip-path="url(#c8)">
<ellipse cx="191" cy="335" rx="4.1" ry="9.0" transform="rotate(-18 191 335)" fill="#000" opacity="0.38" filter="url(#bl)"/>
<ellipse cx="191" cy="365" rx="4.3" ry="6.6" transform="rotate(0 191 365)" fill="#000" opacity="0.36" filter="url(#bl)"/>
</g>
<path transform="scale(.5)" d="M380 691h2M374 671h2M375 671h2M396 691h2M387 666h2M380 647h2M378 660h2M367 670h2M379 689h2M381 688h2M385 685h2M392 688h2M370 654h2M394 702h2M390 668h2M388 668h2M389 687h2M383 668h2M388 686h2M397 689h2M380 655h2M386 664h2M376 670h2M372 654h2M378 657h2M389 673h2M376 679h2M379 653h2M385 663h2M383 680h2M366 667h2M388 674h2M393 675h2M388 686h2M384 681h2M382 648h2M391 675h2M381 644h2M379 651h2M375 660h2M385 656h2M391 678h2M386 675h2M391 670h2M389 675h2M380 699h2M385 668h2M382 656h2M376 654h2M386 685h2M369 658h2M382 660h2M385 655h2M384 676h2M397 695h2M393 677h2M385 682h2M387 668h2M372 659h2M375 678h2M391 676h2M376 655h2M392 690h2M388 690h2M382 670h2M377 651h2M390 660h2M384 673h2M382 658h2M377 667h2M372 660h2M385 664h2M385 665h2M381 660h2M389 658h2M393 694h2M389 657h2M379 675h2M390 687h2M382 679h2M378 662h2M398 687h2M387 673h2M388 695h2M382 688h2M381 680h2M382 665h2M382 674h2M376 661h2M387 656h2M378 654h2M372 665h2M397 668h2M391 680h2M372 659h2M386 684h2M378 653h2M374 648h2M378 651h2M368 646h2M374 663h2M385 662h2M378 663h2M381 664h2M373 669h2M378 646h2M373 685h2M377 658h2M371 669h2M386 659h2M393 701h2M386 666h2M380 689h2M387 663h2M390 676h2M396 679h2M386 680h2M376 656h2M378 664h2M390 669h2M382 658h2M384 660h2M375 682h2M390 689h2M393 666h2M364 643h2M376 651h2M393 674h2M366 645h2M396 682h2M395 689h2M382 659h2M384 670h2M378 669h2M375 654h2M369 678h2M384 691h2M387 665h2M364 658h2M384 684h2M368 671h2M392 675h2M375 670h2M389 684h2M378 667h2M376 654h2M381 681h2M377 663h2M374 660h2M388 672h2M385 671h2M385 679h2M376 666h2M380 689h2M387 669h2M388 678h2M389 677h2M382 668h2M392 678h2M390 685h2M377 672h2M380 688h2M387 669h2M379 669h2M390 680h2M382 658h2M377 664h2M378 661h2M385 698h2M379 675h2M390 687h2M388 663h2M390 681h2M375 641h2M367 663h2M397 681h2M382 672h2M384 670h2M383 658h2M378 668h2M368 655h2M371 654h2M392 683h2M380 654h2M384 671h2M378 689h2M388 679h2M364 661h2M391 653h2M394 673h2M375 660h2M374 665h2M373 695h2M383 673h2M377 669h2M383 686h2M376 669h2M398 687h2M369 646h2M390 654h2M380 671h2M385 661h2M378 664h2M379 686h2M380 673h2M381 683h2M391 656h2M382 669h2M389 659h2M390 671h2M385 661h2M376 667h2M387 666h2M394 690h2M367 658h2M375 661h2M380 653h2M376 670h2M382 671h2M374 647h2M380 677h2M386 675h2M372 662h2M369 669h2M378 681h2M385 686h2M397 669h2M379 652h2M375 661h2M399 674h2M389 664h2M381 672h2M381 678h2M380 649h2M367 671h2M374 650h2M392 687h2M379 649h2M378 656h2M389 672h2M388 681h2M379 649h2M386 681h2M392 683h2M374 656h2M392 664h2M389 676h2M390 684h2M390 687h2M378 657h2M391 668h2M380 648h2M384 671h2M386 649h2M377 675h2M391 671h2M389 680h2M402 686h2M373 648h2M369 669h2M376 673h2M370 638h2M391 676h2M370 653h2M392 670h2M376 656h2M384 693h2M377 671h2M378 668h2M380 690h2M386 681h2M374 669h2M394 665h2M372 651h2M380 679h2M376 661h2M396 690h2M379 664h2M372 648h2M372 661h2M392 649h2M382 672h2M375 653h2M372 642h2M378 666h2M375 674h2M388 680h2M368 653h2M382 670h2M370 647h2M387 685h2M378 679h2M377 682h2M378 687h2M386 685h2M373 651h2M371 657h2M380 660h2M385 667h2M376 663h2M382 677h2M388 660h2M387 684h2M386 654h2M371 664h2M387 661h2M387 665h2M387 674h2M378 661h2M393 703h2M379 683h2M374 651h2M385 682h2M369 656h2M380 648h2M394 683h2M378 673h2M393 680h2M362 653h2M387 685h2M394 672h2M377 657h2M386 668h2M403 693h2M383 657h2M386 685h2M386 677h2M367 638h2M395 694h2M380 674h2M377 694h2M404 685h2M376 674h2M385 675h2M380 678h2M378 653h2M383 696h2M386 676h2M392 656h2M395 684h2M377 669h2M377 647h2M368 665h2M389 664h2M384 642h2M382 675h2M393 679h2M392 678h2M390 692h2M384 659h2M390 677h2M386 678h2M379 665h2M370 667h2M389 662h2M389 678h2M372 673h2M388 685h2M380 661h2M386 671h2M375 673h2M383 668h2M379 671h2M386 680h2M373 665h2M384 663h2M370 654h2M368 659h2M384 679h2M384 672h2M386 668h2M374 674h2M392 699h2M392 700h2M375 651h2M379 667h2M380 666h2M398 670h2M381 670h2M387 685h2M386 683h2M377 675h2M382 673h2M371 664h2M374 679h2M390 667h2M371 668h2M381 645h2M380 672h2M380 675h2M386 674h2M392 683h2M367 659h2M381 672h2M378 654h2M382 697h2M384 675h2M385 640h2M382 666h2M387 690h2M375 650h2M368 654h2M386 659h2M374 670h2M375 679h2M384 673h2M387 662h2M380 645h2M396 694h2M380 683h2M376 674h2M383 662h2M374 671h2M383 676h2M375 646h2M391 675h2M372 671h2M398 697h2M379 663h2M390 667h2M375 648h2M377 678h2M396 672h2M379 665h2M369 656h2M395 694h2M376 659h2M370 667h2M381 645h2M386 688h2M389 657h2M386 676h2M383 669h2M384 672h2M380 668h2M390 703h2M387 685h2M383 693h2M389 670h2M398 678h2M366 640h2M387 669h2M373 656h2M389 681h2M389 667h2M373 651h2M382 691h2M373 671h2M376 661h2M372 667h2M384 665h2M381 659h2M379 683h2M380 666h2M390 683h2M379 672h2M387 689h2M370 662h2M375 649h2M390 685h2M391 663h2M386 670h2M378 675h2M387 688h2M374 651h2M381 661h2M384 675h2M363 650h2M388 681h2M378 671h2M382 661h2M379 663h2M388 668h2M377 675h2M376 667h2M373 670h2M390 678h2M382 657h2M382 670h2M379 667h2M381 699h2M378 674h2M378 654h2M380 676h2M384 677h2M375 671h2M376 672h2M375 664h2M391 684h2M382 674h2M373 665h2M381 677h2M385 641h2M396 687h2M384 664h2M380 648h2M374 675h2M381 682h2M368 646h2M383 679h2M373 674h2M384 676h2M388 672h2M371 653h2M385 665h2M393 685h2M375 664h2M391 670h2M374 670h2M385 688h2M371 664h2M391 680h2M381 663h2M379 681h2M384 670h2M366 647h2M377 664h2M400 701h2M370 662h2M392 682h2M386 666h2M377 664h2M370 663h2M382 688h2M392 671h2M371 670h2M384 688h2M378 678h2M385 682h2M386 694h2M383 667h2M378 663h2M393 679h2M383 677h2M395 690h2M391 674h2M372 659h2M387 667h2M386 688h2M393 689h2M376 657h2M385 683h2M375 672h2M387 672h2M387 676h2M384 655h2M384 669h2M381 666h2M370 662h2M378 672h2M382 662h2M384 677h2M381 674h2M376 669h2M382 682h2M372 655h2M384 686h2M383 663h2M378 659h2M378 676h2M374 659h2M380 671h2M383 662h2M385 675h2M394 668h2M369 679h2M377 677h2M378 654h2M369 682h2M382 686h2M367 654h2M374 676h2M392 669h2M377 680h2M373 673h2M391 666h2M373 673h2M377 647h2M385 670h2M370 682h2M373 665h2M392 676h2M382 681h2M402 688h2M387 697h2M375 654h2M367 644h2M377 669h2M392 662h2M378 678h2M388 686h2M378 683h2M373 665h2M385 660h2M383 662h2M389 672h2M393 692h2M378 683h2M378 654h2M383 675h2M372 665h2M388 662h2M384 707h2M390 659h2M383 665h2M388 679h2M400 679h2M396 669h2M379 676h2M387 690h2M386 697h2M371 667h2M390 656h2M390 691h2M380 686h2M380 659h2M385 678h2M405 700h2M382 662h2M386 673h2M369 653h2M377 670h2M385 681h2M380 669h2M384 650h2M377 694h2M385 656h2M392 672h2M385 695h2M368 662h2M386 681h2M387 683h2M374 669h2M390 663h2M376 663h2M381 667h2M359 650h2M398 685h2M385 683h2M380 680h2M386 661h2M382 675h2M387 661h2M386 668h2M383 687h2M386 650h2M382 665h2M375 674h2M379 662h2M377 684h2M389 669h2M371 684h2M392 665h2M366 656h2M379 664h2M380 670h2M394 691h2M384 666h2M371 649h2M390 662h2M375 651h2M384 668h2M379 678h2M396 661h2M383 679h2M376 667h2M391 663h2M379 657h2M372 668h2M376 653h2M380 676h2M391 693h2M372 655h2M383 664h2M382 658h2M378 700h2M382 680h2M390 660h2M374 677h2M389 676h2M370 669h2M390 648h2M383 646h2M372 654h2M394 681h2M382 657h2M387 676h2M386 649h2M384 679h2M376 656h2M389 701h2M393 684h2M384 667h2M379 667h2M379 667h2M372 666h2M378 656h2M399 689h2M371 655h2M367 675h2M377 669h2M371 733h2M374 732h2M380 738h2M378 738h2M379 716h2M389 730h2M393 730h2M381 745h2M373 734h2M373 728h2M369 745h2M387 735h2M377 714h2M392 737h2M380 717h2M382 723h2M380 714h2M391 732h2M396 734h2M381 737h2M379 739h2M388 745h2M382 728h2M391 728h2M378 741h2M379 740h2M390 721h2M382 731h2M381 727h2M392 731h2M383 730h2M378 734h2M389 719h2M386 747h2M388 746h2M383 724h2M378 729h2M398 729h2M376 745h2M390 735h2M385 725h2M373 728h2M379 714h2M376 727h2M381 734h2M383 745h2M381 747h2M382 731h2M384 731h2M376 712h2M370 724h2M378 728h2M383 741h2M370 722h2M386 721h2M385 722h2M373 722h2M379 713h2M380 722h2M389 716h2M385 722h2M377 736h2M387 719h2M372 713h2M376 740h2M376 731h2M372 729h2M390 737h2M379 736h2M375 711h2M377 711h2M385 740h2M382 734h2M380 725h2M386 719h2M369 738h2M376 746h2M372 735h2M374 718h2M390 738h2M392 743h2M388 727h2M376 744h2M390 726h2M374 734h2M393 744h2M375 716h2M384 725h2M379 746h2M386 743h2M376 729h2M390 737h2M391 742h2M385 726h2M376 718h2M377 725h2M382 747h2M379 733h2M389 725h2M383 744h2M375 726h2M389 734h2M387 730h2M397 726h2M381 738h2M378 746h2M382 710h2M394 746h2M387 744h2M393 729h2M374 740h2M372 728h2M368 719h2M382 719h2M382 713h2M382 747h2M378 727h2M374 725h2M369 728h2M377 708h2M389 747h2M381 710h2M388 725h2M398 745h2M392 728h2M373 730h2M377 736h2M381 719h2M380 728h2M380 729h2M394 712h2M379 737h2M395 715h2M384 728h2M380 712h2M381 737h2M388 723h2M381 732h2M377 716h2M384 740h2M393 736h2M382 733h2M372 725h2M367 724h2M370 737h2M399 727h2M375 732h2M377 737h2M372 744h2M393 728h2M374 734h2M374 733h2M381 745h2M387 717h2M382 723h2M392 742h2M381 732h2M375 717h2M384 735h2M376 746h2M394 712h2M379 735h2M387 734h2M376 727h2M372 737h2M375 732h2M389 744h2M383 706h2M381 718h2M389 710h2M381 726h2M379 728h2M385 728h2M389 733h2M376 717h2M391 738h2M379 714h2M377 725h2M385 732h2M387 739h2M377 719h2M379 721h2M386 743h2M385 721h2M391 744h2M389 721h2M387 736h2M379 740h2M367 747h2M379 731h2M381 734h2M380 742h2M369 743h2M393 725h2M368 727h2M384 731h2M389 721h2M389 717h2M375 727h2M381 722h2M381 722h2M385 735h2M376 719h2M380 744h2M376 715h2M374 744h2M383 746h2M385 721h2M374 738h2M388 727h2M382 743h2M384 743h2M389 733h2M395 725h2M388 719h2M391 712h2M374 721h2M396 734h2M396 738h2M372 730h2M385 724h2M389 738h2M381 725h2M375 747h2M382 735h2M383 732h2M381 729h2M382 722h2M378 744h2M392 747h2M381 737h2M384 726h2M375 741h2M386 717h2M376 730h2M379 713h2M385 719h2M383 719h2M388 742h2M386 732h2M389 730h2M375 721h2M395 745h2M380 742h2M377 714h2M389 724h2M382 726h2M386 723h2M382 728h2M375 737h2M373 731h2M396 728h2M380 733h2M386 747h2M373 729h2M377 718h2M383 724h2M389 740h2M389 722h2M375 735h2M368 722h2M376 723h2M387 734h2M381 737h2M387 736h2M392 746h2M380 717h2M379 720h2M388 728h2M376 732h2M387 744h2M384 727h2M378 719h2M378 734h2M385 733h2M366 726h2M391 718h2M386 724h2M390 735h2M387 737h2M390 719h2M376 724h2M392 707h2M389 726h2M385 721h2M385 738h2M372 742h2M380 731h2M372 734h2M384 743h2M380 733h2M385 744h2M391 727h2M376 736h2M384 729h2M387 713h2M382 721h2M381 732h2M381 734h2M375 730h2M381 735h2M374 732h2M396 737h2M372 745h2M386 745h2M370 733h2M380 733h2M368 742h2M374 736h2M390 732h2M383 716h2M377 733h2M380 737h2M375 730h2M376 712h2M383 728h2M384 725h2M392 746h2M373 729h2M392 740h2M375 725h2M382 724h2M383 744h2M398 744h2M373 736h2M385 746h2M365 730h2M379 740h2M372 727h2M381 731h2M385 742h2M383 747h2M384 745h2M383 719h2M379 725h2M391 727h2M382 735h2M382 738h2M378 722h2M380 741h2M375 707h2M383 724h2M385 728h2M393 734h2M378 727h2M394 723h2M384 745h2M389 719h2M383 746h2M387 710h2M391 739h2M383 738h2M375 747h2M392 739h2M389 717h2M381 730h2M387 716h2M383 743h2M376 746h2M378 721h2M393 725h2M377 729h2M390 744h2M380 708h2M392 731h2M380 731h2M370 747h2M385 743h2M376 713h2M391 723h2M383 721h2M374 722h2M384 725h2M379 731h2M378 729h2M374 713h2M373 718h2M387 713h2M373 725h2M390 720h2M379 727h2M379 735h2M383 742h2M380 733h2M376 743h2M373 715h2M377 723h2M370 711h2M375 731h2M393 722h2M375 731h2M388 745h2M387 722h2M388 705h2M384 745h2M399 725h2M383 728h2M388 742h2M382 737h2M385 732h2M372 732h2M388 724h2M371 741h2M394 727h2M389 715h2M391 727h2M390 717h2M384 723h2M368 712h2M386 724h2M388 734h2M388 726h2M377 727h2M385 721h2M386 730h2M382 745h2M389 710h2M374 743h2M384 720h2M376 733h2M391 724h2M387 736h2M377 740h2M368 728h2M378 746h2M373 722h2M369 735h2M373 735h2M383 732h2M383 735h2M389 718h2M386 714h2M380 717h2M391 734h2M379 727h2M375 737h2M376 736h2M391 708h2M395 740h2M392 720h2M370 726h2M380 731h2M373 746h2M385 733h2M368 738h2M378 712h2M375 727h2M392 747h2M375 740h2M382 738h2M382 724h2M372 736h2M376 721h2M387 742h2M378 742h2M387 733h2M380 733h2M373 720h2M370 717h2M373 723h2M382 711h2M384 729h2M378 726h2M387 711h2M382 727h2M385 735h2M396 728h2M388 715h2M372 720h2M367 737h2M380 720h2M382 745h2M376 731h2M392 745h2M380 735h2M382 721h2M374 732h2M370 718h2M375 739h2M375 724h2M375 731h2M388 744h2M384 718h2M391 748h2M382 720h2M387 736h2M386 726h2M369 741h2M385 722h2M383 747h2M383 709h2M378 741h2M389 723h2M384 723h2M385 732h2M387 731h2M381 730h2M385 739h2M367 726h2M389 721h2M385 735h2M386 735h2M379 744h2M373 741h2M376 728h2M389 726h2M382 732h2M375 730h2M366 722h2M380 737h2M380 715h2M380 747h2M385 730h2M381 721h2M382 731h2M375 740h2M383 746h2M382 739h2M373 735h2M381 727h2M374 742h2M383 741h2M390 720h2M369 730h2M380 717h2M380 725h2M376 730h2M378 730h2M391 738h2M385 744h2M383 731h2M382 712h2M382 716h2M393 733h2M376 740h2M382 720h2M390 738h2M387 744h2M372 719h2M380 731h2M375 724h2M386 746h2M372 741h2M385 734h2M378 719h2M375 745h2M374 729h2M373 723h2M383 743h2M393 740h2M372 720h2M391 745h2M384 736h2M377 723h2M375 727h2M379 731h2M379 743h2M373 740h2M383 743h2M381 746h2M395 719h2M387 733h2M380 733h2M381 734h2M384 715h2M382 737h2M375 735h2M386 741h2M382 720h2M378 724h2M389 743h2M385 724h2M390 717h2M391 726h2M383 719h2M389 736h2M391 725h2M398 731h2M385 738h2M377 732h2M378 737h2M383 721h2M388 712h2M379 737h2M367 717h2M394 741h2M374 730h2M384 731h2M387 733h2M378 729h2M381 727h2M382 722h2M375 732h2M387 741h2M380 730h2M384 736h2M379 725h2M370 730h2M378 735h2M382 719h2M377 744h2M390 732h2M392 733h2M389 728h2M380 742h2M375 712h2M386 733h2M378 735h2M382 720h2M380 739h2M375 728h2M374 744h2M383 734h2M395 730h2M382 747h2M378 728h2M387 744h2M378 723h2M384 736h2M380 725h2M371 739h2M381 713h2M389 731h2M374 739h2M394 716h2M375 691h2M388 708h2M394 698h2M375 679h2M395 700h2M384 724h2M377 716h2M370 701h2M380 720h2M392 700h2M385 660h2M379 713h2M400 741h2M383 680h2M373 693h2M373 729h2M380 660h2M374 741h2M391 710h2M376 682h2M397 722h2M389 669h2M390 741h2M378 657h2M374 696h2M371 708h2M381 713h2M380 702h2M390 741h2M401 706h2M376 654h2M379 671h2M386 712h2M394 665h2M390 678h2M371 702h2M376 685h2M388 717h2M394 669h2M396 696h2M388 727h2M387 747h2M375 666h2M399 707h2M379 691h2M397 708h2M394 712h2M397 706h2M384 714h2M381 704h2M391 663h2M368 706h2M383 655h2M383 710h2M372 706h2M393 684h2M384 706h2M394 743h2M384 725h2M380 722h2M375 681h2M389 715h2M386 734h2M389 700h2M384 694h2M385 683h2M379 689h2M381 730h2M377 699h2M367 693h2M385 671h2M379 701h2M372 684h2M383 705h2M388 678h2M396 724h2M388 692h2M382 742h2M385 687h2M394 697h2M390 747h2M379 711h2M384 691h2M396 695h2M384 716h2M389 702h2M370 728h2M391 705h2M379 669h2M383 686h2M380 689h2M373 716h2M383 703h2M389 687h2M376 665h2M380 718h2M395 728h2M393 709h2M380 689h2M381 696h2M375 708h2M392 688h2M368 691h2M397 675h2M393 684h2M383 702h2M385 717h2M381 677h2M368 668h2M394 704h2M397 676h2M377 704h2M380 670h2M393 695h2M380 696h2M386 693h2M384 729h2M377 706h2M381 688h2M387 675h2M391 731h2M363 676h2M397 726h2M367 700h2M400 729h2M389 716h2M380 681h2M394 680h2M395 708h2M387 715h2M386 683h2M382 670h2M399 691h2M364 718h2M380 715h2M394 704h2M379 693h2M387 709h2M377 664h2M389 724h2M387 675h2M400 732h2M390 683h2M382 731h2M366 664h2M404 667h2M378 686h2M387 734h2M387 674h2M387 655h2M388 718h2M400 677h2M384 667h2M394 677h2M382 701h2M343 725h2M309 724h2M335 719h2M323 729h2M339 731h2M328 732h2M300 743h2M348 731h2M331 720h2M285 728h2M323 730h2M301 732h2M282 738h2M320 736h2M285 730h2M361 727h2M344 725h2M319 726h2M319 724h2M342 722h2M311 739h2M312 730h2M307 724h2M318 728h2M319 735h2M305 745h2M325 726h2M314 736h2M324 730h2M295 715h2M303 743h2M310 737h2M314 735h2M317 731h2M343 721h2M335 727h2M314 731h2M365 730h2M354 734h2M306 736h2M290 734h2M309 726h2M335 727h2M325 731h2M322 739h2M314 715h2M311 741h2M279 734h2M350 723h2M290 733h2M283 738h2M338 732h2M343 743h2M342 728h2M347 727h2M287 728h2M315 727h2M362 717h2M285 722h2M332 743h2M337 741h2M302 735h2M325 727h2M326 737h2M324 722h2M337 730h2M308 717h2M284 736h2M318 735h2M287 735h2M336 716h2M336 719h2M339 727h2M327 719h2M335 736h2M343 742h2M334 730h2M318 730h2M301 731h2M306 725h2M329 736h2M332 726h2M333 728h2M327 730h2M285 742h2M326 745h2M349 731h2M318 729h2M352 720h2M307 724h2M314 724h2M317 732h2M298 738h2M314 730h2M302 739h2M356 731h2M324 718h2M360 730h2M331 731h2M280 724h2M311 747h2M334 730h2M298 737h2M305 720h2M324 734h2M320 724h2M321 734h2M280 742h2M332 727h2M292 733h2M349 730h2M289 734h2M333 732h2M318 738h2M317 744h2M311 716h2M323 735h2M363 721h2M316 735h2M294 728h2M294 747h2M296 723h2M317 723h2M326 733h2M341 734h2M322 731h2M294 728h2M293 731h2M339 737h2M352 731h2M314 740h2M289 736h2M308 729h2M335 739h2M293 727h2M332 718h2M305 732h2M302 747h2M360 737h2M297 731h2M299 731h2M305 726h2M320 736h2M302 742h2M310 732h2M305 719h2M336 737h2M319 730h2M327 726h2M288 743h2M332 736h2M333 730h2M287 729h2M326 726h2M341 736h2M333 735h2M308 730h2M328 715h2M335 742h2M326 725h2M318 741h2M334 732h2M365 739h2M311 742h2M314 734h2M303 725h2M340 732h2M322 723h2M310 729h2M333 720h2M313 737h2M328 726h2M331 731h2M314 741h2M286 725h2M344 739h2M329 726h2M325 735h2M333 742h2M285 731h2M348 732h2M341 736h2M354 738h2M343 720h2M291 733h2M310 736h2M322 725h2M323 726h2M305 733h2M330 740h2M329 733h2M324 728h2M331 716h2M336 747h2M346 723h2M337 733h2M354 730h2M299 721h2M339 743h2M299 731h2M325 729h2M344 722h2M320 723h2M313 734h2M293 733h2M344 732h2M320 725h2M316 739h2M330 744h2M297 726h2M324 734h2M307 728h2M308 735h2M308 725h2M346 735h2M304 713h2M313 725h2M301 736h2M302 735h2M302 736h2M307 745h2M311 730h2M333 732h2M310 727h2M314 720h2M316 738h2M325 730h2M359 730h2M304 729h2M314 742h2M331 724h2M321 731h2M348 736h2M312 739h2M338 736h2M327 734h2M323 731h2M306 736h2M311 724h2M348 731h2M309 727h2M319 731h2M307 742h2M309 725h2M354 737h2M329 733h2M319 729h2M303 720h2M341 726h2M288 730h2M339 726h2M311 727h2M364 736h2M337 730h2M320 744h2M330 734h2M323 738h2M330 725h2M301 719h2M329 727h2M333 715h2M304 710h2M307 711h2M329 723h2M294 733h2M318 721h2M311 722h2M332 703h2M334 732h2M323 726h2M329 730h2M336 710h2M281 714h2M349 728h2M350 734h2M336 710h2M320 732h2M344 716h2M354 734h2M311 718h2M310 725h2M285 730h2M336 731h2M325 727h2M311 735h2M320 726h2M365 745h2M295 738h2M306 741h2M301 717h2M304 723h2M328 724h2M352 736h2M300 731h2M308 714h2M294 723h2M334 723h2M320 716h2M281 733h2M290 714h2M339 731h2M341 735h2M287 721h2M312 736h2M303 704h2M349 718h2M305 718h2M293 732h2M321 725h2M328 716h2M291 738h2M311 717h2M287 718h2M280 732h2M349 729h2M312 714h2M312 734h2M310 718h2M363 717h2M354 733h2M310 724h2M357 734h2M299 735h2M323 711h2M310 711h2M304 708h2M280 714h2M375 704h2M379 673h2M357 652h2M337 661h2M339 698h2M315 709h2M357 690h2M332 684h2M344 709h2M322 674h2M313 691h2M345 664h2M370 705h2M356 694h2M371 715h2M350 667h2M327 664h2" stroke="#000" stroke-width="1.7" fill="none"/>
<rect x="176.40" y="320.40" width="28.10" height="29.80" fill="none" stroke="#555" stroke-width="0.7"/>
<rect x="139.40" y="350.20" width="43.80" height="24.20" fill="none" stroke="#222" stroke-width="1.0"/>
<rect x="183.20" y="350.20" width="20.40" height="24.30" fill="none" stroke="#999" stroke-width="0.6"/>
<text x="184" y="316" font-size="12" font-weight="normal" font-style="normal" text-anchor="start">45</text>
<text x="164.7" y="323.7" font-size="13" font-weight="bold" font-style="italic" text-anchor="start" stroke="#000" stroke-width="0.2">C</text>
<text x="149.4" y="345.4" font-size="12" font-weight="normal" font-style="normal" text-anchor="start">18</text>
<text x="140.8" y="361.2" font-size="13" font-weight="bold" font-style="italic" text-anchor="start" stroke="#000" stroke-width="0.2">A</text>
<text x="205.3" y="362.4" font-size="13" font-weight="bold" font-style="italic" text-anchor="start" stroke="#000" stroke-width="0.2">B</text>
<text x="205" y="375.2" font-size="12" font-weight="normal" font-style="normal" text-anchor="start">36</text>
<text x="36.3" y="338.8" font-size="12.5" font-weight="bold" font-style="normal" text-anchor="middle" transform="rotate(-90 36.3 338.8)" stroke="#000" stroke-width="0.2">BP-1</text>
<text x="81" y="391.3" font-size="12.5" font-weight="bold" font-style="normal" text-anchor="middle" stroke="#000" stroke-width="0.2">HSA</text>
<text x="171" y="391.3" font-size="12.5" font-weight="bold" font-style="normal" text-anchor="middle" stroke="#000" stroke-width="0.2">HSA</text>
<text x="223.4" y="329.8" font-size="12.7" font-weight="bold" stroke="#000" stroke-width="0.2">B220<tspan font-size="8" dy="-3">+</tspan><tspan dy="3">CD43</tspan><tspan font-size="8" dy="-3">+</tspan></text>
<text x="223.1" y="346.6" font-size="12.7" font-weight="bold" font-style="normal" text-anchor="start" stroke="#000" stroke-width="0.2">gated</text>
<path d="M182.7 87.1L228.5 87.1L228.5 135.2L222 135.2" fill="none" stroke="#000" stroke-width="2.5" stroke-linejoin="miter"/>
<path d="M216 135.2L224.2 131.5L224.2 138.89999999999998Z" fill="#000"/>
<path d="M174.2 175.7L232.3 175.7L232.3 255.5L224 255.5" fill="none" stroke="#000" stroke-width="2.5" stroke-linejoin="miter"/>
<path d="M217.3 255.5L225.5 251.8L225.5 259.2Z" fill="#000"/>
<text x="294.8" y="10.4" font-size="14.3" font-weight="bold" font-style="normal" text-anchor="start" stroke="#000" stroke-width="0.2">C</text>
<text x="351.8" y="38.4" font-size="15" font-weight="bold">IRF8<tspan font-size="9.6" dy="-4.3" dx="0.6">+/+</tspan></text>
<text x="438.6" y="38.4" font-size="15" font-weight="bold">IRF8<tspan font-size="9.6" dy="-4.3" dx="0.6">-/-</tspan></text>
<path d="M340.7 51.4H411.5" fill="none" stroke="#888" stroke-width="0.9"/>
<path d="M411.5 51.4V125.6" fill="none" stroke="#aaa" stroke-width="0.9"/>
<path d="M340.7 51.4V125.6" fill="none" stroke="#444" stroke-width="0.9"/>
<path d="M340.7 125.6H411.5" fill="none" stroke="#555" stroke-width="0.9"/>
<line x1="358.40" y1="125.60" x2="358.40" y2="127.40" stroke="#444" stroke-width="0.8"/>
<line x1="338.90" y1="69.95" x2="340.70" y2="69.95" stroke="#444" stroke-width="0.8"/>
<line x1="376.10" y1="125.60" x2="376.10" y2="127.40" stroke="#444" stroke-width="0.8"/>
<line x1="338.90" y1="88.50" x2="340.70" y2="88.50" stroke="#444" stroke-width="0.8"/>
<line x1="393.80" y1="125.60" x2="393.80" y2="127.40" stroke="#444" stroke-width="0.8"/>
<line x1="338.90" y1="107.05" x2="340.70" y2="107.05" stroke="#444" stroke-width="0.8"/>
<path d="M432.6 51.4H503.2" fill="none" stroke="#888" stroke-width="0.9"/>
<path d="M503.2 51.4V125.6" fill="none" stroke="#aaa" stroke-width="0.9"/>
<path d="M432.6 51.4V125.6" fill="none" stroke="#555" stroke-width="0.9"/>
<path d="M432.6 125.6H503.2" fill="none" stroke="#555" stroke-width="0.9"/>
<line x1="450.25" y1="125.60" x2="450.25" y2="127.40" stroke="#444" stroke-width="0.8"/>
<line x1="430.80" y1="69.95" x2="432.60" y2="69.95" stroke="#444" stroke-width="0.8"/>
<line x1="467.90" y1="125.60" x2="467.90" y2="127.40" stroke="#444" stroke-width="0.8"/>
<line x1="430.80" y1="88.50" x2="432.60" y2="88.50" stroke="#444" stroke-width="0.8"/>
<line x1="485.55" y1="125.60" x2="485.55" y2="127.40" stroke="#444" stroke-width="0.8"/>
<line x1="430.80" y1="107.05" x2="432.60" y2="107.05" stroke="#444" stroke-width="0.8"/>
<clipPath id="c9"><rect x="340.7" y="51.4" width="70.80000000000001" height="74.19999999999999"/></clipPath>
<g clip-path="url(#c9)">
<ellipse cx="371.5" cy="110" rx="3.8" ry="5.2" transform="rotate(0 371.5 110)" fill="#000" opacity="0.46" filter="url(#bl)"/>
<ellipse cx="376" cy="81" rx="3.6" ry="12.6" transform="rotate(15 376 81)" fill="#000" opacity="0.33" filter="url(#bl)"/>
</g>
<path transform="scale(.5)" d="M746 223h2M742 214h2M742 229h2M736 220h2M746 215h2M741 224h2M747 231h2M741 228h2M747 222h2M731 206h2M739 213h2M748 215h2M744 218h2M738 218h2M748 217h2M745 211h2M743 222h2M739 238h2M748 233h2M753 210h2M740 225h2M749 219h2M742 220h2M734 225h2M737 232h2M736 211h2M754 217h2M749 222h2M750 231h2M744 221h2M745 216h2M735 215h2M742 221h2M742 227h2M747 220h2M749 238h2M735 221h2M747 216h2M748 231h2M749 227h2M747 233h2M751 218h2M746 219h2M739 218h2M749 218h2M750 224h2M747 212h2M739 229h2M748 214h2M735 211h2M747 212h2M755 207h2M746 217h2M737 225h2M748 218h2M737 226h2M748 216h2M728 221h2M739 221h2M752 219h2M749 235h2M729 229h2M735 214h2M742 215h2M747 215h2M741 227h2M739 220h2M739 208h2M757 225h2M742 220h2M737 228h2M748 230h2M744 210h2M744 226h2M740 239h2M738 234h2M750 212h2M731 221h2M752 215h2M740 204h2M749 222h2M744 210h2M738 220h2M747 206h2M748 223h2M737 225h2M745 205h2M744 216h2M745 227h2M744 216h2M745 218h2M745 227h2M748 218h2M744 225h2M742 218h2M753 235h2M739 213h2M741 202h2M754 226h2M756 228h2M729 211h2M749 220h2M747 224h2M737 207h2M747 220h2M750 224h2M732 215h2M740 222h2M734 200h2M747 208h2M746 229h2M749 227h2M750 207h2M739 225h2M753 216h2M734 217h2M753 224h2M733 214h2M747 229h2M747 234h2M744 225h2M745 229h2M743 228h2M748 216h2M746 221h2M744 219h2M745 222h2M735 212h2M743 213h2M733 238h2M742 208h2M749 222h2M746 221h2M741 224h2M734 223h2M749 227h2M747 221h2M751 227h2M730 215h2M734 216h2M755 214h2M749 211h2M733 211h2M742 214h2M728 213h2M743 216h2M735 206h2M738 227h2M750 240h2M742 214h2M736 227h2M739 216h2M734 219h2M747 212h2M746 217h2M746 212h2M738 212h2M743 215h2M734 218h2M749 227h2M743 218h2M751 211h2M745 228h2M745 235h2M734 212h2M744 218h2M748 223h2M737 209h2M753 213h2M735 213h2M740 225h2M742 207h2M753 233h2M743 205h2M746 224h2M742 229h2M754 218h2M742 222h2M744 219h2M753 229h2M751 209h2M747 217h2M732 233h2M733 210h2M729 210h2M745 233h2M749 223h2M749 217h2M743 219h2M737 232h2M733 222h2M744 206h2M735 223h2M738 221h2M740 220h2M740 218h2M749 206h2M737 224h2M746 226h2M745 200h2M750 214h2M742 208h2M748 221h2M735 225h2M750 226h2M730 226h2M747 241h2M748 236h2M745 204h2M731 230h2M747 222h2M752 219h2M744 223h2M743 216h2M743 224h2M751 220h2M746 225h2M737 211h2M744 217h2M737 215h2M732 230h2M746 231h2M728 220h2M745 214h2M749 220h2M746 220h2M741 216h2M743 232h2M742 214h2M739 227h2M752 225h2M746 227h2M736 216h2M746 223h2M756 216h2M749 234h2M737 219h2M747 224h2M745 233h2M751 212h2M738 212h2M742 227h2M744 228h2M747 215h2M730 216h2M735 209h2M741 237h2M740 227h2M747 220h2M737 236h2M743 237h2M745 219h2M743 216h2M739 225h2M738 226h2M736 205h2M741 230h2M738 237h2M751 219h2M751 218h2M743 224h2M743 231h2M736 211h2M733 217h2M741 210h2M747 208h2M737 233h2M739 222h2M743 220h2M742 226h2M741 220h2M738 218h2M743 228h2M739 211h2M741 215h2M741 231h2M740 236h2M751 220h2M742 221h2M738 225h2M746 217h2M740 225h2M735 215h2M737 205h2M737 225h2M751 212h2M739 225h2M744 214h2M739 229h2M731 208h2M743 223h2M737 212h2M750 221h2M735 223h2M741 230h2M749 212h2M738 220h2M740 225h2M741 235h2M736 207h2M740 215h2M740 214h2M737 224h2M743 217h2M734 225h2M752 218h2M743 230h2M743 227h2M740 213h2M752 208h2M748 231h2M744 220h2M750 211h2M742 223h2M744 206h2M745 216h2M752 238h2M734 223h2M741 225h2M754 216h2M753 224h2M744 235h2M732 218h2M737 224h2M744 223h2M746 239h2M753 221h2M741 232h2M746 229h2M750 230h2M746 221h2M732 230h2M745 212h2M738 220h2M743 216h2M745 231h2M744 220h2M755 230h2M741 220h2M739 219h2M741 213h2M747 217h2M738 215h2M736 219h2M742 212h2M749 222h2M748 221h2M747 207h2M741 228h2M740 223h2M734 205h2M734 237h2M747 213h2M746 219h2M745 216h2M743 229h2M748 222h2M747 221h2M745 212h2M742 232h2M744 224h2M753 230h2M755 229h2M754 211h2M746 221h2M733 223h2M745 222h2M746 221h2M754 217h2M744 206h2M742 225h2M746 226h2M744 222h2M740 234h2M737 218h2M735 229h2M741 220h2M735 234h2M739 230h2M743 220h2M742 214h2M747 226h2M742 207h2M737 216h2M735 212h2M748 215h2M741 228h2M745 223h2M742 221h2M740 232h2M742 215h2M741 223h2M739 234h2M746 226h2M744 211h2M740 225h2M744 216h2M734 213h2M747 202h2M755 213h2M752 218h2M741 204h2M740 223h2M738 222h2M739 216h2M740 232h2M751 231h2M736 210h2M737 218h2M749 233h2M734 228h2M740 216h2M749 206h2M749 238h2M751 213h2M745 225h2M737 234h2M743 230h2M742 216h2M740 226h2M747 231h2M733 205h2M748 218h2M751 225h2M742 222h2M741 212h2M745 216h2M743 218h2M735 219h2M745 212h2M748 215h2M757 200h2M751 234h2M745 212h2M743 237h2M742 224h2M743 217h2M745 232h2M754 209h2M741 218h2M750 216h2M739 216h2M744 225h2M746 211h2M735 220h2M737 231h2M737 217h2M750 225h2M754 222h2M748 214h2M742 234h2M746 220h2M737 229h2M756 224h2M753 225h2M738 227h2M740 223h2M751 222h2M744 209h2M739 220h2M734 227h2M748 222h2M739 211h2M737 222h2M741 207h2M743 212h2M735 218h2M743 225h2M733 220h2M747 225h2M738 213h2M742 219h2M746 205h2M740 220h2M745 227h2M731 218h2M739 217h2M737 218h2M747 222h2M744 216h2M756 207h2M746 223h2M748 216h2M746 212h2M742 230h2M743 233h2M747 213h2M744 212h2M744 230h2M735 228h2M730 212h2M747 217h2M754 213h2M734 222h2M733 214h2M739 209h2M741 219h2M741 224h2M737 219h2M731 209h2M745 211h2M747 234h2M746 217h2M740 231h2M735 212h2M752 227h2M746 218h2M739 216h2M739 215h2M744 207h2M756 207h2M738 220h2M742 218h2M740 226h2M738 225h2M740 230h2M750 228h2M757 219h2M740 221h2M735 222h2M741 233h2M728 224h2M739 222h2M757 207h2M743 211h2M744 204h2M744 225h2M738 228h2M748 218h2M753 220h2M744 223h2M742 205h2M746 221h2M735 215h2M745 233h2M756 220h2M746 222h2M738 222h2M737 229h2M754 213h2M745 215h2M754 216h2M742 224h2M751 216h2M742 209h2M741 236h2M750 208h2M747 209h2M755 220h2M741 230h2M741 218h2M746 229h2M748 231h2M731 209h2M734 216h2M744 211h2M747 203h2M742 214h2M740 223h2M745 240h2M747 215h2M743 221h2M744 211h2M738 232h2M735 212h2M751 217h2M736 226h2M750 210h2M737 212h2M752 205h2M735 221h2M738 222h2M746 211h2M751 215h2M753 227h2M755 215h2M751 221h2M750 207h2M754 228h2M735 223h2M750 211h2M751 207h2M738 218h2M740 202h2M743 225h2M744 222h2M744 216h2M744 229h2M751 225h2M747 237h2M739 215h2M748 218h2M747 216h2M749 228h2M748 215h2M749 224h2M747 216h2M752 213h2M748 226h2M747 231h2M751 222h2M749 222h2M736 219h2M747 215h2M739 225h2M740 214h2M747 220h2M735 232h2M746 215h2M745 229h2M743 210h2M742 222h2M744 221h2M739 216h2M751 209h2M739 212h2M748 235h2M740 225h2M736 208h2M753 213h2M754 210h2M742 218h2M748 212h2M737 212h2M754 204h2M735 217h2M736 218h2M744 221h2M747 209h2M747 219h2M744 212h2M739 214h2M755 227h2M740 208h2M740 223h2M746 233h2M743 232h2M741 219h2M751 213h2M755 217h2M738 219h2M739 222h2M748 232h2M748 223h2M736 213h2M749 210h2M739 217h2M750 211h2M739 216h2M734 218h2M748 223h2M750 222h2M741 218h2M740 214h2M740 233h2M746 221h2M731 220h2M738 219h2M734 218h2M741 208h2M731 226h2M747 222h2M744 206h2M743 209h2M746 220h2M739 225h2M730 219h2M754 214h2M744 222h2M736 227h2M751 222h2M736 214h2M745 233h2M748 226h2M751 228h2M757 223h2M748 228h2M745 205h2M748 237h2M747 213h2M753 207h2M750 206h2M752 229h2M747 229h2M738 211h2M753 217h2M748 214h2M756 218h2M755 229h2M738 214h2M740 206h2M737 215h2M748 223h2M743 228h2M742 221h2M743 208h2M748 231h2M753 217h2M757 222h2M750 219h2M744 224h2M750 217h2M746 226h2M750 226h2M734 236h2M738 227h2M738 218h2M740 204h2M740 218h2M754 219h2M740 226h2M748 220h2M747 207h2M738 238h2M736 208h2M733 214h2M755 237h2M753 235h2M749 204h2M752 216h2M745 210h2M744 206h2M755 233h2M743 207h2M744 216h2M741 227h2M748 221h2M752 227h2M747 223h2M744 201h2M734 225h2M746 226h2M743 209h2M751 216h2M743 213h2M743 214h2M738 223h2M741 221h2M744 219h2M741 213h2M746 228h2M742 233h2M745 230h2M735 220h2M741 206h2M734 226h2M756 218h2M752 225h2M740 200h2M744 233h2M752 208h2M745 224h2M735 208h2M738 228h2M736 219h2M742 228h2M756 223h2M750 200h2M754 223h2M754 231h2M749 218h2M741 219h2M741 227h2M747 231h2M745 220h2M750 225h2M734 231h2M742 212h2M740 213h2M743 212h2M736 216h2M749 220h2M744 224h2M746 217h2M748 226h2M729 215h2M743 233h2M746 202h2M745 223h2M744 221h2M749 228h2M733 210h2M745 206h2M756 214h2M744 229h2M739 212h2M746 212h2M748 224h2M748 220h2M739 211h2M732 205h2M740 227h2M749 206h2M745 217h2M745 215h2M742 234h2M739 212h2M751 225h2M745 238h2M748 217h2M749 217h2M741 229h2M735 224h2M741 215h2M744 211h2M747 212h2M742 218h2M744 235h2M735 218h2M748 221h2M750 226h2M738 224h2M751 225h2M742 221h2M735 211h2M737 234h2M739 230h2M739 232h2M737 209h2M745 227h2M739 220h2M738 212h2M749 233h2M746 227h2M743 220h2M738 225h2M745 228h2M746 212h2M733 219h2M744 208h2M743 208h2M744 209h2M741 221h2M740 222h2M742 206h2M738 219h2M742 209h2M749 227h2M735 222h2M738 213h2M736 234h2M742 229h2M740 213h2M746 231h2M757 216h2M744 209h2M740 231h2M748 216h2M734 219h2M757 209h2M744 211h2M739 223h2M737 219h2M741 217h2M743 204h2M745 235h2M742 207h2M747 215h2M740 218h2M751 216h2M739 224h2M739 219h2M748 221h2M747 221h2M753 222h2M745 217h2M748 204h2M735 233h2M741 225h2M753 214h2M749 211h2M740 231h2M742 212h2M740 226h2M749 229h2M739 207h2M749 211h2M733 206h2M749 233h2M742 219h2M741 227h2M747 226h2M738 228h2M756 227h2M749 218h2M741 239h2M743 219h2M739 227h2M753 213h2M730 215h2M745 214h2M741 230h2M749 210h2M745 219h2M745 221h2M746 212h2M746 206h2M740 211h2M740 223h2M751 215h2M752 217h2M742 209h2M740 240h2M745 226h2M747 206h2M739 223h2M735 229h2M742 213h2M739 230h2M745 230h2M731 231h2M743 224h2M752 210h2M741 227h2M746 226h2M734 223h2M743 227h2M734 217h2M743 235h2M744 208h2M736 218h2M751 217h2M746 203h2M739 230h2M735 216h2M736 212h2M737 228h2M745 217h2M745 218h2M741 222h2M748 225h2M743 234h2M743 208h2M752 215h2M736 221h2M744 219h2M734 218h2M746 234h2M746 231h2M753 229h2M748 228h2M747 211h2M733 214h2M747 231h2M741 216h2M752 229h2M744 219h2M731 231h2M745 219h2M743 218h2M746 220h2M742 227h2M734 220h2M739 230h2M757 224h2M751 230h2M743 220h2M754 223h2M748 204h2M744 230h2M738 216h2M745 225h2M736 221h2M747 208h2M748 204h2M749 226h2M752 201h2M743 217h2M744 212h2M751 219h2M742 210h2M740 203h2M741 213h2M743 204h2M741 225h2M743 237h2M741 235h2M744 235h2M746 229h2M743 242h2M747 226h2M745 235h2M744 238h2M744 241h2M743 244h2M746 226h2M745 238h2M738 228h2M741 243h2M745 238h2M740 239h2M744 240h2M746 240h2M743 238h2M746 243h2M745 232h2M744 235h2M744 245h2M746 238h2M744 238h2M744 235h2M746 235h2M744 241h2M744 239h2M748 241h2M744 235h2M742 239h2M745 246h2M741 246h2M744 239h2M747 243h2M745 233h2M744 237h2M747 232h2M748 239h2M742 239h2M745 230h2M747 237h2M747 235h2M742 243h2M746 238h2M740 245h2M746 228h2M740 236h2M745 239h2M740 240h2M745 242h2M743 233h2M742 244h2M745 239h2M745 243h2M745 245h2M740 246h2M746 234h2M746 233h2M745 235h2M740 243h2M746 237h2M749 232h2M740 241h2M742 230h2M742 233h2M745 242h2M749 222h2M738 228h2M745 235h2M747 241h2M742 234h2M749 232h2M741 232h2M745 240h2M746 228h2M745 232h2M744 227h2M741 236h2M744 223h2M745 233h2M744 242h2M748 246h2M747 245h2M740 234h2M744 238h2M748 242h2M746 241h2M740 247h2M745 238h2M740 227h2M746 244h2M740 226h2M745 233h2M748 241h2M744 249h2M743 230h2M745 235h2M746 246h2M747 232h2M745 242h2M749 239h2M745 236h2M743 234h2M739 226h2M742 242h2M744 248h2M740 235h2M743 246h2M741 241h2M747 246h2M743 237h2M747 237h2M746 239h2M747 241h2M745 236h2M746 237h2M745 241h2M743 225h2M744 241h2M745 237h2M747 241h2M742 231h2M747 235h2M742 230h2M742 243h2M746 238h2M746 245h2M746 225h2M744 235h2M749 249h2M745 232h2M747 237h2M742 246h2M745 239h2M742 233h2M749 233h2M740 248h2M743 237h2M744 245h2M745 240h2M745 241h2M745 241h2M748 238h2M742 237h2M739 245h2M748 235h2M743 234h2M742 232h2M744 239h2M738 227h2M745 247h2M745 230h2M749 233h2M743 238h2M742 248h2M745 233h2M742 237h2M744 241h2M741 245h2M746 241h2M743 247h2M744 243h2M745 230h2M745 243h2M741 247h2M741 226h2M746 244h2M746 236h2M748 246h2M747 240h2M743 237h2M742 237h2M749 234h2M747 238h2M747 244h2M742 236h2M743 235h2M745 236h2M744 238h2M745 249h2M747 246h2M745 239h2M746 228h2M742 248h2M743 236h2M741 239h2M745 241h2M750 237h2M746 229h2M744 235h2M745 247h2M744 242h2M746 242h2M745 234h2M747 239h2M742 225h2M750 239h2M746 245h2M744 232h2M746 240h2M749 237h2M743 228h2M743 226h2M738 238h2M744 247h2M743 241h2M744 232h2M743 238h2M743 239h2M745 230h2M743 241h2M742 246h2M742 240h2M744 237h2M742 238h2M744 243h2M738 240h2M744 233h2M746 235h2M745 248h2M748 233h2M747 239h2M742 245h2M745 241h2M744 227h2M744 232h2M744 244h2M747 235h2M743 226h2M746 242h2M745 234h2M739 240h2M746 247h2M744 244h2M740 247h2M749 233h2M741 240h2M747 236h2M738 245h2M747 238h2M746 233h2M742 228h2M746 232h2M747 239h2M743 235h2M743 223h2M745 236h2M746 230h2M743 231h2M742 238h2M745 229h2M743 250h2M747 241h2M744 235h2M743 234h2M740 229h2M743 247h2M742 226h2M745 237h2M743 237h2M741 246h2M748 234h2M745 238h2M744 239h2M738 233h2M745 240h2M738 243h2M745 230h2M744 242h2M740 242h2M747 245h2M742 247h2M740 242h2M746 231h2M744 234h2M742 248h2M745 238h2M745 237h2M747 231h2M742 233h2M741 235h2M744 240h2M743 235h2M742 248h2M745 239h2M740 229h2M744 241h2M746 238h2M745 236h2M742 235h2M743 242h2M748 237h2M745 245h2M739 226h2M704 223h2M704 217h2M696 223h2M692 221h2M708 217h2M699 219h2M713 217h2M696 227h2M719 214h2M720 213h2M719 231h2M709 230h2M710 233h2M708 229h2M718 220h2M683 218h2M714 235h2M693 228h2M692 227h2M711 220h2M706 227h2M718 227h2M693 210h2M697 212h2M688 237h2M712 212h2M703 226h2M695 211h2M702 226h2M717 212h2M694 228h2M706 210h2M704 218h2M712 231h2M708 223h2M703 224h2M702 213h2M698 223h2M711 227h2M719 213h2M686 220h2M711 201h2M702 233h2M684 210h2M683 214h2M696 205h2M701 223h2M717 234h2M692 225h2M699 214h2M710 209h2M691 225h2M690 219h2M701 223h2M683 207h2M694 218h2M720 223h2M712 216h2M693 226h2M703 212h2M686 213h2M700 216h2M705 207h2M691 231h2M713 229h2M714 233h2M705 226h2M720 235h2M683 224h2M712 210h2M707 231h2M710 232h2M682 216h2M700 218h2M700 236h2M704 229h2M711 230h2M709 234h2M702 205h2M698 229h2M713 215h2M706 230h2M697 231h2M701 231h2M721 229h2M723 214h2M707 209h2M685 232h2M689 214h2M693 219h2M711 225h2M713 229h2M705 220h2M714 226h2M707 216h2M713 203h2M689 221h2M701 229h2M722 208h2M708 222h2M722 233h2M722 221h2M698 232h2M721 229h2M705 205h2M696 233h2M710 216h2M696 224h2M690 212h2M729 216h2M702 218h2M696 220h2M703 229h2M707 225h2M704 229h2M698 233h2M708 228h2M698 217h2M708 227h2M708 204h2M703 232h2M700 223h2M708 225h2M683 221h2M683 215h2M686 209h2M710 220h2M694 220h2M723 240h2M700 221h2M708 227h2M703 213h2M728 210h2M724 219h2M711 235h2M711 232h2M735 234h2M695 225h2M726 225h2M731 225h2M726 246h2M726 213h2M746 239h2M685 238h2M706 223h2M716 225h2M729 240h2M709 226h2M731 221h2M692 235h2M708 235h2M694 243h2M702 217h2M730 223h2M713 237h2M748 245h2M725 219h2M725 221h2M711 240h2M722 231h2M726 236h2M742 224h2M746 233h2M714 232h2M727 226h2M699 213h2M691 211h2M719 226h2M721 222h2M695 232h2M747 215h2M719 228h2M711 233h2M701 238h2M699 234h2M724 214h2M728 228h2M703 232h2M695 222h2M713 199h2M716 226h2M716 218h2M743 229h2M722 215h2M701 224h2M737 233h2M723 202h2M753 209h2M710 225h2M744 212h2M709 239h2M736 234h2M722 224h2M707 228h2M742 227h2M729 209h2M734 214h2M693 229h2M735 200h2M690 231h2M739 229h2M736 242h2M737 232h2M709 232h2M728 227h2M730 225h2M722 206h2M715 213h2M720 213h2M697 230h2M749 219h2M704 233h2M728 228h2M735 225h2M742 229h2M717 229h2M743 241h2M721 249h2M693 210h2M692 228h2M712 224h2M704 226h2M705 221h2M736 223h2M732 209h2M737 172h2M754 151h2M743 150h2M748 172h2M752 126h2M752 157h2M756 162h2M755 150h2M750 137h2M765 166h2M745 175h2M752 158h2M757 165h2M754 115h2M757 126h2M754 161h2M756 132h2M749 180h2M747 171h2M755 149h2M760 154h2M738 202h2M755 161h2M753 170h2M753 174h2M751 182h2M756 139h2M748 137h2M754 197h2M740 165h2M743 190h2M752 140h2M763 157h2M753 181h2M742 186h2M755 122h2M742 189h2M743 169h2M766 149h2M754 131h2M753 154h2M752 200h2M755 176h2M763 120h2M757 154h2M762 147h2M744 160h2M747 162h2M743 198h2M737 188h2M761 132h2M757 139h2M750 139h2M741 169h2M744 180h2M750 147h2M753 153h2M731 196h2M750 160h2M759 158h2M748 157h2M732 185h2M748 150h2M754 128h2M752 133h2M753 144h2M760 141h2M746 164h2M752 176h2M749 168h2M737 180h2M762 113h2M751 168h2M750 176h2M751 174h2M744 183h2M756 191h2M750 168h2M750 154h2M745 187h2M745 181h2M729 205h2M748 146h2M749 144h2M753 159h2M748 153h2M748 174h2M745 181h2M748 180h2M761 158h2M761 160h2M747 163h2M761 179h2M762 165h2M759 145h2M746 181h2M747 167h2M749 144h2M743 193h2M751 176h2M759 129h2M744 177h2M764 142h2M740 162h2M755 150h2M762 179h2M752 173h2M749 168h2M757 161h2M750 157h2M747 163h2M742 182h2M754 187h2M757 143h2M751 177h2M757 147h2M742 188h2M746 180h2M758 152h2M757 154h2M758 161h2M753 153h2M756 134h2M753 141h2M761 176h2M755 160h2M746 176h2M748 150h2M743 162h2M767 137h2M740 183h2M743 181h2M752 158h2M750 160h2M746 167h2M749 158h2M756 161h2M743 161h2M757 155h2M748 186h2M750 163h2M750 166h2M745 157h2M750 183h2M763 151h2M737 163h2M744 181h2M746 159h2M746 158h2M754 186h2M750 178h2M755 158h2M754 184h2M748 182h2M748 185h2M748 141h2M748 164h2M748 166h2M746 171h2M768 152h2M755 141h2M763 136h2M759 158h2M738 195h2M746 177h2M769 139h2M744 182h2M752 171h2M754 166h2M751 122h2M756 177h2M753 179h2M756 148h2M755 158h2M763 137h2M752 187h2M756 125h2M755 151h2M755 147h2M740 171h2M742 165h2M757 143h2M750 166h2M754 168h2M751 186h2M746 142h2M745 143h2M749 171h2M757 133h2M757 160h2M766 131h2M732 184h2M754 167h2M749 195h2M754 148h2M756 175h2M742 180h2M743 181h2M758 141h2M765 115h2M751 157h2M750 165h2M751 174h2M757 152h2M755 179h2M753 168h2M755 151h2M755 137h2M749 186h2M758 150h2M752 167h2M746 166h2M766 152h2M748 153h2M758 141h2M747 170h2M748 166h2M761 134h2M752 137h2M740 177h2M742 186h2M761 155h2M749 149h2M769 122h2M740 192h2M745 175h2M756 169h2M753 173h2M762 133h2M752 190h2M755 139h2M753 162h2M755 163h2M758 143h2M759 160h2M756 169h2M742 170h2M756 159h2M755 152h2M750 170h2M752 152h2M762 143h2M740 197h2M760 154h2M756 133h2M754 173h2M764 165h2M753 175h2M739 194h2M752 188h2M749 158h2M749 165h2M755 163h2M739 177h2M755 158h2M760 149h2M747 178h2M756 171h2M747 170h2M754 154h2M767 134h2M743 195h2M749 191h2M763 121h2M757 156h2M748 175h2M755 149h2M756 199h2M745 182h2M758 171h2M751 183h2M748 182h2M743 187h2M735 183h2M747 155h2M749 197h2M748 183h2M751 176h2M756 158h2M747 186h2M747 182h2M755 163h2M746 190h2M756 160h2M747 163h2M738 202h2M754 154h2M747 166h2M742 181h2M745 146h2M750 146h2M752 191h2M737 179h2M759 165h2M757 160h2M750 156h2M747 174h2M766 142h2M748 179h2M758 177h2M742 168h2M751 158h2M748 169h2M767 116h2M763 142h2M753 148h2M740 183h2M755 163h2M746 172h2M760 140h2M750 160h2M744 183h2M752 160h2M742 194h2M758 152h2M747 186h2M748 163h2M746 162h2M756 145h2M762 162h2M744 195h2M760 132h2M758 154h2M747 171h2M750 187h2M757 180h2M740 188h2M760 162h2M767 135h2M761 145h2M745 152h2M750 153h2M763 144h2M755 135h2M757 139h2M748 171h2M742 179h2M753 162h2M734 207h2M760 120h2M750 181h2M739 163h2M750 145h2M760 159h2M763 145h2M744 156h2M749 155h2M753 139h2M746 173h2M746 178h2M748 153h2M746 151h2M762 166h2M758 148h2M761 132h2M778 118h2M759 154h2M754 156h2M760 157h2M757 153h2M763 160h2M750 172h2M763 152h2M757 134h2M750 168h2M771 141h2M758 142h2M753 157h2M756 163h2M735 180h2M748 171h2M758 153h2M761 151h2M751 143h2M745 172h2M760 149h2M751 175h2M758 158h2M747 168h2M758 159h2M763 162h2M764 148h2M744 183h2M749 154h2M763 139h2M754 162h2M767 128h2M755 145h2M744 153h2M747 188h2M749 164h2M735 205h2M770 143h2M747 147h2M756 154h2M750 144h2M749 154h2M757 172h2M761 170h2M748 209h2M757 151h2M751 131h2M757 165h2M739 207h2M761 145h2M746 191h2M749 141h2M759 143h2M749 187h2M751 171h2M752 159h2M759 142h2M750 158h2M757 164h2M763 154h2M745 192h2M752 142h2M748 162h2M761 159h2M759 154h2M760 133h2M739 171h2M744 176h2M752 153h2M753 168h2M753 133h2M746 160h2M753 172h2M752 156h2M770 134h2M743 171h2M760 148h2M738 181h2M757 152h2M734 194h2M746 152h2M748 154h2M755 141h2M759 161h2M750 146h2M760 164h2M755 166h2M761 154h2M757 145h2M737 175h2M753 169h2M758 152h2M754 143h2M764 139h2M741 170h2M751 180h2M749 161h2M771 127h2M754 167h2M762 130h2M750 174h2M759 180h2M749 158h2M743 154h2M750 165h2M748 190h2M751 167h2M743 169h2M756 144h2M754 114h2M757 137h2M753 167h2M742 190h2M746 158h2M741 170h2M739 168h2M739 179h2M744 189h2M741 179h2M760 157h2M753 144h2M756 160h2M761 131h2M761 139h2M754 151h2M754 146h2M750 155h2M745 189h2M754 167h2M746 157h2M749 152h2M760 162h2M757 163h2M759 117h2M739 190h2M762 175h2M751 158h2M758 146h2M753 199h2M740 176h2M742 184h2M751 173h2M760 139h2M761 126h2M754 137h2M750 176h2M762 149h2M756 135h2M746 163h2M757 151h2M752 191h2M761 128h2M738 196h2M759 136h2M766 156h2M753 147h2M755 151h2M755 158h2M749 182h2M766 142h2M761 154h2M762 155h2M755 176h2M760 155h2M755 152h2M743 197h2M749 158h2M749 155h2M761 148h2M753 193h2M749 180h2M753 166h2M762 126h2M746 185h2M762 151h2M753 199h2M749 203h2M749 198h2M742 191h2M748 198h2M744 211h2M748 182h2M752 215h2M741 195h2M748 194h2M747 206h2M745 205h2M747 202h2M753 186h2M754 174h2M748 205h2M751 195h2M748 216h2M746 182h2M750 199h2M744 204h2M746 191h2M745 190h2M748 186h2M740 192h2M760 175h2M739 192h2M741 198h2M745 197h2M747 193h2M741 211h2M746 184h2M738 204h2M754 198h2M742 189h2M748 205h2M760 192h2M746 195h2M752 189h2M750 185h2M753 213h2M737 176h2M739 184h2M749 199h2M742 184h2M746 188h2M741 195h2M737 197h2M736 191h2M748 181h2M756 192h2M733 189h2M739 189h2M738 196h2M743 178h2M738 187h2M750 178h2M737 200h2M745 188h2M733 192h2M742 177h2M745 192h2M738 187h2M738 213h2M740 209h2M754 208h2M752 184h2M743 187h2M743 202h2M752 200h2M748 214h2M748 197h2M748 198h2M746 198h2M739 194h2M740 199h2M743 194h2M751 196h2M756 192h2M749 199h2M742 197h2M745 201h2M739 187h2M748 195h2M737 198h2M747 195h2M744 189h2M750 189h2M751 189h2M748 183h2M751 188h2M747 196h2M747 190h2M736 186h2M737 176h2M749 190h2M749 195h2M742 187h2M749 196h2M748 202h2M744 196h2M745 197h2M747 176h2M745 202h2M755 187h2M743 188h2M746 183h2M748 194h2M751 206h2M748 182h2M749 185h2M748 187h2M739 198h2M743 190h2M746 198h2M742 196h2M744 206h2M756 191h2M741 182h2M757 208h2M750 187h2M744 197h2M758 176h2M749 197h2M753 200h2M745 195h2M743 191h2M740 193h2M752 209h2M750 187h2M745 192h2M743 197h2M734 191h2M743 208h2M752 193h2M741 183h2M745 200h2M754 183h2M745 198h2M749 181h2M749 194h2M746 191h2M752 202h2M751 184h2M749 191h2M750 203h2M744 183h2M747 197h2M739 194h2M743 202h2M741 189h2M740 196h2M750 195h2M751 190h2M739 187h2M746 211h2M743 184h2M738 117h2M754 194h2M728 212h2M737 202h2M716 172h2M727 189h2M706 167h2M747 201h2M732 192h2M748 201h2M738 152h2M744 158h2M724 130h2M750 155h2M727 167h2M723 175h2M737 193h2M728 197h2M750 150h2M731 157h2M719 124h2M743 139h2M755 187h2M726 174h2M694 175h2M738 198h2M730 145h2M719 163h2M726 151h2M719 146h2M722 187h2M732 168h2M740 211h2M751 163h2M742 197h2M743 238h2M728 167h2M741 161h2M722 159h2M743 173h2M731 190h2M716 224h2M729 145h2M725 172h2M737 167h2M697 129h2M747 216h2M770 190h2M720 211h2M724 237h2M716 161h2M741 166h2M741 182h2" stroke="#000" stroke-width="1.7" fill="none"/>
<rect x="363.30" y="59.90" width="24.00" height="39.50" fill="none" stroke="#222" stroke-width="1.0"/>
<rect x="343.20" y="100.30" width="40.30" height="25.00" fill="none" stroke="#666" stroke-width="0.7"/>
<text x="393.8" y="72.2" font-size="12" font-weight="normal" font-style="normal" text-anchor="start">17</text>
<clipPath id="c10"><rect x="432.6" y="51.4" width="70.59999999999997" height="74.19999999999999"/></clipPath>
<g clip-path="url(#c10)">
<ellipse cx="464.5" cy="108" rx="3.1" ry="6.2" transform="rotate(3 464.5 108)" fill="#000" opacity="0.46" filter="url(#bl)"/>
<ellipse cx="467.5" cy="83" rx="2.9" ry="11.4" transform="rotate(8 467.5 83)" fill="#000" opacity="0.34" filter="url(#bl)"/>
</g>
<path transform="scale(.5)" d="M928 209h2M917 218h2M931 207h2M927 231h2M924 210h2M921 218h2M921 209h2M924 216h2M933 211h2M920 225h2M928 211h2M924 219h2M933 201h2M933 209h2M930 194h2M939 210h2M924 215h2M932 217h2M924 209h2M922 240h2M925 218h2M923 223h2M929 216h2M930 219h2M927 224h2M934 211h2M926 228h2M920 230h2M932 228h2M922 222h2M930 204h2M932 223h2M925 195h2M931 235h2M925 206h2M923 217h2M922 220h2M931 198h2M933 226h2M934 211h2M925 202h2M929 226h2M929 227h2M935 212h2M935 216h2M937 227h2M923 221h2M931 218h2M922 229h2M932 231h2M930 208h2M924 220h2M932 213h2M929 211h2M932 225h2M931 210h2M930 220h2M926 227h2M927 215h2M925 231h2M939 221h2M930 202h2M922 208h2M928 213h2M923 216h2M929 226h2M926 201h2M929 198h2M920 214h2M928 211h2M931 219h2M927 209h2M933 221h2M935 223h2M931 219h2M924 217h2M930 224h2M930 223h2M931 219h2M928 213h2M932 229h2M922 227h2M935 220h2M923 232h2M934 216h2M933 213h2M929 214h2M932 221h2M929 226h2M927 213h2M921 217h2M932 206h2M933 216h2M932 219h2M923 210h2M928 228h2M925 232h2M921 214h2M925 218h2M929 220h2M932 218h2M924 222h2M931 192h2M927 218h2M931 197h2M931 218h2M925 202h2M924 227h2M939 223h2M927 200h2M922 222h2M926 215h2M931 225h2M924 225h2M933 207h2M929 205h2M934 206h2M927 213h2M935 221h2M928 220h2M931 212h2M933 210h2M926 214h2M931 211h2M925 203h2M931 213h2M935 214h2M931 228h2M931 222h2M927 218h2M939 219h2M920 222h2M921 236h2M937 238h2M919 217h2M933 237h2M923 230h2M921 222h2M934 231h2M929 218h2M930 221h2M928 224h2M934 224h2M925 230h2M926 209h2M932 203h2M929 232h2M932 204h2M930 216h2M926 212h2M934 225h2M929 219h2M928 222h2M925 231h2M933 222h2M923 223h2M932 197h2M926 214h2M923 211h2M934 234h2M934 209h2M924 215h2M930 205h2M929 218h2M928 212h2M936 215h2M931 202h2M932 201h2M931 198h2M930 213h2M929 204h2M933 208h2M922 226h2M930 233h2M926 207h2M929 232h2M935 222h2M933 211h2M927 217h2M927 213h2M928 211h2M924 210h2M922 224h2M927 212h2M923 221h2M926 236h2M921 230h2M931 220h2M928 198h2M927 216h2M923 226h2M924 206h2M927 219h2M925 215h2M937 223h2M931 207h2M935 216h2M935 213h2M923 227h2M924 216h2M933 221h2M921 219h2M938 226h2M923 233h2M931 204h2M938 209h2M933 226h2M932 217h2M934 206h2M930 197h2M933 205h2M938 205h2M925 211h2M935 222h2M930 230h2M922 225h2M931 199h2M924 225h2M923 218h2M928 206h2M925 201h2M928 204h2M926 215h2M930 215h2M923 206h2M925 209h2M927 220h2M928 224h2M925 228h2M927 216h2M928 225h2M919 208h2M926 222h2M931 218h2M937 222h2M935 217h2M933 206h2M935 207h2M933 222h2M924 216h2M929 212h2M925 226h2M924 216h2M930 202h2M932 215h2M927 212h2M926 210h2M922 225h2M933 212h2M923 197h2M921 235h2M924 210h2M928 196h2M926 213h2M931 215h2M932 213h2M923 219h2M930 216h2M921 230h2M931 224h2M929 200h2M922 226h2M942 193h2M935 221h2M930 216h2M933 222h2M935 212h2M930 214h2M924 213h2M925 222h2M928 235h2M930 210h2M935 217h2M927 212h2M935 210h2M928 224h2M938 234h2M929 228h2M930 209h2M927 216h2M932 213h2M928 219h2M929 236h2M933 221h2M938 213h2M937 228h2M938 229h2M926 233h2M932 222h2M927 220h2M934 199h2M929 209h2M932 227h2M934 207h2M935 219h2M930 228h2M933 227h2M931 207h2M927 225h2M923 211h2M926 207h2M928 215h2M923 219h2M924 228h2M931 206h2M931 201h2M931 199h2M930 228h2M921 212h2M932 221h2M926 226h2M932 203h2M937 202h2M926 216h2M921 215h2M930 227h2M922 218h2M931 208h2M921 208h2M929 213h2M932 209h2M927 210h2M927 196h2M925 211h2M927 200h2M925 217h2M935 208h2M928 208h2M930 210h2M936 222h2M933 215h2M928 232h2M929 234h2M931 219h2M927 212h2M928 228h2M926 217h2M919 212h2M923 224h2M936 213h2M937 220h2M932 213h2M930 211h2M933 204h2M928 227h2M931 207h2M929 226h2M928 225h2M936 204h2M928 225h2M927 222h2M936 211h2M931 209h2M935 231h2M917 217h2M920 199h2M929 208h2M927 221h2M930 219h2M935 218h2M923 212h2M928 207h2M926 212h2M932 205h2M932 212h2M926 209h2M934 215h2M926 207h2M930 206h2M926 223h2M935 201h2M929 230h2M934 209h2M930 212h2M925 226h2M932 218h2M933 227h2M930 218h2M932 198h2M928 215h2M916 224h2M930 217h2M927 225h2M933 212h2M920 226h2M936 223h2M934 215h2M928 220h2M929 194h2M920 227h2M923 204h2M932 228h2M927 213h2M924 204h2M922 210h2M931 206h2M921 217h2M930 215h2M933 216h2M935 212h2M927 208h2M930 218h2M926 220h2M932 218h2M923 220h2M923 204h2M928 220h2M929 216h2M931 226h2M926 220h2M930 216h2M937 204h2M931 229h2M940 221h2M929 211h2M921 218h2M935 217h2M926 216h2M930 218h2M937 224h2M937 214h2M934 203h2M926 217h2M925 212h2M928 213h2M934 199h2M941 208h2M931 225h2M935 206h2M937 209h2M933 218h2M931 200h2M934 236h2M929 211h2M933 196h2M932 212h2M930 206h2M925 198h2M923 213h2M924 235h2M921 218h2M924 210h2M931 215h2M935 225h2M930 206h2M924 228h2M928 241h2M938 201h2M929 207h2M930 224h2M925 221h2M924 218h2M932 210h2M930 231h2M928 205h2M931 210h2M927 229h2M929 206h2M935 213h2M933 204h2M932 204h2M928 211h2M924 216h2M924 214h2M927 238h2M928 217h2M928 194h2M932 196h2M931 216h2M929 207h2M939 211h2M929 221h2M928 210h2M937 208h2M927 215h2M922 211h2M925 207h2M933 201h2M928 231h2M935 203h2M932 220h2M941 220h2M923 221h2M936 217h2M932 215h2M927 211h2M930 211h2M929 207h2M930 216h2M933 226h2M930 208h2M932 222h2M924 207h2M932 199h2M928 222h2M928 227h2M933 224h2M922 224h2M923 216h2M925 219h2M926 222h2M929 211h2M924 222h2M937 223h2M928 226h2M934 226h2M925 213h2M922 223h2M926 226h2M923 217h2M927 226h2M926 213h2M931 208h2M931 226h2M930 227h2M929 202h2M921 219h2M934 218h2M922 211h2M927 207h2M924 234h2M932 226h2M929 214h2M926 237h2M929 226h2M922 212h2M920 217h2M920 210h2M932 218h2M924 221h2M934 213h2M931 228h2M932 218h2M936 209h2M927 215h2M931 217h2M932 197h2M923 203h2M928 221h2M928 202h2M934 215h2M935 226h2M935 215h2M922 223h2M926 204h2M927 225h2M932 211h2M937 202h2M929 217h2M929 240h2M930 217h2M926 218h2M928 226h2M922 227h2M939 207h2M918 219h2M925 220h2M923 224h2M933 225h2M924 224h2M932 214h2M925 215h2M931 229h2M922 215h2M926 210h2M920 211h2M934 212h2M937 215h2M930 215h2M923 212h2M929 220h2M931 232h2M931 222h2M936 205h2M919 207h2M931 219h2M919 208h2M933 215h2M931 214h2M930 201h2M925 207h2M930 216h2M934 219h2M919 227h2M923 216h2M921 211h2M921 197h2M922 216h2M924 229h2M925 228h2M925 222h2M931 211h2M930 222h2M935 214h2M931 220h2M924 217h2M920 235h2M938 219h2M932 209h2M922 212h2M931 227h2M922 201h2M934 206h2M930 208h2M933 227h2M923 218h2M930 221h2M937 205h2M925 229h2M935 204h2M929 197h2M932 220h2M929 222h2M928 205h2M927 212h2M934 211h2M921 211h2M923 218h2M930 239h2M931 193h2M938 219h2M933 209h2M932 215h2M930 218h2M918 209h2M930 216h2M938 203h2M925 221h2M926 204h2M922 200h2M924 221h2M927 205h2M931 205h2M923 219h2M933 205h2M930 231h2M923 237h2M928 228h2M923 215h2M926 203h2M930 221h2M927 191h2M928 227h2M932 214h2M925 213h2M929 231h2M932 206h2M934 200h2M930 215h2M924 231h2M932 211h2M933 224h2M927 204h2M934 198h2M921 239h2M926 234h2M930 230h2M922 229h2M922 207h2M932 223h2M923 232h2M925 226h2M935 208h2M920 216h2M928 218h2M923 214h2M928 215h2M931 216h2M935 208h2M928 204h2M927 202h2M924 227h2M934 218h2M924 217h2M933 225h2M936 220h2M932 206h2M928 212h2M929 228h2M927 218h2M928 213h2M932 221h2M930 211h2M928 211h2M924 208h2M926 218h2M922 211h2M938 235h2M925 210h2M940 195h2M932 218h2M925 203h2M923 215h2M933 239h2M923 221h2M926 230h2M919 216h2M932 200h2M933 206h2M922 237h2M922 216h2M931 206h2M926 220h2M935 221h2M930 214h2M931 211h2M939 200h2M927 221h2M930 218h2M926 212h2M925 227h2M932 199h2M930 220h2M920 231h2M941 205h2M924 227h2M926 212h2M926 209h2M931 226h2M928 214h2M931 198h2M926 209h2M934 217h2M933 227h2M931 207h2M936 216h2M926 201h2M930 205h2M918 228h2M925 216h2M928 201h2M922 207h2M923 224h2M925 222h2M927 199h2M926 231h2M926 217h2M930 211h2M929 222h2M934 208h2M935 211h2M920 216h2M925 215h2M931 225h2M928 221h2M919 239h2M931 229h2M935 223h2M924 196h2M926 209h2M929 205h2M933 215h2M930 233h2M940 208h2M923 219h2M924 238h2M921 228h2M923 217h2M928 203h2M930 217h2M928 210h2M917 228h2M928 209h2M925 224h2M927 224h2M919 220h2M927 211h2M935 205h2M936 213h2M928 219h2M924 221h2M928 216h2M929 214h2M923 221h2M931 211h2M932 207h2M930 209h2M925 206h2M933 220h2M941 204h2M927 211h2M933 218h2M923 222h2M924 201h2M927 214h2M933 217h2M924 206h2M924 196h2M936 204h2M929 216h2M927 222h2M932 218h2M929 231h2M921 206h2M924 216h2M924 232h2M917 236h2M924 232h2M928 207h2M923 207h2M928 218h2M916 234h2M931 221h2M933 211h2M931 221h2M921 202h2M921 220h2M934 234h2M934 215h2M921 223h2M933 213h2M925 211h2M930 218h2M930 212h2M919 235h2M935 232h2M927 213h2M938 206h2M939 222h2M919 206h2M918 205h2M927 222h2M926 229h2M926 211h2M940 241h2M930 239h2M929 208h2M919 222h2M928 205h2M927 205h2M936 223h2M921 221h2M929 215h2M940 208h2M923 211h2M931 216h2M935 201h2M937 204h2M931 214h2M928 228h2M921 228h2M927 209h2M918 217h2M927 220h2M924 229h2M929 241h2M930 210h2M923 225h2M926 217h2M923 237h2M929 210h2M924 215h2M928 216h2M929 230h2M923 210h2M931 228h2M928 226h2M930 212h2M921 218h2M925 205h2M924 238h2M931 205h2M928 215h2M923 225h2M926 218h2M922 218h2M926 222h2M931 205h2M936 229h2M934 222h2M921 232h2M929 207h2M927 210h2M926 227h2M930 199h2M922 229h2M932 215h2M926 220h2M932 204h2M931 223h2M934 204h2M926 216h2M923 209h2M927 226h2M925 204h2M930 220h2M925 223h2M936 214h2M930 237h2M928 210h2M926 233h2M931 215h2M925 210h2M939 199h2M937 212h2M928 204h2M927 219h2M931 205h2M936 194h2M926 232h2M929 218h2M928 208h2M938 222h2M934 214h2M934 227h2M927 227h2M935 215h2M928 215h2M927 233h2M929 217h2M929 213h2M927 237h2M934 223h2M940 220h2M929 227h2M922 214h2M926 208h2M932 212h2M932 213h2M928 218h2M936 207h2M925 200h2M931 237h2M922 204h2M922 214h2M936 204h2M924 221h2M928 222h2M928 214h2M929 220h2M932 216h2M927 224h2M933 211h2M930 227h2M927 204h2M920 222h2M930 207h2M937 206h2M932 201h2M926 225h2M922 218h2M927 212h2M929 233h2M930 220h2M923 219h2M935 206h2M930 228h2M927 200h2M933 210h2M933 205h2M927 212h2M930 225h2M935 228h2M924 213h2M921 212h2M935 218h2M938 226h2M925 213h2M932 227h2M926 236h2M932 203h2M920 207h2M921 208h2M933 216h2M930 218h2M933 211h2M931 213h2M930 221h2M929 214h2M926 217h2M930 200h2M929 220h2M930 211h2M935 208h2M935 215h2M923 246h2M926 245h2M926 237h2M926 237h2M931 248h2M925 238h2M928 237h2M924 236h2M926 236h2M930 238h2M926 245h2M933 226h2M927 243h2M928 240h2M928 245h2M932 238h2M925 245h2M930 249h2M924 224h2M928 244h2M931 235h2M927 234h2M928 233h2M924 240h2M928 229h2M929 248h2M926 237h2M927 239h2M926 234h2M925 245h2M927 232h2M926 233h2M930 236h2M927 238h2M926 241h2M932 237h2M928 240h2M931 236h2M922 236h2M928 241h2M932 242h2M934 229h2M924 237h2M928 238h2M924 235h2M931 240h2M933 245h2M924 234h2M923 232h2M928 237h2M927 232h2M927 243h2M930 234h2M925 241h2M927 245h2M924 241h2M929 240h2M927 244h2M926 242h2M926 249h2M927 242h2M930 235h2M925 237h2M925 230h2M931 243h2M927 234h2M931 238h2M924 249h2M928 235h2M928 233h2M930 235h2M932 241h2M926 232h2M928 239h2M930 234h2M928 236h2M927 247h2M926 235h2M926 244h2M924 249h2M929 247h2M930 238h2M926 243h2M928 243h2M928 237h2M929 226h2M925 230h2M930 234h2M929 248h2M934 234h2M933 245h2M928 234h2M930 243h2M928 240h2M928 245h2M935 232h2M927 244h2M929 245h2M926 234h2M927 230h2M930 246h2M925 230h2M928 239h2M925 231h2M928 238h2M926 228h2M929 224h2M923 242h2M931 238h2M926 232h2M926 229h2M923 234h2M921 237h2M931 241h2M928 247h2M929 235h2M928 230h2M929 247h2M930 235h2M928 237h2M928 249h2M926 236h2M931 242h2M925 238h2M928 236h2M928 244h2M922 232h2M925 243h2M929 235h2M923 243h2M930 231h2M925 233h2M927 228h2M927 237h2M928 235h2M929 235h2M926 229h2M932 238h2M927 237h2M925 247h2M927 242h2M932 227h2M928 230h2M925 239h2M932 242h2M927 233h2M933 245h2M923 231h2M928 245h2M931 244h2M926 238h2M927 243h2M931 231h2M927 231h2M927 246h2M927 227h2M929 239h2M930 238h2M923 245h2M929 235h2M927 238h2M926 243h2M928 237h2M926 233h2M926 238h2M922 235h2M926 239h2M926 241h2M926 235h2M928 239h2M926 235h2M935 179h2M940 161h2M939 146h2M943 150h2M944 141h2M933 195h2M936 179h2M937 186h2M929 170h2M941 163h2M935 162h2M922 186h2M936 183h2M949 141h2M935 147h2M933 165h2M931 188h2M931 188h2M942 138h2M929 150h2M939 149h2M931 151h2M928 190h2M938 160h2M938 154h2M923 198h2M941 138h2M926 174h2M940 151h2M932 165h2M928 162h2M932 169h2M936 160h2M937 169h2M924 190h2M931 138h2M933 167h2M937 153h2M934 158h2M939 169h2M924 184h2M926 173h2M934 141h2M935 179h2M931 152h2M926 193h2M942 188h2M927 200h2M937 168h2M942 169h2M942 166h2M940 166h2M945 155h2M939 201h2M930 181h2M933 167h2M942 147h2M942 166h2M936 152h2M924 191h2M942 152h2M924 194h2M941 165h2M933 194h2M932 175h2M940 148h2M944 162h2M929 179h2M937 178h2M933 144h2M944 157h2M931 171h2M923 197h2M933 159h2M931 180h2M934 197h2M936 158h2M940 170h2M934 175h2M937 163h2M941 141h2M931 189h2M931 182h2M935 172h2M941 149h2M924 201h2M941 126h2M939 167h2M938 181h2M934 190h2M938 133h2M938 157h2M937 179h2M930 182h2M934 182h2M932 159h2M933 153h2M930 184h2M930 172h2M934 173h2M933 170h2M927 176h2M937 149h2M934 174h2M937 170h2M935 147h2M939 147h2M936 163h2M940 159h2M939 175h2M931 178h2M935 163h2M931 154h2M936 161h2M934 173h2M937 178h2M928 163h2M938 179h2M944 153h2M943 163h2M936 187h2M937 148h2M941 162h2M936 151h2M925 194h2M930 132h2M935 178h2M934 150h2M939 146h2M939 149h2M943 163h2M940 182h2M941 163h2M944 168h2M940 151h2M924 195h2M925 174h2M931 191h2M937 160h2M939 151h2M936 177h2M941 163h2M931 144h2M929 173h2M922 186h2M942 157h2M942 141h2M925 181h2M940 169h2M925 162h2M925 171h2M926 158h2M933 154h2M934 145h2M927 189h2M931 153h2M930 150h2M926 183h2M934 135h2M935 177h2M942 144h2M938 128h2M939 130h2M936 152h2M934 181h2M938 186h2M926 195h2M933 196h2M945 157h2M932 172h2M934 137h2M939 131h2M941 169h2M939 159h2M932 156h2M945 173h2M933 174h2M927 161h2M930 154h2M945 153h2M937 163h2M924 201h2M935 169h2M939 177h2M933 191h2M931 171h2M939 175h2M938 161h2M930 143h2M931 183h2M925 177h2M943 157h2M931 190h2M934 174h2M923 192h2M937 174h2M928 172h2M930 158h2M925 179h2M942 139h2M936 189h2M936 172h2M933 192h2M927 183h2M929 150h2M938 156h2M941 167h2M930 158h2M929 184h2M926 196h2M927 180h2M931 193h2M932 182h2M942 165h2M929 196h2M936 161h2M939 167h2M933 143h2M936 153h2M940 166h2M932 160h2M939 159h2M933 163h2M940 144h2M925 176h2M936 199h2M944 145h2M947 154h2M942 167h2M935 147h2M922 194h2M931 172h2M928 201h2M936 166h2M930 162h2M936 160h2M933 160h2M927 196h2M940 183h2M939 180h2M943 128h2M935 185h2M929 188h2M933 143h2M932 166h2M936 168h2M929 196h2M934 170h2M931 162h2M930 178h2M937 198h2M929 166h2M936 171h2M941 144h2M937 153h2M936 153h2M945 163h2M941 161h2M939 167h2M931 168h2M935 170h2M942 151h2M942 154h2M934 167h2M934 180h2M947 137h2M937 132h2M923 202h2M926 183h2M932 155h2M927 158h2M935 180h2M939 164h2M941 170h2M935 158h2M926 168h2M932 163h2M939 148h2M923 194h2M931 174h2M930 179h2M934 193h2M934 162h2M943 154h2M933 178h2M938 163h2M941 168h2M932 153h2M936 170h2M935 160h2M931 178h2M933 169h2M941 165h2M936 163h2M934 152h2M926 185h2M938 154h2M931 156h2M930 160h2M930 154h2M928 154h2M928 164h2M939 169h2M941 150h2M932 173h2M936 174h2M933 168h2M938 157h2M930 174h2M930 157h2M937 167h2M933 166h2M937 153h2M937 200h2M932 193h2M933 170h2M936 165h2M927 173h2M930 189h2M941 151h2M939 126h2M929 173h2M939 138h2M935 202h2M934 152h2M933 183h2M940 121h2M937 177h2M931 154h2M932 182h2M937 174h2M938 176h2M942 145h2M934 165h2M930 191h2M934 147h2M940 173h2M941 168h2M930 170h2M932 173h2M940 167h2M940 171h2M935 180h2M928 179h2M936 165h2M939 170h2M932 140h2M932 155h2M939 163h2M933 190h2M941 124h2M938 138h2M926 174h2M937 163h2M930 163h2M940 163h2M933 174h2M927 189h2M942 158h2M938 151h2M937 186h2M935 150h2M942 153h2M937 143h2M929 166h2M932 163h2M936 172h2M937 189h2M934 142h2M927 179h2M936 186h2M934 177h2M935 178h2M930 188h2M940 140h2M936 140h2M944 165h2M934 164h2M933 158h2M932 169h2M934 187h2M940 158h2M932 162h2M933 141h2M932 158h2M938 158h2M940 177h2M940 162h2M936 148h2M941 146h2M933 160h2M936 173h2M934 186h2M932 180h2M934 152h2M938 167h2M940 129h2M930 190h2M945 158h2M940 155h2M930 179h2M945 144h2M929 182h2M942 159h2M931 163h2M934 183h2M936 164h2M937 146h2M934 152h2M941 147h2M938 176h2M943 132h2M935 168h2M931 150h2M943 149h2M941 137h2M932 158h2M945 140h2M943 157h2M928 174h2M930 157h2M934 158h2M945 140h2M933 155h2M932 143h2M937 164h2M940 138h2M936 158h2M944 134h2M940 137h2M929 186h2M935 162h2M940 150h2M940 162h2M936 150h2M928 154h2M940 153h2M935 168h2M937 166h2M928 193h2M937 181h2M935 158h2M932 200h2M943 152h2M930 143h2M945 148h2M939 150h2M929 182h2M930 146h2M930 168h2M937 147h2M933 160h2M934 155h2M942 136h2M925 190h2M930 198h2M935 166h2M928 163h2M934 188h2M943 155h2M938 164h2M928 194h2M929 187h2M933 162h2M934 170h2M936 179h2M932 158h2M937 199h2M927 174h2M928 152h2M938 164h2M934 156h2M922 197h2M937 139h2M931 164h2M938 153h2M928 193h2M922 202h2M937 154h2M940 146h2M926 204h2M939 180h2M947 144h2M933 169h2M939 157h2M934 164h2M927 192h2M938 179h2M939 149h2M941 163h2M931 158h2M939 141h2M934 169h2M940 179h2M937 147h2M928 188h2M939 137h2M936 146h2M941 153h2M935 189h2M944 150h2M937 162h2M937 158h2M934 161h2M950 134h2M943 168h2M932 169h2M928 193h2M932 200h2M933 157h2M933 146h2M937 171h2M942 154h2M936 177h2M933 169h2M927 173h2M939 181h2M943 165h2M944 140h2M937 183h2M938 163h2M921 194h2M941 167h2M936 153h2M932 181h2M929 169h2M932 131h2M939 160h2M936 158h2M933 126h2M939 168h2M941 148h2M936 186h2M941 147h2M927 163h2M946 140h2M932 165h2M943 190h2M929 140h2M930 170h2M946 145h2M932 154h2M933 165h2M930 188h2M936 173h2M937 183h2M933 205h2M930 158h2M946 143h2M940 130h2M935 185h2M937 165h2M929 190h2M940 173h2M928 146h2M935 191h2M925 164h2M931 197h2M934 186h2M935 144h2M933 160h2M931 185h2M936 175h2M940 184h2M928 198h2M927 178h2M936 194h2M932 199h2M931 174h2M934 199h2M930 181h2M928 175h2M932 202h2M925 205h2M933 189h2M934 172h2M934 200h2M926 187h2M934 202h2M934 189h2M930 180h2M935 205h2M927 192h2M936 202h2M929 188h2M937 186h2M931 193h2M927 199h2M937 199h2M936 175h2M932 205h2M940 191h2M932 188h2M925 189h2M934 211h2M938 185h2M931 176h2M938 187h2M931 208h2M921 203h2M937 174h2M929 200h2M935 183h2M926 208h2M932 188h2M930 196h2M937 181h2M935 196h2M935 195h2M936 216h2M938 199h2M928 196h2M920 205h2M925 185h2M931 186h2M933 203h2M933 189h2M932 207h2M932 205h2M939 203h2M931 184h2M924 194h2M929 179h2M926 187h2M938 171h2M930 182h2M931 191h2M934 184h2M932 195h2M927 202h2M930 203h2M930 198h2M927 209h2M922 203h2M933 171h2M938 200h2M931 201h2M930 199h2M937 179h2M938 184h2M928 183h2M936 188h2M928 178h2M937 201h2M939 183h2M937 191h2M935 187h2M938 197h2M927 193h2M924 188h2M931 182h2M931 203h2M944 173h2M940 189h2M929 195h2M934 178h2M942 199h2M938 198h2M925 173h2M929 197h2M931 187h2M938 188h2M940 193h2M922 186h2M943 196h2M940 203h2M939 209h2M930 201h2M930 188h2M935 193h2M935 172h2M934 185h2M926 194h2M938 183h2M939 184h2M939 200h2M934 192h2M924 197h2M929 190h2M930 189h2M936 184h2M923 207h2M926 192h2M937 198h2M937 201h2M927 181h2M935 196h2M932 198h2M923 202h2M929 186h2M929 210h2M928 199h2M939 175h2M931 190h2M926 186h2M931 189h2M929 184h2M936 186h2M931 186h2M934 186h2M933 207h2M927 199h2M931 183h2M933 169h2M929 193h2M925 207h2M933 203h2M941 205h2M934 196h2M922 186h2M929 201h2M929 200h2M921 207h2M928 197h2M925 206h2M922 191h2M937 188h2M934 182h2M937 190h2M935 197h2M938 195h2M930 195h2M929 179h2M935 192h2M926 183h2M935 197h2M927 203h2M936 190h2M923 212h2M928 210h2M930 189h2M933 201h2M931 190h2M944 174h2M930 194h2M934 194h2M933 199h2M937 205h2M937 202h2M937 188h2M929 213h2M927 190h2M929 202h2M933 205h2M939 176h2M935 188h2M932 202h2M930 175h2M932 198h2M930 185h2M932 195h2M939 188h2M942 200h2M929 175h2M931 188h2M932 194h2M933 186h2M931 195h2M933 206h2M942 203h2M938 173h2M927 175h2M931 179h2M927 194h2M932 203h2M939 191h2M932 199h2M932 182h2M937 199h2M927 168h2M934 192h2M929 198h2M932 178h2M939 187h2M937 186h2M934 188h2M933 195h2M934 176h2M932 214h2M935 191h2M932 174h2M930 180h2M935 193h2M933 194h2M940 201h2M927 191h2M930 190h2M930 173h2M941 181h2M933 204h2M921 192h2M934 210h2M934 195h2M929 187h2M934 199h2M937 193h2M937 177h2M932 182h2M933 184h2M935 184h2M933 191h2M932 196h2M937 191h2M929 208h2M940 186h2M933 182h2M935 179h2M927 183h2M930 186h2M934 193h2M940 192h2M933 195h2M935 187h2M921 184h2M935 192h2M932 185h2M935 200h2M934 188h2M901 213h2M875 221h2M910 238h2M894 223h2M894 230h2M899 229h2M922 230h2M907 225h2M914 221h2M894 242h2M887 232h2M894 225h2M900 231h2M909 220h2M874 221h2M918 223h2M920 222h2M921 230h2M905 211h2M891 215h2M904 207h2M903 216h2M877 220h2M896 232h2M907 214h2M887 243h2M892 218h2M914 233h2M905 216h2M907 231h2M888 229h2M886 206h2M907 215h2M887 229h2M896 225h2M918 228h2M888 214h2M872 221h2M888 218h2M885 234h2M929 234h2M902 231h2M877 222h2M909 217h2M922 221h2M876 228h2M889 218h2M923 235h2M890 232h2M888 222h2M896 226h2M907 220h2M925 234h2M884 228h2M888 212h2M877 207h2M911 236h2M892 222h2M907 229h2M894 221h2M888 228h2M900 210h2M897 221h2M912 241h2M881 229h2M891 232h2M884 228h2M878 228h2M912 233h2M915 227h2M906 223h2M882 219h2M877 204h2M881 238h2M893 239h2M892 230h2M916 232h2M905 224h2M922 160h2M951 181h2M936 192h2M905 155h2M914 222h2M931 204h2M935 171h2M913 211h2M921 188h2M894 164h2M911 142h2M922 214h2M910 192h2M921 213h2M942 147h2M920 184h2M945 220h2M893 211h2M927 192h2M906 224h2M939 144h2M931 249h2M927 218h2M917 195h2M904 190h2M926 179h2M929 171h2M907 220h2M912 222h2M910 234h2M931 244h2M896 193h2M898 169h2M922 161h2M914 172h2M938 197h2M899 180h2M904 168h2M944 201h2" stroke="#000" stroke-width="1.7" fill="none"/>
<rect x="455.30" y="59.90" width="23.40" height="39.50" fill="none" stroke="#222" stroke-width="0.9"/>
<rect x="434.50" y="100.30" width="40.40" height="25.00" fill="none" stroke="#555" stroke-width="0.7"/>
<text x="483.6" y="72.2" font-size="12" font-weight="normal" font-style="normal" text-anchor="start">23</text>
<text x="330.3" y="87.4" font-size="12.5" font-weight="bold" font-style="normal" text-anchor="middle" transform="rotate(-90 330.3 87.4)" stroke="#000" stroke-width="0.2">IgM</text>
<text x="375.5" y="142" font-size="12.5" font-weight="bold" font-style="normal" text-anchor="middle" stroke="#000" stroke-width="0.2">B220</text>
<text x="467.3" y="142" font-size="12.5" font-weight="bold" font-style="normal" text-anchor="middle" stroke="#000" stroke-width="0.2">B220</text>
<path d="M340.7 160.7H411.5" fill="none" stroke="#666" stroke-width="0.9"/>
<path d="M411.5 160.7V234.6" fill="none" stroke="#aaa" stroke-width="0.9"/>
<path d="M340.7 160.7V234.6" fill="none" stroke="#444" stroke-width="0.9"/>
<path d="M340.7 234.6H411.5" fill="none" stroke="#555" stroke-width="0.9"/>
<line x1="358.40" y1="234.60" x2="358.40" y2="236.40" stroke="#444" stroke-width="0.8"/>
<line x1="338.90" y1="179.17" x2="340.70" y2="179.17" stroke="#444" stroke-width="0.8"/>
<line x1="376.10" y1="234.60" x2="376.10" y2="236.40" stroke="#444" stroke-width="0.8"/>
<line x1="338.90" y1="197.65" x2="340.70" y2="197.65" stroke="#444" stroke-width="0.8"/>
<line x1="393.80" y1="234.60" x2="393.80" y2="236.40" stroke="#444" stroke-width="0.8"/>
<line x1="338.90" y1="216.12" x2="340.70" y2="216.12" stroke="#444" stroke-width="0.8"/>
<path d="M432.6 160.7H503.2" fill="none" stroke="#777" stroke-width="0.9"/>
<path d="M503.2 160.7V234.6" fill="none" stroke="#999" stroke-width="0.9"/>
<path d="M432.6 160.7V234.6" fill="none" stroke="#555" stroke-width="0.9"/>
<path d="M432.6 234.6H503.2" fill="none" stroke="#555" stroke-width="0.9"/>
<line x1="450.25" y1="234.60" x2="450.25" y2="236.40" stroke="#444" stroke-width="0.8"/>
<line x1="430.80" y1="179.17" x2="432.60" y2="179.17" stroke="#444" stroke-width="0.8"/>
<line x1="467.90" y1="234.60" x2="467.90" y2="236.40" stroke="#444" stroke-width="0.8"/>
<line x1="430.80" y1="197.65" x2="432.60" y2="197.65" stroke="#444" stroke-width="0.8"/>
<line x1="485.55" y1="234.60" x2="485.55" y2="236.40" stroke="#444" stroke-width="0.8"/>
<line x1="430.80" y1="216.12" x2="432.60" y2="216.12" stroke="#444" stroke-width="0.8"/>
<clipPath id="c11"><rect x="340.7" y="160.7" width="70.80000000000001" height="73.9"/></clipPath>
<g clip-path="url(#c11)">
<ellipse cx="372.5" cy="222.5" rx="3.7" ry="6.2" transform="rotate(0 372.5 222.5)" fill="#000" opacity="0.48" filter="url(#bl)"/>
</g>
<path transform="scale(.5)" d="M750 442h2M739 451h2M739 439h2M740 445h2M743 462h2M731 444h2M750 433h2M744 446h2M742 441h2M756 435h2M746 444h2M744 435h2M748 435h2M749 457h2M753 429h2M744 427h2M742 437h2M749 441h2M750 451h2M739 456h2M752 449h2M740 451h2M743 451h2M736 436h2M754 450h2M741 430h2M743 442h2M744 431h2M760 445h2M756 465h2M752 459h2M743 441h2M738 431h2M746 445h2M752 438h2M744 452h2M743 455h2M747 451h2M741 450h2M743 460h2M753 441h2M745 460h2M746 455h2M739 430h2M738 431h2M738 447h2M742 451h2M736 434h2M735 449h2M740 460h2M755 442h2M751 429h2M737 454h2M744 439h2M755 451h2M745 440h2M753 440h2M746 432h2M744 439h2M749 451h2M747 447h2M752 441h2M743 460h2M747 447h2M741 454h2M739 422h2M740 437h2M751 443h2M741 440h2M752 451h2M743 429h2M750 454h2M749 443h2M746 446h2M746 439h2M745 429h2M744 449h2M743 440h2M738 452h2M742 445h2M736 436h2M739 447h2M741 428h2M754 448h2M749 434h2M744 458h2M733 446h2M746 431h2M754 426h2M741 435h2M744 458h2M735 450h2M749 433h2M759 443h2M740 449h2M739 436h2M750 436h2M749 455h2M738 421h2M739 452h2M742 457h2M734 459h2M744 455h2M747 454h2M739 430h2M748 446h2M735 446h2M748 457h2M750 450h2M735 434h2M741 426h2M741 444h2M751 443h2M741 447h2M739 435h2M743 443h2M754 447h2M741 456h2M750 449h2M741 452h2M747 451h2M746 440h2M746 446h2M748 449h2M734 439h2M749 438h2M746 459h2M757 461h2M749 454h2M748 466h2M745 427h2M740 435h2M733 446h2M738 452h2M753 428h2M751 457h2M738 429h2M757 445h2M746 451h2M744 434h2M746 465h2M744 459h2M744 446h2M742 432h2M755 434h2M748 426h2M744 443h2M744 441h2M747 427h2M750 443h2M745 437h2M742 444h2M750 455h2M745 444h2M748 445h2M743 455h2M751 446h2M747 427h2M750 433h2M754 442h2M751 423h2M744 447h2M738 439h2M744 440h2M734 439h2M748 449h2M738 463h2M740 444h2M745 441h2M747 430h2M751 466h2M733 455h2M744 440h2M747 443h2M749 457h2M745 434h2M737 437h2M742 446h2M740 430h2M746 454h2M743 440h2M751 445h2M748 453h2M743 430h2M740 458h2M752 446h2M743 448h2M740 428h2M746 446h2M753 445h2M750 458h2M733 425h2M743 440h2M758 443h2M752 430h2M740 446h2M752 434h2M742 463h2M753 452h2M744 449h2M742 427h2M752 458h2M733 436h2M743 447h2M756 445h2M745 435h2M747 451h2M740 453h2M745 446h2M741 459h2M735 437h2M757 434h2M746 446h2M738 448h2M745 431h2M748 453h2M743 452h2M746 466h2M750 445h2M736 455h2M749 438h2M736 441h2M747 456h2M754 447h2M742 454h2M750 446h2M744 449h2M752 465h2M749 439h2M740 440h2M746 426h2M748 449h2M739 457h2M747 448h2M746 450h2M755 443h2M755 442h2M748 449h2M750 423h2M740 454h2M747 450h2M741 449h2M743 451h2M730 430h2M752 449h2M741 455h2M744 436h2M748 455h2M742 447h2M754 443h2M744 446h2M746 450h2M744 452h2M748 462h2M736 446h2M742 441h2M739 444h2M744 449h2M752 434h2M748 444h2M750 447h2M737 424h2M747 432h2M749 464h2M744 467h2M743 447h2M740 454h2M747 443h2M742 438h2M747 430h2M745 428h2M747 438h2M757 462h2M748 441h2M739 440h2M745 441h2M755 438h2M752 444h2M749 431h2M744 440h2M753 452h2M746 426h2M744 443h2M742 451h2M743 447h2M752 460h2M740 429h2M748 445h2M748 435h2M749 443h2M743 436h2M736 422h2M744 456h2M746 466h2M742 459h2M749 446h2M752 424h2M745 437h2M743 447h2M748 430h2M733 456h2M748 440h2M743 448h2M747 456h2M737 437h2M742 439h2M751 458h2M754 457h2M743 440h2M733 444h2M731 445h2M743 440h2M753 450h2M748 459h2M754 440h2M732 451h2M752 455h2M736 446h2M732 449h2M750 443h2M749 447h2M747 441h2M744 446h2M745 438h2M742 441h2M753 437h2M751 457h2M740 433h2M746 440h2M757 446h2M754 441h2M737 447h2M750 453h2M738 461h2M754 467h2M738 442h2M756 443h2M745 434h2M733 449h2M741 453h2M751 453h2M744 449h2M750 453h2M749 456h2M738 459h2M733 450h2M740 438h2M733 445h2M750 440h2M743 429h2M748 443h2M741 437h2M742 444h2M731 439h2M751 444h2M752 439h2M741 467h2M746 466h2M750 439h2M748 445h2M747 452h2M731 453h2M738 447h2M744 467h2M749 443h2M742 442h2M747 461h2M745 460h2M738 442h2M736 438h2M753 446h2M752 435h2M744 433h2M737 444h2M732 455h2M759 432h2M739 442h2M742 453h2M740 463h2M755 445h2M752 445h2M746 447h2M747 455h2M752 434h2M741 433h2M743 435h2M744 439h2M744 434h2M745 440h2M749 445h2M738 436h2M747 441h2M744 440h2M740 461h2M758 452h2M749 448h2M730 437h2M733 453h2M747 440h2M751 453h2M748 436h2M745 436h2M746 446h2M751 455h2M740 461h2M741 441h2M748 448h2M754 454h2M737 425h2M740 452h2M745 436h2M745 467h2M745 431h2M734 447h2M752 433h2M753 452h2M754 441h2M740 428h2M737 453h2M747 439h2M750 443h2M740 446h2M739 446h2M746 458h2M739 448h2M752 454h2M741 432h2M747 438h2M745 444h2M752 433h2M743 460h2M742 431h2M740 448h2M750 448h2M737 448h2M745 452h2M742 448h2M740 447h2M749 444h2M755 448h2M744 448h2M740 440h2M746 451h2M748 432h2M747 453h2M742 439h2M744 437h2M748 457h2M747 445h2M738 439h2M742 424h2M753 452h2M743 452h2M746 439h2M751 423h2M755 449h2M747 446h2M740 439h2M749 441h2M746 453h2M744 467h2M731 445h2M740 431h2M738 432h2M745 444h2M741 449h2M745 456h2M738 444h2M754 466h2M740 422h2M745 435h2M746 439h2M743 453h2M754 441h2M740 456h2M739 451h2M744 435h2M753 451h2M744 453h2M744 444h2M749 442h2M739 450h2M736 456h2M751 440h2M755 443h2M757 434h2M746 440h2M744 444h2M746 433h2M738 458h2M740 453h2M746 451h2M741 437h2M742 467h2M752 438h2M753 451h2M742 438h2M750 437h2M735 447h2M742 434h2M738 435h2M744 440h2M741 437h2M735 461h2M749 445h2M750 457h2M741 448h2M748 445h2M735 433h2M739 449h2M757 456h2M742 442h2M738 436h2M735 457h2M749 462h2M751 442h2M749 433h2M739 446h2M749 441h2M743 439h2M754 444h2M747 450h2M744 440h2M730 425h2M746 439h2M744 449h2M747 446h2M743 447h2M736 446h2M742 443h2M742 453h2M739 448h2M748 447h2M758 440h2M739 429h2M748 454h2M757 449h2M756 434h2M746 453h2M741 463h2M740 447h2M751 453h2M750 434h2M743 451h2M737 427h2M748 457h2M740 453h2M737 433h2M731 439h2M749 453h2M743 439h2M747 442h2M746 428h2M735 424h2M753 442h2M749 459h2M739 448h2M745 443h2M742 442h2M743 463h2M736 459h2M743 431h2M746 441h2M752 437h2M740 434h2M747 456h2M750 457h2M744 439h2M744 448h2M736 450h2M736 442h2M743 424h2M735 438h2M736 446h2M751 455h2M744 443h2M747 453h2M754 453h2M747 428h2M746 436h2M739 448h2M752 461h2M739 429h2M746 449h2M743 453h2M741 439h2M745 421h2M750 450h2M751 431h2M744 428h2M737 452h2M739 441h2M748 439h2M745 437h2M742 449h2M751 440h2M744 438h2M743 462h2M735 443h2M744 447h2M745 460h2M742 459h2M740 454h2M754 439h2M740 452h2M750 445h2M744 432h2M757 440h2M741 466h2M740 452h2M746 432h2M744 459h2M748 441h2M740 447h2M740 448h2M750 442h2M751 452h2M743 447h2M754 465h2M746 457h2M746 441h2M743 457h2M737 452h2M747 455h2M742 453h2M746 452h2M748 437h2M738 454h2M747 435h2M738 435h2M745 441h2M743 467h2M736 461h2M742 433h2M747 449h2M751 436h2M734 454h2M745 434h2M739 448h2M740 451h2M749 424h2M750 443h2M748 449h2M744 425h2M748 431h2M740 458h2M751 452h2M749 450h2M750 449h2M756 442h2M740 446h2M750 428h2M752 448h2M753 428h2M752 425h2M743 436h2M750 462h2M735 435h2M752 450h2M750 422h2M741 438h2M747 422h2M743 438h2M750 462h2M740 424h2M743 444h2M738 453h2M752 421h2M735 432h2M742 440h2M740 449h2M747 453h2M747 447h2M753 465h2M753 440h2M741 440h2M747 422h2M750 447h2M746 440h2M739 459h2M744 449h2M739 448h2M749 435h2M745 453h2M751 460h2M742 431h2M754 443h2M753 441h2M750 459h2M739 446h2M744 447h2M755 449h2M748 457h2M752 449h2M749 451h2M749 453h2M751 457h2M745 461h2M745 448h2M748 460h2M745 436h2M746 428h2M743 450h2M747 449h2M747 426h2M743 451h2M748 437h2M754 451h2M750 438h2M751 449h2M757 445h2M742 441h2M760 443h2M739 426h2M743 437h2M746 453h2M745 464h2M752 456h2M752 449h2M752 448h2M747 443h2M742 447h2M740 454h2M756 435h2M756 444h2M752 448h2M749 435h2M744 440h2M744 444h2M740 441h2M738 453h2M751 422h2M749 448h2M741 455h2M739 451h2M744 451h2M743 451h2M747 460h2M754 455h2M741 442h2M759 432h2M747 442h2M755 441h2M753 431h2M741 437h2M739 441h2M736 449h2M738 457h2M749 456h2M735 463h2M732 431h2M734 445h2M734 442h2M741 431h2M748 442h2M750 437h2M739 440h2M756 436h2M741 452h2M739 442h2M744 434h2M741 449h2M734 450h2M751 442h2M739 449h2M753 443h2M748 455h2M755 457h2M740 432h2M746 457h2M743 447h2M744 445h2M739 447h2M751 438h2M752 429h2M737 438h2M751 456h2M746 455h2M754 449h2M746 441h2M745 441h2M748 446h2M742 456h2M739 448h2M742 440h2M753 446h2M755 451h2M739 451h2M744 451h2M754 437h2M741 442h2M742 454h2M743 446h2M740 447h2M739 434h2M733 447h2M738 450h2M744 438h2M746 434h2M747 427h2M741 444h2M741 447h2M739 444h2M735 462h2M744 425h2M742 440h2M734 461h2M746 446h2M740 449h2M748 441h2M731 456h2M746 439h2M749 441h2M743 446h2M749 455h2M757 452h2M740 424h2M748 428h2M737 427h2M748 458h2M743 427h2M736 427h2M757 438h2M736 466h2M750 445h2M735 432h2M744 444h2M739 444h2M738 445h2M738 467h2M746 434h2M747 430h2M738 460h2M744 450h2M737 451h2M756 451h2M742 438h2M738 445h2M742 433h2M738 432h2M735 443h2M731 453h2M750 456h2M740 441h2M743 441h2M744 435h2M745 454h2M755 457h2M747 457h2M744 453h2M741 434h2M738 448h2M737 445h2M745 466h2M744 440h2M750 464h2M741 449h2M743 438h2M748 448h2M744 431h2M746 450h2M734 446h2M745 457h2M749 431h2M750 432h2M740 427h2M739 420h2M739 433h2M744 443h2M744 441h2M745 441h2M750 448h2M747 463h2M746 454h2M743 423h2M741 444h2M742 438h2M744 452h2M741 453h2M745 439h2M753 444h2M751 439h2M738 440h2M747 452h2M737 434h2M744 451h2M745 426h2M746 463h2M744 452h2M748 443h2M744 433h2M737 452h2M750 449h2M743 449h2M743 435h2M749 441h2M749 421h2M739 438h2M753 465h2M752 440h2M750 467h2M737 437h2M750 455h2M741 449h2M747 428h2M750 447h2M749 454h2M742 438h2M738 442h2M746 452h2M745 440h2M742 436h2M740 445h2M742 434h2M739 459h2M750 439h2M752 454h2M749 445h2M743 451h2M732 459h2M748 436h2M752 449h2M748 436h2M739 459h2M747 457h2M745 443h2M734 463h2M738 435h2M733 437h2M753 447h2M735 425h2M749 453h2M742 447h2M741 456h2M742 450h2M738 458h2M741 444h2M747 449h2M745 443h2M750 462h2M745 447h2M751 466h2M740 439h2M741 447h2M745 456h2M753 428h2M749 433h2M743 428h2M747 453h2M746 448h2M737 444h2M745 445h2M752 435h2M750 448h2M746 449h2M746 432h2M756 464h2M746 450h2M739 434h2M753 450h2M757 445h2M744 442h2M743 441h2M746 460h2M741 436h2M746 449h2M745 444h2M742 463h2M743 454h2M746 449h2M734 430h2M746 448h2M747 437h2M756 448h2M733 444h2M748 445h2M746 446h2M748 445h2M752 455h2M747 442h2M740 448h2M743 450h2M754 440h2M746 444h2M749 435h2M751 465h2M738 450h2M748 459h2M757 447h2M748 448h2M743 457h2M737 453h2M740 440h2M743 452h2M748 430h2M737 455h2M752 438h2M752 441h2M739 439h2M752 439h2M735 440h2M751 440h2M732 458h2M751 446h2M748 434h2M741 451h2M746 465h2M747 444h2M754 465h2M743 452h2M754 448h2M744 454h2M748 455h2M734 442h2M753 457h2M738 430h2M747 442h2M751 444h2M747 439h2M742 461h2M733 446h2M733 456h2M753 456h2M752 439h2M736 443h2M743 462h2M743 448h2M735 457h2M751 456h2M743 438h2M747 452h2M752 441h2M755 431h2M746 440h2M753 438h2M738 434h2M747 441h2M747 445h2M744 436h2M754 456h2M748 430h2M743 445h2M746 450h2M744 453h2M746 429h2M748 427h2M747 436h2M759 444h2M741 451h2M740 431h2M741 445h2M751 438h2M743 437h2M742 448h2M741 460h2M741 466h2M748 467h2M744 463h2M745 460h2M749 465h2M744 463h2M746 459h2M751 466h2M742 463h2M745 462h2M746 462h2M743 456h2M745 460h2M744 459h2M745 461h2M747 461h2M745 448h2M744 466h2M746 465h2M741 457h2M743 461h2M744 466h2M740 467h2M749 460h2M743 452h2M745 461h2M745 452h2M751 464h2M746 459h2M745 462h2M748 463h2M747 466h2M746 459h2M743 459h2M743 459h2M745 455h2M750 455h2M742 462h2M743 458h2M748 466h2M745 460h2M750 456h2M742 458h2M747 463h2M748 460h2M746 459h2M741 461h2M741 465h2M746 449h2M739 467h2M748 455h2M742 463h2M744 465h2M746 450h2M744 463h2M748 462h2M745 452h2M743 464h2M744 454h2M744 465h2M750 459h2M743 455h2M743 459h2M741 463h2M743 461h2M743 458h2M740 454h2M745 457h2M750 460h2M744 457h2M742 467h2M738 459h2M745 458h2M746 462h2M746 466h2M745 459h2M750 466h2M748 461h2M747 454h2M744 450h2M741 461h2M744 453h2M741 465h2M742 459h2M751 464h2M748 458h2M742 456h2M744 466h2M747 463h2M741 459h2M746 462h2M746 450h2M744 467h2M741 455h2M748 464h2M748 462h2M743 453h2M744 465h2M744 451h2M748 455h2M747 463h2M743 463h2M746 461h2M737 459h2M744 465h2M739 462h2M748 457h2M746 460h2M745 466h2M739 451h2M743 458h2M744 467h2M745 457h2M746 465h2M753 450h2M744 457h2M739 465h2M746 465h2M744 450h2M749 462h2M747 459h2M737 460h2M751 461h2M739 459h2M751 467h2M741 462h2M743 463h2M742 467h2M750 460h2M750 458h2M752 466h2M748 457h2M749 466h2M742 456h2M749 461h2M745 455h2M742 464h2M745 467h2M748 464h2M742 462h2M745 453h2M737 463h2M738 463h2M739 458h2M746 458h2M751 462h2M745 459h2M743 456h2M739 465h2M743 467h2M745 456h2M738 448h2M748 461h2M742 447h2M747 465h2M747 450h2M747 453h2M742 461h2M740 458h2M740 450h2M743 461h2M744 458h2M744 460h2M748 464h2M748 458h2M744 463h2M748 457h2M747 458h2M743 464h2M743 457h2M746 466h2M749 464h2M739 457h2M744 461h2M750 464h2M751 450h2M744 461h2M743 460h2M742 455h2M743 463h2M747 457h2M741 461h2M749 456h2M739 467h2M743 467h2M749 461h2M744 456h2M747 465h2M748 452h2M746 464h2M745 459h2M749 466h2M747 457h2M744 459h2M751 463h2M743 454h2M745 449h2M746 464h2M750 462h2M740 451h2M747 465h2M743 467h2M744 462h2M744 454h2M741 452h2M742 465h2M745 462h2M743 458h2M742 463h2M746 461h2M750 463h2M748 466h2M747 453h2M746 464h2M744 459h2M742 458h2M740 458h2M743 468h2M745 454h2M742 459h2M745 457h2M750 460h2M747 453h2M751 453h2M746 458h2M741 467h2M747 447h2M742 455h2M746 454h2M750 459h2M746 461h2M742 455h2M740 457h2M746 464h2M742 459h2M742 457h2M741 457h2M746 462h2M740 460h2M744 461h2M750 466h2M743 466h2M746 455h2M752 467h2M747 459h2M745 463h2M748 458h2M745 432h2M743 433h2M756 411h2M749 433h2M739 432h2M746 404h2M757 403h2M754 412h2M743 397h2M758 412h2M737 438h2M754 416h2M748 424h2M751 419h2M754 401h2M757 403h2M741 404h2M745 416h2M743 436h2M739 442h2M750 397h2M758 396h2M742 445h2M751 449h2M758 401h2M735 425h2M765 400h2M750 413h2M748 421h2M743 422h2M756 393h2M744 411h2M754 427h2M759 404h2M748 428h2M749 428h2M767 392h2M739 445h2M738 416h2M736 425h2M759 436h2M756 411h2M743 418h2M753 395h2M748 422h2M747 405h2M735 411h2M759 410h2M752 417h2M740 415h2M750 423h2M760 438h2M751 434h2M750 425h2M750 439h2M755 420h2M747 437h2M748 417h2M743 415h2M757 439h2M747 428h2M755 415h2M754 416h2M750 415h2M734 419h2M737 427h2M758 406h2M754 408h2M742 403h2M750 410h2M745 416h2M760 413h2M743 408h2M760 422h2M745 413h2M744 442h2M754 397h2M739 429h2M737 446h2M762 401h2M763 406h2M757 396h2M739 389h2M748 416h2M757 413h2M761 411h2M757 394h2M737 428h2M750 412h2M754 409h2M759 422h2M755 400h2M744 407h2M748 422h2M747 411h2M751 401h2M737 432h2M762 425h2M742 404h2M758 418h2M749 427h2M744 421h2M759 406h2M749 436h2M763 410h2M748 418h2M740 391h2M746 435h2M752 401h2M754 409h2M749 406h2M735 443h2M751 430h2M748 419h2M750 433h2M756 395h2M736 405h2M753 427h2M746 429h2M736 421h2M749 417h2M741 431h2M752 422h2M753 432h2M734 429h2M763 409h2M742 417h2M756 432h2M757 409h2M744 419h2M745 416h2M748 436h2M746 413h2M754 409h2M747 429h2M741 435h2M756 427h2M737 427h2M751 404h2M748 431h2M760 402h2M746 437h2M749 428h2M754 443h2M765 390h2M752 418h2M754 418h2M745 415h2M749 407h2M741 425h2M741 411h2M744 415h2M754 431h2M750 409h2M751 405h2M746 414h2M742 403h2M739 429h2M748 409h2M736 435h2M749 401h2M749 414h2M762 417h2M743 422h2M747 412h2M749 442h2M762 400h2M748 434h2M749 408h2M753 423h2M745 413h2M760 431h2M751 415h2M743 422h2M748 413h2M749 429h2M754 404h2M738 407h2M752 404h2M748 420h2M755 427h2M748 422h2M740 422h2M752 446h2M745 436h2M748 414h2M748 409h2M742 394h2M751 438h2M747 417h2M734 437h2M748 421h2M760 437h2M746 431h2M751 412h2M750 420h2M759 412h2M753 431h2M748 408h2M738 443h2M738 417h2M757 417h2M744 402h2M740 434h2M745 390h2M749 404h2M758 439h2M757 429h2M745 403h2M747 399h2M756 424h2M745 419h2M756 418h2M736 413h2M738 424h2M737 433h2M747 427h2M739 405h2M750 421h2M750 422h2M746 429h2M758 405h2M763 411h2M743 421h2M744 438h2M762 434h2M752 414h2M745 414h2M757 444h2M742 433h2M755 402h2M746 425h2M750 437h2M742 429h2M746 406h2M752 432h2M751 416h2M747 418h2M742 423h2M750 413h2M746 400h2M739 404h2M752 431h2M742 418h2M745 415h2M747 428h2M753 427h2M736 421h2M763 394h2M743 418h2M755 416h2M747 419h2M758 407h2M744 419h2M751 412h2M762 400h2M745 446h2M727 427h2M741 430h2M742 431h2M740 443h2M744 420h2M730 445h2M757 429h2M735 428h2M742 432h2M768 436h2M732 421h2M738 436h2M730 437h2M749 436h2M752 432h2M768 453h2M754 441h2M744 415h2M730 426h2M757 442h2M750 428h2M762 440h2M747 442h2M721 450h2M718 444h2M746 438h2M758 437h2M731 452h2M731 432h2M740 457h2M726 417h2M741 443h2M742 433h2M753 450h2M739 450h2M742 421h2M743 438h2M729 437h2M736 419h2M743 435h2M747 430h2M747 439h2M753 447h2M739 439h2M747 438h2M756 449h2M746 425h2M738 440h2M749 436h2M734 424h2M744 435h2M744 425h2M762 434h2M749 428h2M734 427h2M740 438h2M749 432h2M748 442h2M750 449h2M724 457h2M749 433h2M738 422h2M753 443h2M745 445h2M742 427h2M725 443h2M730 432h2M740 427h2M750 416h2M728 442h2M742 421h2M748 438h2M725 422h2M757 436h2M765 431h2M736 443h2M736 406h2M732 423h2M749 445h2M747 452h2M747 426h2M733 442h2M731 426h2M732 430h2M740 435h2M739 426h2M740 438h2M744 422h2M723 453h2M746 452h2M734 423h2M751 448h2M743 458h2M747 418h2M739 438h2M735 422h2M748 426h2M726 423h2M731 433h2M739 422h2M734 436h2M753 428h2M752 414h2M745 437h2M756 440h2M737 439h2M753 439h2M730 436h2M732 423h2M754 430h2M747 450h2M760 452h2M749 421h2M737 446h2M755 424h2M746 438h2M744 438h2M741 426h2M756 417h2M741 408h2M746 461h2M734 442h2M745 439h2M733 438h2M731 445h2M749 448h2M740 455h2M752 430h2M729 433h2M737 430h2M740 430h2M726 444h2M724 440h2M741 442h2M740 423h2M722 439h2M748 420h2M742 447h2M728 436h2M745 431h2M751 434h2M735 420h2M764 446h2M755 421h2M747 433h2M740 442h2M762 434h2M754 416h2M756 436h2M753 448h2M749 439h2M739 426h2M737 421h2M749 442h2M751 430h2M741 436h2M714 440h2M711 435h2M692 446h2M694 437h2M694 437h2M699 448h2M714 447h2M704 448h2M710 439h2M700 450h2M724 444h2M695 446h2M683 434h2M694 450h2M719 443h2M718 447h2M691 449h2M709 435h2M717 449h2M699 456h2M708 455h2M695 439h2M713 437h2M731 444h2M707 460h2M698 436h2M712 451h2M700 448h2M719 451h2M710 447h2M715 446h2M724 450h2M685 440h2M703 447h2M730 448h2M710 450h2M695 441h2M734 453h2M696 457h2M704 442h2M712 454h2M728 444h2M720 438h2M693 446h2M714 457h2M714 441h2M703 445h2M688 456h2M702 445h2M707 452h2M714 446h2M706 450h2M714 440h2M693 435h2M712 439h2M709 458h2M708 454h2M706 443h2M708 447h2M712 452h2M703 437h2M684 443h2M731 433h2M703 453h2M725 440h2M715 448h2M697 453h2M725 439h2M729 430h2M713 441h2M717 456h2M700 440h2M705 447h2M714 450h2M698 458h2M693 449h2M711 430h2M727 446h2M692 457h2M711 445h2M702 449h2M700 436h2M688 439h2M730 446h2M717 454h2M691 440h2M708 457h2M692 443h2M696 441h2M694 443h2M706 443h2M688 437h2M708 441h2M690 444h2M718 438h2M718 452h2M697 453h2M690 439h2M714 444h2M685 459h2M698 455h2M695 448h2M705 441h2M722 444h2M705 455h2M700 449h2M717 432h2M696 445h2M682 454h2M696 444h2M688 442h2M687 442h2M700 447h2M683 449h2M705 442h2M721 449h2M713 448h2M734 439h2M737 423h2M733 433h2M719 440h2M726 444h2M728 433h2M740 430h2M708 443h2M710 445h2M726 445h2M728 442h2M721 434h2M731 432h2M727 438h2M728 448h2M717 441h2M730 427h2M707 447h2M720 442h2M733 429h2M728 436h2M729 437h2M732 437h2M718 436h2M735 436h2M723 427h2M716 439h2M723 435h2M712 440h2M726 433h2M739 435h2M719 433h2M737 427h2M729 435h2M732 438h2M733 439h2M724 434h2M719 452h2M720 438h2M719 438h2M733 421h2M717 448h2M727 426h2M729 437h2M723 439h2M716 449h2M725 423h2M720 442h2M725 442h2M740 430h2M724 437h2M721 438h2M722 429h2M726 424h2M718 442h2M723 428h2M714 431h2M714 449h2M734 439h2M729 433h2M720 453h2M725 435h2" stroke="#000" stroke-width="1.7" fill="none"/>
<rect x="366.40" y="187.20" width="17.30" height="28.30" fill="none" stroke="#444" stroke-width="0.7"/>
<text x="375" y="179.5" font-size="12" font-weight="normal" font-style="normal" text-anchor="middle">9</text>
<clipPath id="c12"><rect x="432.6" y="160.7" width="70.59999999999997" height="73.9"/></clipPath>
<g clip-path="url(#c12)">
<ellipse cx="464.5" cy="218.5" rx="3.2" ry="8.6" transform="rotate(5 464.5 218.5)" fill="#000" opacity="0.51" filter="url(#bl)"/>
</g>
<path transform="scale(.5)" d="M925 440h2M932 427h2M928 420h2M933 446h2M935 431h2M936 423h2M923 434h2M923 441h2M917 453h2M938 442h2M932 436h2M923 452h2M933 422h2M926 443h2M926 419h2M919 455h2M935 449h2M932 423h2M928 444h2M921 441h2M932 455h2M923 451h2M930 443h2M935 457h2M922 451h2M936 420h2M932 446h2M926 435h2M934 451h2M938 446h2M932 441h2M928 448h2M928 440h2M930 416h2M922 435h2M926 442h2M921 461h2M933 432h2M930 439h2M927 421h2M929 431h2M928 457h2M933 464h2M925 431h2M929 460h2M921 459h2M932 437h2M937 440h2M934 455h2M930 408h2M929 424h2M933 432h2M927 442h2M924 437h2M921 442h2M928 455h2M927 434h2M931 447h2M924 421h2M932 436h2M934 431h2M936 447h2M938 411h2M927 431h2M931 447h2M927 423h2M929 428h2M925 443h2M930 432h2M932 457h2M930 443h2M919 437h2M935 455h2M929 447h2M925 450h2M926 447h2M927 435h2M931 446h2M926 446h2M938 442h2M926 446h2M929 424h2M927 452h2M926 434h2M920 425h2M925 449h2M922 446h2M931 444h2M936 441h2M931 417h2M924 450h2M926 448h2M932 422h2M931 441h2M931 426h2M926 466h2M937 439h2M931 449h2M938 424h2M937 420h2M932 441h2M934 442h2M933 455h2M930 427h2M936 443h2M929 450h2M925 444h2M936 443h2M930 437h2M932 421h2M925 441h2M927 437h2M923 444h2M927 441h2M929 419h2M929 451h2M941 442h2M923 423h2M922 430h2M930 436h2M929 450h2M928 446h2M925 433h2M931 441h2M932 423h2M923 461h2M927 453h2M931 419h2M936 456h2M919 463h2M928 456h2M934 446h2M932 412h2M925 425h2M931 458h2M926 451h2M935 416h2M929 446h2M927 439h2M939 445h2M929 449h2M921 452h2M929 428h2M928 421h2M937 422h2M927 448h2M923 460h2M928 452h2M927 444h2M931 419h2M932 435h2M931 450h2M928 433h2M936 452h2M927 440h2M936 431h2M933 447h2M925 436h2M936 424h2M919 449h2M938 427h2M924 441h2M930 414h2M925 426h2M932 445h2M920 458h2M932 449h2M920 454h2M926 443h2M922 442h2M936 449h2M940 438h2M939 432h2M918 434h2M934 437h2M924 446h2M924 450h2M937 444h2M926 464h2M930 450h2M928 413h2M933 439h2M925 445h2M921 440h2M928 442h2M927 444h2M936 441h2M926 443h2M929 441h2M925 457h2M923 443h2M924 439h2M926 449h2M920 427h2M919 427h2M924 446h2M929 443h2M933 435h2M934 436h2M928 448h2M925 429h2M922 420h2M926 426h2M939 422h2M925 438h2M930 431h2M928 442h2M933 422h2M939 412h2M924 457h2M930 429h2M918 445h2M929 403h2M937 421h2M925 431h2M929 442h2M930 460h2M925 413h2M928 450h2M919 436h2M926 424h2M930 413h2M928 446h2M932 454h2M932 435h2M929 416h2M932 424h2M920 449h2M933 410h2M921 420h2M919 445h2M924 434h2M930 449h2M927 454h2M931 447h2M925 454h2M928 414h2M929 420h2M920 418h2M935 433h2M942 437h2M939 452h2M925 445h2M931 439h2M928 432h2M927 445h2M920 441h2M936 427h2M931 444h2M930 423h2M925 446h2M925 430h2M932 428h2M924 429h2M929 428h2M926 442h2M930 411h2M937 423h2M934 437h2M928 425h2M932 440h2M930 422h2M936 446h2M933 443h2M928 454h2M926 451h2M930 442h2M922 418h2M927 457h2M929 435h2M933 429h2M932 427h2M931 426h2M927 429h2M928 450h2M927 419h2M930 437h2M922 426h2M926 440h2M926 431h2M922 417h2M918 429h2M917 435h2M925 447h2M928 416h2M927 435h2M935 431h2M926 434h2M931 451h2M928 450h2M928 408h2M928 460h2M930 441h2M930 459h2M921 441h2M920 460h2M926 431h2M930 455h2M924 441h2M928 450h2M939 426h2M930 447h2M931 426h2M928 467h2M934 431h2M923 443h2M925 444h2M930 436h2M939 441h2M925 423h2M929 431h2M933 438h2M938 439h2M927 423h2M926 441h2M931 432h2M932 414h2M921 447h2M927 442h2M921 443h2M926 464h2M917 464h2M926 441h2M938 430h2M923 425h2M929 457h2M935 427h2M924 454h2M927 437h2M925 422h2M933 419h2M925 452h2M926 451h2M928 422h2M931 415h2M926 447h2M922 435h2M930 408h2M931 434h2M928 428h2M929 437h2M937 432h2M924 417h2M924 425h2M922 423h2M930 434h2M925 432h2M926 431h2M925 435h2M928 448h2M929 422h2M920 457h2M926 429h2M926 459h2M930 448h2M928 435h2M926 443h2M925 445h2M921 434h2M934 451h2M936 442h2M933 441h2M923 437h2M927 445h2M925 437h2M933 446h2M923 441h2M927 444h2M934 448h2M919 465h2M931 437h2M934 423h2M932 432h2M930 423h2M925 437h2M929 436h2M928 454h2M940 434h2M928 407h2M928 455h2M922 433h2M927 421h2M929 424h2M931 433h2M931 451h2M931 416h2M920 423h2M933 442h2M926 438h2M931 455h2M934 465h2M933 429h2M926 442h2M928 423h2M931 442h2M930 427h2M926 437h2M933 430h2M932 423h2M934 434h2M923 450h2M934 437h2M921 457h2M928 457h2M932 442h2M920 460h2M931 432h2M922 433h2M917 435h2M931 431h2M939 437h2M926 466h2M927 406h2M925 451h2M921 451h2M918 448h2M927 427h2M932 429h2M922 427h2M928 448h2M932 427h2M926 435h2M924 454h2M928 429h2M920 465h2M930 435h2M926 457h2M930 439h2M919 428h2M929 455h2M925 448h2M929 446h2M926 447h2M933 440h2M927 437h2M926 436h2M934 445h2M935 431h2M928 424h2M932 433h2M924 429h2M938 439h2M929 430h2M937 421h2M926 428h2M930 456h2M928 448h2M922 429h2M922 444h2M925 414h2M935 412h2M926 427h2M921 432h2M929 453h2M928 425h2M929 438h2M928 459h2M916 447h2M929 425h2M925 425h2M929 467h2M923 458h2M932 432h2M939 404h2M931 442h2M933 408h2M933 435h2M929 448h2M918 453h2M935 446h2M925 434h2M921 420h2M930 446h2M930 424h2M925 442h2M937 438h2M937 436h2M933 437h2M926 428h2M935 439h2M919 450h2M933 442h2M934 440h2M931 425h2M929 448h2M932 414h2M938 445h2M927 421h2M931 413h2M926 451h2M927 427h2M931 446h2M922 445h2M936 425h2M939 423h2M933 443h2M933 431h2M926 461h2M923 431h2M941 436h2M925 456h2M928 426h2M926 439h2M931 439h2M924 450h2M921 441h2M921 436h2M929 423h2M929 435h2M931 421h2M924 429h2M928 425h2M934 435h2M918 429h2M934 428h2M924 433h2M918 424h2M930 446h2M932 450h2M927 444h2M937 435h2M932 441h2M933 439h2M935 434h2M925 435h2M925 449h2M933 435h2M924 448h2M929 435h2M936 444h2M933 432h2M920 452h2M930 460h2M930 428h2M928 445h2M925 433h2M938 434h2M930 449h2M936 412h2M928 439h2M929 415h2M930 428h2M933 449h2M928 448h2M933 420h2M932 440h2M932 437h2M926 444h2M931 454h2M938 441h2M931 447h2M933 430h2M933 446h2M936 441h2M922 425h2M932 432h2M930 423h2M926 437h2M939 421h2M925 445h2M928 438h2M935 457h2M924 422h2M928 458h2M923 440h2M930 423h2M920 439h2M937 408h2M925 433h2M933 443h2M934 453h2M926 442h2M923 440h2M927 420h2M928 440h2M935 442h2M934 426h2M932 446h2M932 427h2M925 447h2M939 427h2M931 426h2M918 444h2M930 452h2M922 449h2M937 444h2M920 458h2M932 438h2M933 451h2M928 428h2M924 443h2M922 406h2M934 434h2M930 426h2M932 432h2M933 430h2M923 443h2M929 440h2M925 437h2M929 438h2M933 442h2M933 444h2M936 429h2M930 423h2M929 459h2M930 434h2M933 435h2M929 462h2M927 434h2M930 439h2M930 409h2M931 429h2M936 457h2M922 462h2M924 447h2M939 425h2M917 447h2M928 438h2M930 455h2M935 432h2M933 436h2M926 445h2M941 412h2M932 422h2M933 425h2M936 424h2M930 464h2M933 445h2M925 454h2M917 431h2M940 436h2M928 431h2M929 432h2M936 435h2M928 438h2M927 418h2M929 461h2M934 455h2M931 439h2M926 431h2M940 423h2M936 410h2M937 436h2M925 462h2M928 426h2M936 438h2M928 405h2M927 453h2M930 435h2M917 448h2M922 458h2M920 412h2M924 423h2M936 431h2M929 431h2M935 438h2M937 451h2M927 460h2M917 427h2M933 430h2M926 430h2M934 428h2M922 467h2M930 449h2M924 442h2M933 417h2M932 419h2M931 447h2M936 448h2M940 438h2M918 433h2M932 416h2M934 454h2M923 455h2M929 427h2M927 428h2M924 434h2M921 445h2M924 446h2M925 441h2M920 419h2M927 440h2M926 453h2M938 426h2M922 449h2M934 460h2M930 434h2M931 430h2M938 441h2M932 445h2M928 452h2M927 447h2M935 466h2M928 448h2M930 445h2M929 435h2M934 404h2M933 449h2M925 462h2M932 437h2M934 454h2M930 424h2M919 442h2M931 421h2M935 458h2M932 440h2M919 433h2M929 442h2M929 459h2M928 449h2M919 449h2M938 408h2M933 426h2M938 426h2M925 425h2M931 427h2M927 451h2M932 436h2M933 440h2M918 455h2M919 451h2M923 435h2M934 426h2M927 462h2M929 443h2M924 430h2M931 441h2M926 422h2M924 428h2M935 434h2M924 450h2M935 447h2M931 447h2M930 439h2M933 431h2M928 453h2M927 426h2M926 422h2M931 430h2M938 444h2M929 432h2M930 409h2M932 428h2M918 443h2M932 456h2M921 440h2M935 416h2M926 441h2M936 459h2M925 451h2M926 432h2M925 436h2M935 447h2M932 463h2M927 449h2M929 441h2M928 431h2M932 456h2M927 447h2M934 450h2M920 422h2M937 413h2M938 445h2M940 426h2M923 442h2M935 440h2M936 433h2M923 445h2M936 449h2M926 438h2M926 434h2M929 435h2M930 447h2M917 446h2M929 426h2M924 455h2M927 441h2M933 422h2M931 425h2M929 441h2M924 454h2M929 422h2M943 413h2M935 451h2M935 427h2M923 458h2M936 442h2M933 437h2M926 427h2M931 440h2M924 441h2M935 442h2M933 422h2M924 437h2M927 447h2M932 416h2M924 455h2M931 428h2M935 445h2M928 443h2M929 448h2M932 455h2M927 435h2M929 425h2M929 440h2M928 461h2M935 407h2M933 430h2M931 443h2M922 436h2M938 422h2M925 441h2M934 433h2M923 444h2M933 433h2M927 459h2M936 416h2M937 428h2M927 448h2M935 425h2M935 454h2M923 444h2M925 428h2M918 443h2M932 434h2M930 428h2M930 432h2M932 406h2M925 460h2M929 421h2M936 429h2M933 454h2M926 442h2M923 428h2M932 427h2M936 442h2M918 456h2M933 435h2M929 449h2M925 460h2M926 428h2M934 446h2M932 426h2M931 443h2M932 448h2M929 465h2M924 434h2M928 438h2M929 413h2M931 442h2M941 421h2M930 421h2M925 453h2M927 446h2M926 440h2M929 447h2M921 451h2M929 433h2M935 446h2M917 450h2M927 432h2M930 451h2M925 439h2M930 434h2M924 405h2M922 444h2M929 451h2M942 430h2M934 437h2M924 458h2M921 446h2M926 441h2M930 435h2M921 445h2M928 434h2M931 416h2M938 424h2M930 440h2M921 428h2M928 425h2M927 448h2M923 464h2M929 440h2M926 441h2M927 437h2M931 438h2M933 432h2M939 433h2M927 429h2M932 439h2M943 412h2M935 441h2M926 437h2M934 448h2M930 413h2M920 441h2M927 426h2M925 412h2M935 449h2M926 465h2M927 411h2M924 441h2M926 456h2M927 437h2M933 455h2M930 435h2M931 437h2M930 435h2M923 435h2M923 450h2M923 416h2M931 439h2M933 427h2M931 431h2M925 436h2M935 443h2M931 439h2M932 431h2M934 429h2M934 428h2M926 456h2M931 443h2M936 429h2M930 422h2M932 434h2M930 428h2M930 452h2M931 437h2M926 420h2M931 425h2M937 420h2M929 446h2M930 453h2M925 447h2M934 431h2M936 439h2M941 414h2M939 436h2M925 424h2M930 441h2M926 418h2M942 435h2M925 457h2M922 434h2M928 445h2M932 461h2M935 427h2M922 438h2M921 422h2M930 458h2M934 430h2M934 440h2M922 422h2M935 449h2M928 435h2M926 450h2M930 442h2M923 452h2M931 435h2M928 449h2M932 448h2M932 461h2M924 431h2M937 446h2M934 419h2M934 426h2M936 441h2M933 428h2M917 433h2M932 430h2M928 445h2M929 442h2M924 434h2M932 420h2M937 406h2M930 435h2M933 451h2M931 417h2M936 443h2M933 436h2M926 441h2M930 436h2M929 437h2M939 443h2M935 414h2M918 433h2M923 460h2M928 413h2M917 428h2M933 416h2M924 416h2M918 432h2M932 446h2M938 455h2M935 433h2M924 464h2M931 447h2M926 427h2M939 421h2M921 415h2M917 458h2M932 436h2M929 420h2M925 438h2M924 461h2M931 442h2M930 449h2M924 430h2M942 405h2M930 446h2M924 444h2M932 446h2M935 440h2M924 460h2M924 463h2M935 432h2M937 443h2M933 423h2M934 443h2M931 444h2M921 442h2M929 430h2M930 427h2M925 448h2M929 432h2M927 408h2M919 460h2M927 422h2M926 441h2M931 438h2M942 432h2M926 444h2M929 447h2M931 431h2M929 456h2M927 443h2M937 426h2M918 436h2M935 436h2M937 428h2M927 445h2M918 448h2M937 420h2M935 443h2M921 436h2M927 438h2M940 425h2M925 457h2M923 428h2M932 438h2M922 454h2M928 438h2M927 435h2M929 453h2M936 444h2M928 437h2M927 435h2M931 428h2M925 457h2M924 418h2M924 438h2M922 442h2M923 422h2M918 467h2M930 434h2M929 442h2M926 455h2M931 442h2M932 446h2M928 461h2M929 449h2M928 450h2M933 414h2M931 424h2M929 414h2M933 419h2M932 436h2M934 443h2M930 428h2M927 446h2M925 439h2M923 420h2M938 405h2M927 449h2M927 452h2M924 432h2M923 452h2M927 411h2M923 441h2M928 446h2M930 445h2M923 445h2M933 437h2M919 431h2M929 434h2M931 425h2M930 433h2M932 419h2M931 446h2M926 454h2M931 440h2M927 447h2M926 461h2M935 427h2M934 465h2M939 440h2M929 419h2M923 461h2M924 446h2M937 433h2M921 427h2M925 442h2M923 444h2M921 412h2M929 452h2M940 415h2M923 431h2M922 440h2M934 443h2M931 455h2M933 436h2M942 432h2M936 423h2M934 448h2M931 441h2M921 436h2M926 433h2M937 422h2M932 425h2M928 439h2M927 459h2M921 430h2M938 438h2M919 455h2M929 447h2M918 422h2M932 409h2M923 432h2M931 429h2M931 431h2M922 444h2M926 431h2M925 463h2M926 438h2M930 417h2M931 441h2M935 454h2M939 424h2M927 439h2M932 426h2M931 452h2M926 427h2M927 434h2M931 443h2M930 424h2M941 424h2M921 428h2M931 437h2M918 466h2M919 427h2M923 445h2M924 423h2M926 447h2M931 427h2M933 443h2M922 415h2M924 446h2M931 463h2M933 443h2M927 455h2M934 424h2M938 403h2M942 383h2M929 413h2M932 406h2M932 396h2M934 395h2M926 395h2M932 401h2M930 394h2M938 400h2M932 410h2M934 399h2M929 416h2M939 404h2M938 402h2M938 401h2M941 393h2M936 414h2M931 401h2M933 391h2M933 409h2M930 416h2M942 403h2M935 390h2M932 382h2M941 413h2M936 414h2M931 416h2M931 402h2M937 407h2M935 394h2M930 425h2M946 401h2M935 409h2M931 392h2M932 404h2M939 396h2M943 403h2M929 399h2M931 395h2M935 404h2M926 400h2M933 401h2M931 397h2M925 418h2M941 385h2M927 393h2M924 404h2M931 400h2M934 398h2M939 402h2M931 421h2M936 417h2M931 410h2M941 397h2M927 398h2M940 407h2M924 405h2M935 392h2M933 418h2M933 399h2M937 425h2M943 397h2M926 400h2M940 396h2M930 409h2M935 404h2M944 399h2M931 416h2M934 401h2M936 403h2M924 407h2M938 411h2M921 422h2M935 385h2M943 399h2M938 396h2M928 393h2M927 418h2M929 403h2M937 408h2M929 411h2M932 395h2M927 400h2M933 412h2M938 400h2M927 410h2M931 404h2M942 393h2M944 395h2M937 394h2M938 399h2M931 397h2M944 407h2M933 406h2M936 401h2M936 408h2M935 424h2M935 395h2M922 422h2M927 411h2M932 384h2M931 407h2M935 425h2M940 403h2M937 400h2M935 421h2M937 387h2M935 403h2M939 402h2M933 401h2M934 417h2M931 420h2M936 414h2M932 424h2M931 406h2M928 401h2M924 422h2M933 406h2M932 379h2M941 403h2M933 396h2M938 405h2M937 395h2M933 397h2M931 397h2M934 420h2M931 397h2M926 423h2M936 409h2M930 398h2M932 396h2M932 399h2M936 416h2M938 383h2M946 400h2M935 386h2M940 407h2M928 401h2M935 395h2M928 391h2M934 398h2M935 395h2M929 414h2M931 403h2M933 408h2M934 419h2M927 413h2M930 413h2M934 413h2M933 419h2M926 427h2M928 426h2M933 398h2M930 391h2M933 394h2M936 416h2M927 403h2M933 388h2M938 393h2M930 409h2M935 398h2M933 397h2M938 408h2M928 399h2M928 409h2M930 409h2M929 417h2M935 393h2M931 404h2M925 405h2M931 423h2M927 418h2M935 400h2M937 415h2M929 404h2M931 427h2M929 417h2M935 396h2M944 397h2M933 394h2M938 401h2M922 410h2M937 394h2M925 418h2M934 410h2M927 430h2M938 400h2M932 415h2M929 402h2M939 406h2M928 398h2M928 406h2M932 405h2M937 417h2M930 385h2M942 392h2M940 410h2M937 390h2M933 423h2M939 405h2M938 425h2M934 397h2M936 400h2M933 420h2M926 412h2M931 410h2M928 397h2M938 398h2M930 390h2M938 415h2M939 401h2M930 400h2M924 416h2M924 405h2M935 393h2M935 421h2M935 414h2M943 417h2M932 410h2M937 391h2M935 406h2M934 420h2M933 403h2M932 405h2M934 408h2M934 402h2M935 390h2M932 410h2M936 408h2M933 401h2M936 406h2M936 397h2M933 401h2M924 398h2M933 414h2M936 389h2M934 386h2M929 416h2M924 399h2M933 397h2M934 420h2M929 390h2M927 408h2M938 416h2M936 389h2M928 409h2M938 402h2M929 403h2M932 421h2M937 402h2M936 410h2M944 380h2M943 383h2M932 415h2M931 417h2M930 385h2M932 416h2M937 407h2M946 391h2M939 408h2M934 420h2M928 413h2M936 402h2M933 414h2M940 402h2M933 413h2M923 419h2M934 399h2M933 409h2M929 427h2M925 411h2M929 403h2M933 395h2M935 393h2M936 409h2M937 398h2M937 403h2M937 405h2M929 413h2M941 391h2M934 397h2M939 393h2M935 404h2M932 396h2M937 402h2M927 396h2M933 409h2M935 418h2M930 416h2M938 407h2M927 420h2M936 414h2M927 413h2M935 406h2M940 399h2M936 401h2M926 403h2M942 390h2M932 426h2M935 406h2M939 388h2M930 413h2M937 407h2M932 411h2M936 406h2M946 406h2M941 407h2M928 405h2M940 393h2M928 420h2M926 407h2M942 393h2M938 418h2M930 403h2M935 397h2M934 411h2M940 398h2M940 407h2M928 407h2M931 406h2M925 399h2M935 388h2M929 395h2M928 403h2M937 412h2M931 403h2M937 408h2M928 400h2M938 402h2M928 394h2M926 407h2M939 406h2M939 406h2M930 409h2M932 403h2M926 412h2M935 395h2M928 403h2M928 406h2M930 398h2M927 407h2M936 423h2M937 411h2M933 398h2M944 410h2M943 426h2M930 414h2M936 399h2M939 397h2M932 464h2M926 460h2M926 456h2M931 458h2M930 451h2M926 465h2M928 456h2M928 450h2M927 446h2M926 462h2M925 457h2M927 446h2M929 457h2M928 455h2M923 460h2M928 452h2M929 466h2M927 460h2M924 466h2M926 466h2M932 454h2M927 456h2M927 452h2M931 456h2M927 466h2M927 461h2M927 464h2M926 460h2M924 459h2M925 452h2M931 460h2M930 452h2M925 458h2M925 453h2M930 466h2M930 456h2M924 464h2M929 460h2M932 456h2M929 460h2M924 456h2M922 462h2M927 446h2M921 459h2M924 453h2M923 455h2M928 450h2M925 450h2M921 454h2M927 467h2M923 452h2M928 457h2M926 465h2M924 455h2M925 466h2M925 453h2M928 462h2M931 464h2M930 460h2M922 462h2M925 456h2M930 460h2M926 465h2M927 454h2M926 461h2M926 464h2M926 459h2M929 463h2M924 452h2M925 453h2M929 463h2M929 449h2M928 461h2M927 456h2M924 464h2M921 457h2M930 452h2M927 450h2M929 449h2M923 458h2M929 458h2M925 461h2M928 460h2M927 460h2M927 454h2M927 454h2M925 465h2M929 456h2M929 463h2M925 460h2M930 455h2M924 461h2M924 467h2M925 455h2M930 453h2M929 458h2M929 464h2M933 465h2M925 464h2M927 453h2M927 450h2M930 448h2M925 466h2M923 458h2M922 463h2M926 466h2M925 460h2M927 467h2M925 458h2M931 448h2M931 453h2M925 456h2M925 463h2M926 458h2M933 461h2M926 458h2M929 462h2M923 451h2M926 447h2M926 466h2M930 465h2M926 460h2M925 448h2M927 458h2M929 461h2M926 457h2M925 460h2M927 452h2M930 450h2M924 461h2M929 460h2M926 454h2M933 458h2M927 467h2M926 466h2M926 465h2M928 464h2M929 457h2M925 459h2M928 467h2M930 461h2M923 451h2M928 462h2M927 445h2M928 462h2M925 461h2M925 456h2M930 460h2M925 459h2M931 455h2M930 467h2M927 467h2M920 448h2M930 455h2M923 463h2M927 451h2M923 455h2M926 459h2M925 454h2M923 455h2M931 461h2M925 462h2M927 464h2M934 460h2M930 446h2M924 456h2M929 459h2M926 455h2M931 456h2M925 452h2M927 456h2M913 420h2M938 462h2M931 421h2M927 417h2M929 408h2M935 450h2M926 420h2M927 446h2M918 439h2M932 435h2M933 441h2M924 450h2M944 398h2M939 425h2M927 466h2M940 427h2M936 418h2M949 394h2M924 414h2M935 437h2M936 457h2M916 421h2M928 437h2M929 419h2M918 413h2M929 417h2M927 453h2M926 428h2M936 458h2M938 466h2M937 415h2M936 415h2M937 428h2M923 429h2M931 435h2M926 424h2M924 434h2M933 464h2M921 418h2M929 445h2M933 436h2M927 419h2M944 437h2M936 422h2M920 396h2M939 435h2M923 397h2M932 411h2M939 426h2M918 434h2M933 421h2M917 415h2M926 415h2M939 423h2M941 444h2M929 424h2M926 438h2M932 419h2M927 441h2M920 424h2M930 446h2M933 455h2M948 399h2M938 408h2M925 439h2M920 428h2M917 419h2M928 433h2M925 447h2M928 440h2M939 452h2M938 420h2M918 407h2M919 404h2M917 441h2M943 466h2M922 435h2M929 458h2M935 447h2M923 423h2M938 400h2M948 399h2M923 393h2M926 413h2M936 443h2M933 424h2M926 447h2M943 427h2M926 419h2M928 429h2M930 436h2M920 418h2M925 413h2M919 432h2M929 431h2M932 412h2M936 406h2M937 446h2M941 427h2M937 452h2M923 429h2M945 419h2M926 426h2M945 436h2M932 466h2M921 408h2M938 443h2M931 413h2M917 407h2M935 416h2M925 439h2M938 423h2M939 434h2M931 413h2M927 426h2M925 428h2M917 401h2M923 429h2M923 430h2M927 432h2M922 426h2M928 427h2M930 438h2M922 413h2M925 396h2M925 433h2M915 397h2M924 430h2M927 434h2M936 416h2M932 420h2M920 424h2M937 444h2M915 453h2M935 454h2M944 411h2M918 431h2M917 454h2M935 419h2M928 416h2M926 405h2M932 439h2M934 433h2M937 428h2M920 434h2M922 411h2M918 427h2M934 432h2M918 439h2M920 425h2M918 388h2M919 426h2M944 445h2M923 457h2M925 449h2M918 438h2M909 436h2M914 452h2M919 444h2M906 429h2M912 455h2M893 450h2M896 444h2M904 439h2M896 445h2M903 438h2M913 439h2M899 442h2M901 450h2M901 438h2M892 454h2M916 440h2M906 435h2M897 442h2M916 448h2M914 448h2M909 442h2M913 430h2M892 446h2M896 445h2M902 451h2M893 438h2M893 446h2M909 440h2M899 443h2M905 449h2M894 429h2M923 434h2M917 452h2M885 443h2M897 444h2M903 457h2M888 446h2M883 454h2M881 456h2M888 457h2M888 449h2M903 452h2M884 447h2M904 458h2M878 457h2M891 451h2M887 451h2M889 442h2M888 459h2M894 459h2" stroke="#000" stroke-width="1.7" fill="none"/>
<rect x="458.20" y="187.20" width="17.20" height="28.30" fill="none" stroke="#444" stroke-width="0.7"/>
<text x="468" y="179.5" font-size="12" font-weight="normal" font-style="normal" text-anchor="middle">41</text>
<text x="330.3" y="196.7" font-size="12.5" font-weight="bold" font-style="normal" text-anchor="middle" transform="rotate(-90 330.3 196.7)" stroke="#000" stroke-width="0.2">Pre-BCR</text>
<text x="375.5" y="250.7" font-size="12.5" font-weight="bold" font-style="normal" text-anchor="middle" stroke="#000" stroke-width="0.2">B220</text>
<text x="467.3" y="250.7" font-size="12.5" font-weight="bold" font-style="normal" text-anchor="middle" stroke="#000" stroke-width="0.2">B220</text>
<path d="M473.5 110.6L518.7 110.6L518.7 182.2L512 182.2" fill="none" stroke="#000" stroke-width="2.9" stroke-linejoin="miter"/>
<path d="M505.3 182.2L513.5 178.5L513.5 185.89999999999998Z" fill="#000"/>
<text x="0.3" y="416.7" font-size="14.3" font-weight="bold" font-style="normal" text-anchor="start" stroke="#000" stroke-width="0.2">B</text>
<text x="-0.5" y="607.6" font-size="14.3" font-weight="bold" font-style="normal" text-anchor="start" stroke="#000" stroke-width="0.2">D</text>
<rect x="59.6" y="416.9" width="186.90" height="118.40" fill="none" stroke="#222" stroke-width="1.3"/>
<line x1="56.60" y1="535.30" x2="59.60" y2="535.30" stroke="#222" stroke-width="1.0"/>
<text x="52.3" y="538.29" font-size="8.3" font-weight="normal" font-style="normal" text-anchor="end" stroke="#000" stroke-width="0.15">0</text>
<line x1="56.60" y1="521.36" x2="59.60" y2="521.36" stroke="#222" stroke-width="1.0"/>
<text x="52.3" y="524.35" font-size="8.3" font-weight="normal" font-style="normal" text-anchor="end" stroke="#000" stroke-width="0.15">1</text>
<line x1="56.60" y1="507.42" x2="59.60" y2="507.42" stroke="#222" stroke-width="1.0"/>
<text x="52.3" y="510.41" font-size="8.3" font-weight="normal" font-style="normal" text-anchor="end" stroke="#000" stroke-width="0.15">2</text>
<line x1="56.60" y1="493.48" x2="59.60" y2="493.48" stroke="#222" stroke-width="1.0"/>
<text x="52.3" y="496.47" font-size="8.3" font-weight="normal" font-style="normal" text-anchor="end" stroke="#000" stroke-width="0.15">3</text>
<line x1="56.60" y1="479.54" x2="59.60" y2="479.54" stroke="#222" stroke-width="1.0"/>
<text x="52.3" y="482.53" font-size="8.3" font-weight="normal" font-style="normal" text-anchor="end" stroke="#000" stroke-width="0.15">4</text>
<line x1="56.60" y1="465.60" x2="59.60" y2="465.60" stroke="#222" stroke-width="1.0"/>
<text x="52.3" y="468.59" font-size="8.3" font-weight="normal" font-style="normal" text-anchor="end" stroke="#000" stroke-width="0.15">5</text>
<line x1="56.60" y1="451.66" x2="59.60" y2="451.66" stroke="#222" stroke-width="1.0"/>
<text x="52.3" y="454.65" font-size="8.3" font-weight="normal" font-style="normal" text-anchor="end" stroke="#000" stroke-width="0.15">6</text>
<line x1="56.60" y1="437.72" x2="59.60" y2="437.72" stroke="#222" stroke-width="1.0"/>
<text x="52.3" y="440.71" font-size="8.3" font-weight="normal" font-style="normal" text-anchor="end" stroke="#000" stroke-width="0.15">7</text>
<line x1="56.60" y1="423.78" x2="59.60" y2="423.78" stroke="#222" stroke-width="1.0"/>
<text x="52.3" y="426.77" font-size="8.3" font-weight="normal" font-style="normal" text-anchor="end" stroke="#000" stroke-width="0.15">8</text>
<line x1="82.60" y1="505.61" x2="82.60" y2="501.41" stroke="#111" stroke-width="1.0"/>
<line x1="80.00" y1="501.41" x2="85.20" y2="501.41" stroke="#111" stroke-width="1.0"/>
<rect x="78.50" y="505.61" width="8.20" height="29.69" fill="#000"/>
<line x1="90.80" y1="530.28" x2="90.80" y2="529.78" stroke="#111" stroke-width="1.0"/>
<line x1="88.20" y1="529.78" x2="93.40" y2="529.78" stroke="#111" stroke-width="1.0"/>
<rect x="87.00" y="530.28" width="7.90" height="5.02" fill="#b2b2b2" stroke="#808080" stroke-width="0.6"/>
<line x1="109.35" y1="515.78" x2="109.35" y2="512.58" stroke="#111" stroke-width="1.0"/>
<line x1="106.75" y1="512.58" x2="111.95" y2="512.58" stroke="#111" stroke-width="1.0"/>
<rect x="105.25" y="515.78" width="8.20" height="19.52" fill="#000"/>
<line x1="117.55" y1="526.24" x2="117.55" y2="523.84" stroke="#111" stroke-width="1.0"/>
<line x1="114.95" y1="523.84" x2="120.15" y2="523.84" stroke="#111" stroke-width="1.0"/>
<rect x="113.75" y="526.24" width="7.90" height="9.06" fill="#b2b2b2" stroke="#808080" stroke-width="0.6"/>
<line x1="136.10" y1="505.61" x2="136.10" y2="502.71" stroke="#111" stroke-width="1.0"/>
<line x1="133.50" y1="502.71" x2="138.70" y2="502.71" stroke="#111" stroke-width="1.0"/>
<rect x="132.00" y="505.61" width="8.20" height="29.69" fill="#000"/>
<line x1="144.30" y1="520.38" x2="144.30" y2="516.18" stroke="#111" stroke-width="1.0"/>
<line x1="141.70" y1="516.18" x2="146.90" y2="516.18" stroke="#111" stroke-width="1.0"/>
<rect x="140.50" y="520.38" width="7.90" height="14.92" fill="#b2b2b2" stroke="#808080" stroke-width="0.6"/>
<line x1="162.85" y1="457.93" x2="162.85" y2="444.53" stroke="#111" stroke-width="1.0"/>
<line x1="160.25" y1="444.53" x2="165.45" y2="444.53" stroke="#111" stroke-width="1.0"/>
<rect x="158.75" y="457.93" width="8.20" height="77.37" fill="#000"/>
<line x1="171.05" y1="505.61" x2="171.05" y2="498.31" stroke="#111" stroke-width="1.0"/>
<line x1="168.45" y1="498.31" x2="173.65" y2="498.31" stroke="#111" stroke-width="1.0"/>
<rect x="167.25" y="505.61" width="7.90" height="29.69" fill="#b2b2b2" stroke="#808080" stroke-width="0.6"/>
<line x1="189.60" y1="468.39" x2="189.60" y2="457.19" stroke="#111" stroke-width="1.0"/>
<line x1="187.00" y1="457.19" x2="192.20" y2="457.19" stroke="#111" stroke-width="1.0"/>
<rect x="185.50" y="468.39" width="8.20" height="66.91" fill="#000"/>
<line x1="197.80" y1="518.99" x2="197.80" y2="516.19" stroke="#111" stroke-width="1.0"/>
<line x1="195.20" y1="516.19" x2="200.40" y2="516.19" stroke="#111" stroke-width="1.0"/>
<rect x="194.00" y="518.99" width="7.90" height="16.31" fill="#b2b2b2" stroke="#808080" stroke-width="0.6"/>
<line x1="216.35" y1="464.21" x2="216.35" y2="453.01" stroke="#111" stroke-width="1.0"/>
<line x1="213.75" y1="453.01" x2="218.95" y2="453.01" stroke="#111" stroke-width="1.0"/>
<rect x="212.25" y="464.21" width="8.20" height="71.09" fill="#000"/>
<line x1="224.55" y1="530.70" x2="224.55" y2="530.30" stroke="#111" stroke-width="1.0"/>
<line x1="221.95" y1="530.30" x2="227.15" y2="530.30" stroke="#111" stroke-width="1.0"/>
<rect x="220.75" y="530.70" width="7.90" height="4.60" fill="#b2b2b2" stroke="#808080" stroke-width="0.6"/>
<path d="M94.00 524.40L94.00 521.70M94.00 524.40L96.57 523.57M94.00 524.40L95.59 526.58M94.00 524.40L92.41 526.58M94.00 524.40L91.43 523.57" stroke="#000" stroke-width="1.35" fill="none"/>
<path d="M121.00 519.60L121.00 516.90M121.00 519.60L123.57 518.77M121.00 519.60L122.59 521.78M121.00 519.60L119.41 521.78M121.00 519.60L118.43 518.77" stroke="#000" stroke-width="1.35" fill="none"/>
<path d="M146.30 510.80L146.30 508.10M146.30 510.80L148.87 509.97M146.30 510.80L147.89 512.98M146.30 510.80L144.71 512.98M146.30 510.80L143.73 509.97" stroke="#000" stroke-width="1.35" fill="none"/>
<path d="M152.10 510.80L152.10 508.10M152.10 510.80L154.67 509.97M152.10 510.80L153.69 512.98M152.10 510.80L150.51 512.98M152.10 510.80L149.53 509.97" stroke="#000" stroke-width="1.35" fill="none"/>
<path d="M175.00 493.00L175.00 490.30M175.00 493.00L177.57 492.17M175.00 493.00L176.59 495.18M175.00 493.00L173.41 495.18M175.00 493.00L172.43 492.17" stroke="#000" stroke-width="1.35" fill="none"/>
<path d="M201.90 511.30L201.90 508.60M201.90 511.30L204.47 510.47M201.90 511.30L203.49 513.48M201.90 511.30L200.31 513.48M201.90 511.30L199.33 510.47" stroke="#000" stroke-width="1.35" fill="none"/>
<path d="M228.30 524.40L228.30 521.70M228.30 524.40L230.87 523.57M228.30 524.40L229.89 526.58M228.30 524.40L226.71 526.58M228.30 524.40L225.73 523.57" stroke="#000" stroke-width="1.35" fill="none"/>
<text x="40.8" y="476.3" font-size="8.35" font-weight="bold" text-anchor="middle" transform="rotate(-90 40.8 476.3)" stroke="#000" stroke-width="0.3">Percentage of total events</text>
<rect x="68.8" y="426" width="21.200000000000003" height="4" fill="#000"/>
<rect x="68.8" y="437.6" width="21.200000000000003" height="4" fill="#bdbdbd" stroke="#808080" stroke-width="0.7"/>
<text x="95.5" y="431.2" font-size="8.8" font-weight="bold" stroke="#000" stroke-width="0.3">IRF8<tspan font-size="5.8" dy="-3.8">+/+</tspan></text>
<text x="95.5" y="443.2" font-size="8.8" font-weight="bold" stroke="#000" stroke-width="0.3">IRF8<tspan font-size="5.8" dy="-3.8" fill="#555" stroke="none">-/-</tspan></text>
<text x="87.2" y="543.3" font-size="13" font-weight="bold" font-style="normal" text-anchor="end" transform="rotate(-44 87.2 543.3)" stroke="#000" stroke-width="0.25">Fr. A</text>
<text x="118.2" y="543.3" font-size="13" font-weight="bold" font-style="normal" text-anchor="end" transform="rotate(-44 118.2 543.3)" stroke="#000" stroke-width="0.25">Fr. BC</text>
<text x="145.2" y="544.3" font-size="13" font-weight="bold" font-style="normal" text-anchor="end" transform="rotate(-44 145.2 544.3)" stroke="#000" stroke-width="0.25">Fr. D (L)</text>
<text x="173.0" y="544.3" font-size="13" font-weight="bold" font-style="normal" text-anchor="end" transform="rotate(-44 173.0 544.3)" stroke="#000" stroke-width="0.25">Fr. D (S)</text>
<text x="196.0" y="542.0" font-size="13" font-weight="bold" font-style="normal" text-anchor="end" transform="rotate(-44 196.0 542.0)" stroke="#000" stroke-width="0.25">Immature</text>
<text x="223.9" y="542.0" font-size="13" font-weight="bold" font-style="normal" text-anchor="end" transform="rotate(-44 223.9 542.0)" stroke="#000" stroke-width="0.25">Mature</text>
<rect x="306.2" y="417.5" width="186.80" height="117.80" fill="none" stroke="#222" stroke-width="1.3"/>
<line x1="303.20" y1="535.30" x2="306.20" y2="535.30" stroke="#222" stroke-width="1.0"/>
<text x="299.3" y="537.75" font-size="6.8" font-weight="normal" font-style="normal" text-anchor="end" stroke="#000" stroke-width="0.15">0</text>
<line x1="303.20" y1="517.18" x2="306.20" y2="517.18" stroke="#222" stroke-width="1.0"/>
<text x="299.3" y="519.63" font-size="6.8" font-weight="normal" font-style="normal" text-anchor="end" stroke="#000" stroke-width="0.15">2</text>
<line x1="303.20" y1="499.06" x2="306.20" y2="499.06" stroke="#222" stroke-width="1.0"/>
<text x="299.3" y="501.51" font-size="6.8" font-weight="normal" font-style="normal" text-anchor="end" stroke="#000" stroke-width="0.15">4</text>
<line x1="303.20" y1="480.94" x2="306.20" y2="480.94" stroke="#222" stroke-width="1.0"/>
<text x="299.3" y="483.39" font-size="6.8" font-weight="normal" font-style="normal" text-anchor="end" stroke="#000" stroke-width="0.15">6</text>
<line x1="303.20" y1="462.82" x2="306.20" y2="462.82" stroke="#222" stroke-width="1.0"/>
<text x="299.3" y="465.27" font-size="6.8" font-weight="normal" font-style="normal" text-anchor="end" stroke="#000" stroke-width="0.15">8</text>
<line x1="303.20" y1="444.70" x2="306.20" y2="444.70" stroke="#222" stroke-width="1.0"/>
<text x="299.3" y="447.15" font-size="6.8" font-weight="normal" font-style="normal" text-anchor="end" stroke="#000" stroke-width="0.15">10</text>
<line x1="303.20" y1="426.58" x2="306.20" y2="426.58" stroke="#222" stroke-width="1.0"/>
<text x="299.3" y="429.03" font-size="6.8" font-weight="normal" font-style="normal" text-anchor="end" stroke="#000" stroke-width="0.15">12</text>
<line x1="329.60" y1="506.31" x2="329.60" y2="504.01" stroke="#111" stroke-width="1.0"/>
<line x1="327.00" y1="504.01" x2="332.20" y2="504.01" stroke="#111" stroke-width="1.0"/>
<rect x="326.20" y="506.31" width="6.80" height="28.99" fill="#000"/>
<line x1="336.40" y1="526.51" x2="336.40" y2="526.01" stroke="#111" stroke-width="1.0"/>
<line x1="333.80" y1="526.01" x2="339.00" y2="526.01" stroke="#111" stroke-width="1.0"/>
<rect x="333.30" y="526.51" width="6.50" height="8.79" fill="#b2b2b2" stroke="#808080" stroke-width="0.6"/>
<line x1="356.30" y1="514.46" x2="356.30" y2="511.56" stroke="#111" stroke-width="1.0"/>
<line x1="353.70" y1="511.56" x2="358.90" y2="511.56" stroke="#111" stroke-width="1.0"/>
<rect x="352.90" y="514.46" width="6.80" height="20.84" fill="#000"/>
<line x1="363.10" y1="519.17" x2="363.10" y2="515.37" stroke="#111" stroke-width="1.0"/>
<line x1="360.50" y1="515.37" x2="365.70" y2="515.37" stroke="#111" stroke-width="1.0"/>
<rect x="360.00" y="519.17" width="6.50" height="16.13" fill="#b2b2b2" stroke="#808080" stroke-width="0.6"/>
<line x1="383.00" y1="503.14" x2="383.00" y2="499.24" stroke="#111" stroke-width="1.0"/>
<line x1="380.40" y1="499.24" x2="385.60" y2="499.24" stroke="#111" stroke-width="1.0"/>
<rect x="379.60" y="503.14" width="6.80" height="32.16" fill="#000"/>
<line x1="389.80" y1="510.20" x2="389.80" y2="504.40" stroke="#111" stroke-width="1.0"/>
<line x1="387.20" y1="504.40" x2="392.40" y2="504.40" stroke="#111" stroke-width="1.0"/>
<rect x="386.70" y="510.20" width="6.50" height="25.10" fill="#b2b2b2" stroke="#808080" stroke-width="0.6"/>
<line x1="409.70" y1="447.42" x2="409.70" y2="434.22" stroke="#111" stroke-width="1.0"/>
<line x1="407.10" y1="434.22" x2="412.30" y2="434.22" stroke="#111" stroke-width="1.0"/>
<rect x="406.30" y="447.42" width="6.80" height="87.88" fill="#000"/>
<line x1="416.50" y1="486.38" x2="416.50" y2="473.38" stroke="#111" stroke-width="1.0"/>
<line x1="413.90" y1="473.38" x2="419.10" y2="473.38" stroke="#111" stroke-width="1.0"/>
<rect x="413.40" y="486.38" width="6.50" height="48.92" fill="#b2b2b2" stroke="#808080" stroke-width="0.6"/>
<line x1="436.40" y1="460.10" x2="436.40" y2="450.10" stroke="#111" stroke-width="1.0"/>
<line x1="433.80" y1="450.10" x2="439.00" y2="450.10" stroke="#111" stroke-width="1.0"/>
<rect x="433.00" y="460.10" width="6.80" height="75.20" fill="#000"/>
<line x1="443.20" y1="506.31" x2="443.20" y2="502.61" stroke="#111" stroke-width="1.0"/>
<line x1="440.60" y1="502.61" x2="445.80" y2="502.61" stroke="#111" stroke-width="1.0"/>
<rect x="440.10" y="506.31" width="6.50" height="28.99" fill="#b2b2b2" stroke="#808080" stroke-width="0.6"/>
<line x1="463.10" y1="461.91" x2="463.10" y2="450.21" stroke="#111" stroke-width="1.0"/>
<line x1="460.50" y1="450.21" x2="465.70" y2="450.21" stroke="#111" stroke-width="1.0"/>
<rect x="459.70" y="461.91" width="6.80" height="73.39" fill="#000"/>
<line x1="469.90" y1="527.60" x2="469.90" y2="525.90" stroke="#111" stroke-width="1.0"/>
<line x1="467.30" y1="525.90" x2="472.50" y2="525.90" stroke="#111" stroke-width="1.0"/>
<rect x="466.80" y="527.60" width="6.50" height="7.70" fill="#b2b2b2" stroke="#808080" stroke-width="0.6"/>
<path d="M339.60 520.40L339.60 517.70M339.60 520.40L342.17 519.57M339.60 520.40L341.19 522.58M339.60 520.40L338.01 522.58M339.60 520.40L337.03 519.57" stroke="#000" stroke-width="1.35" fill="none"/>
<path d="M388.60 495.80L388.60 493.10M388.60 495.80L391.17 494.97M388.60 495.80L390.19 497.98M388.60 495.80L387.01 497.98M388.60 495.80L386.03 494.97" stroke="#000" stroke-width="1.35" fill="none"/>
<path d="M394.40 495.80L394.40 493.10M394.40 495.80L396.97 494.97M394.40 495.80L395.99 497.98M394.40 495.80L392.81 497.98M394.40 495.80L391.83 494.97" stroke="#000" stroke-width="1.35" fill="none"/>
<path d="M447.50 495.70L447.50 493.00M447.50 495.70L450.07 494.87M447.50 495.70L449.09 497.88M447.50 495.70L445.91 497.88M447.50 495.70L444.93 494.87" stroke="#000" stroke-width="1.35" fill="none"/>
<path d="M473.20 521.70L473.20 519.00M473.20 521.70L475.77 520.87M473.20 521.70L474.79 523.88M473.20 521.70L471.61 523.88M473.20 521.70L470.63 520.87" stroke="#000" stroke-width="1.35" fill="none"/>
<text x="283.7" y="476.5" font-size="9.3" font-weight="bold" text-anchor="middle" transform="rotate(-90 283.7 476.5)" stroke="#000" stroke-width="0.3">No. of cells (x10<tspan font-size="6.0" dy="-3.4">5</tspan><tspan dy="3.4">/femur)</tspan></text>
<rect x="314.2" y="427.1" width="21.30000000000001" height="4" fill="#000"/>
<rect x="314.2" y="438.9" width="21.30000000000001" height="4" fill="#bdbdbd" stroke="#808080" stroke-width="0.7"/>
<text x="341.2" y="431.8" font-size="8.8" font-weight="bold" stroke="#000" stroke-width="0.3">IRF8<tspan font-size="5.8" dy="-3.8">+/+</tspan></text>
<text x="341.2" y="443.8" font-size="8.8" font-weight="bold" stroke="#000" stroke-width="0.3">IRF8<tspan font-size="5.8" dy="-3.8" fill="#555" stroke="none">-/-</tspan></text>
<text x="338.0" y="543.3" font-size="13" font-weight="bold" font-style="normal" text-anchor="end" transform="rotate(-44 338.0 543.3)" stroke="#000" stroke-width="0.25">Fr. A</text>
<text x="365.0" y="543.3" font-size="13" font-weight="bold" font-style="normal" text-anchor="end" transform="rotate(-44 365.0 543.3)" stroke="#000" stroke-width="0.25">Fr. BC</text>
<text x="391.4" y="544.3" font-size="13" font-weight="bold" font-style="normal" text-anchor="end" transform="rotate(-44 391.4 544.3)" stroke="#000" stroke-width="0.25">Fr. D (L)</text>
<text x="419.2" y="544.3" font-size="13" font-weight="bold" font-style="normal" text-anchor="end" transform="rotate(-44 419.2 544.3)" stroke="#000" stroke-width="0.25">Fr. D (S)</text>
<text x="445.6" y="542.0" font-size="13" font-weight="bold" font-style="normal" text-anchor="end" transform="rotate(-44 445.6 542.0)" stroke="#000" stroke-width="0.25">Immature</text>
<text x="476.3" y="542.0" font-size="13" font-weight="bold" font-style="normal" text-anchor="end" transform="rotate(-44 476.3 542.0)" stroke="#000" stroke-width="0.25">Mature</text>
<rect x="63" y="603" width="187.50" height="117.30" fill="none" stroke="#222" stroke-width="1.3"/>
<line x1="60.00" y1="720.30" x2="63.00" y2="720.30" stroke="#222" stroke-width="1.0"/>
<text x="55.5" y="723.29" font-size="8.3" font-weight="normal" font-style="normal" text-anchor="end" stroke="#000" stroke-width="0.15">0</text>
<line x1="60.00" y1="706.51" x2="63.00" y2="706.51" stroke="#222" stroke-width="1.0"/>
<text x="55.5" y="709.5" font-size="8.3" font-weight="normal" font-style="normal" text-anchor="end" stroke="#000" stroke-width="0.15">1</text>
<line x1="60.00" y1="692.72" x2="63.00" y2="692.72" stroke="#222" stroke-width="1.0"/>
<text x="55.5" y="695.71" font-size="8.3" font-weight="normal" font-style="normal" text-anchor="end" stroke="#000" stroke-width="0.15">2</text>
<line x1="60.00" y1="678.93" x2="63.00" y2="678.93" stroke="#222" stroke-width="1.0"/>
<text x="55.5" y="681.92" font-size="8.3" font-weight="normal" font-style="normal" text-anchor="end" stroke="#000" stroke-width="0.15">3</text>
<line x1="60.00" y1="665.14" x2="63.00" y2="665.14" stroke="#222" stroke-width="1.0"/>
<text x="55.5" y="668.13" font-size="8.3" font-weight="normal" font-style="normal" text-anchor="end" stroke="#000" stroke-width="0.15">4</text>
<line x1="60.00" y1="651.35" x2="63.00" y2="651.35" stroke="#222" stroke-width="1.0"/>
<text x="55.5" y="654.34" font-size="8.3" font-weight="normal" font-style="normal" text-anchor="end" stroke="#000" stroke-width="0.15">5</text>
<line x1="60.00" y1="637.56" x2="63.00" y2="637.56" stroke="#222" stroke-width="1.0"/>
<text x="55.5" y="640.55" font-size="8.3" font-weight="normal" font-style="normal" text-anchor="end" stroke="#000" stroke-width="0.15">6</text>
<line x1="60.00" y1="623.77" x2="63.00" y2="623.77" stroke="#222" stroke-width="1.0"/>
<text x="55.5" y="626.76" font-size="8.3" font-weight="normal" font-style="normal" text-anchor="end" stroke="#000" stroke-width="0.15">7</text>
<line x1="60.00" y1="609.98" x2="63.00" y2="609.98" stroke="#222" stroke-width="1.0"/>
<text x="55.5" y="612.97" font-size="8.3" font-weight="normal" font-style="normal" text-anchor="end" stroke="#000" stroke-width="0.15">8</text>
<line x1="86.00" y1="712.72" x2="86.00" y2="710.02" stroke="#111" stroke-width="1.0"/>
<line x1="83.40" y1="710.02" x2="88.60" y2="710.02" stroke="#111" stroke-width="1.0"/>
<rect x="81.90" y="712.72" width="8.20" height="7.58" fill="#000"/>
<line x1="94.20" y1="718.51" x2="94.20" y2="718.11" stroke="#111" stroke-width="1.0"/>
<line x1="91.60" y1="718.11" x2="96.80" y2="718.11" stroke="#111" stroke-width="1.0"/>
<rect x="90.40" y="718.51" width="7.90" height="1.79" fill="#b2b2b2" stroke="#808080" stroke-width="0.6"/>
<line x1="112.75" y1="706.79" x2="112.75" y2="705.69" stroke="#111" stroke-width="1.0"/>
<line x1="110.15" y1="705.69" x2="115.35" y2="705.69" stroke="#111" stroke-width="1.0"/>
<rect x="108.65" y="706.79" width="8.20" height="13.51" fill="#000"/>
<line x1="120.95" y1="712.99" x2="120.95" y2="711.79" stroke="#111" stroke-width="1.0"/>
<line x1="118.35" y1="711.79" x2="123.55" y2="711.79" stroke="#111" stroke-width="1.0"/>
<rect x="117.15" y="712.99" width="7.90" height="7.31" fill="#b2b2b2" stroke="#808080" stroke-width="0.6"/>
<line x1="139.50" y1="697.68" x2="139.50" y2="693.88" stroke="#111" stroke-width="1.0"/>
<line x1="136.90" y1="693.88" x2="142.10" y2="693.88" stroke="#111" stroke-width="1.0"/>
<rect x="135.40" y="697.68" width="8.20" height="22.62" fill="#000"/>
<line x1="147.70" y1="707.20" x2="147.70" y2="705.60" stroke="#111" stroke-width="1.0"/>
<line x1="145.10" y1="705.60" x2="150.30" y2="705.60" stroke="#111" stroke-width="1.0"/>
<rect x="143.90" y="707.20" width="7.90" height="13.10" fill="#b2b2b2" stroke="#808080" stroke-width="0.6"/>
<line x1="166.25" y1="658.11" x2="166.25" y2="646.61" stroke="#111" stroke-width="1.0"/>
<line x1="163.65" y1="646.61" x2="168.85" y2="646.61" stroke="#111" stroke-width="1.0"/>
<rect x="162.15" y="658.11" width="8.20" height="62.19" fill="#000"/>
<line x1="174.45" y1="681.41" x2="174.45" y2="677.51" stroke="#111" stroke-width="1.0"/>
<line x1="171.85" y1="677.51" x2="177.05" y2="677.51" stroke="#111" stroke-width="1.0"/>
<rect x="170.65" y="681.41" width="7.90" height="38.89" fill="#b2b2b2" stroke="#808080" stroke-width="0.6"/>
<line x1="193.00" y1="678.93" x2="193.00" y2="677.43" stroke="#111" stroke-width="1.0"/>
<line x1="190.40" y1="677.43" x2="195.60" y2="677.43" stroke="#111" stroke-width="1.0"/>
<rect x="188.90" y="678.93" width="8.20" height="41.37" fill="#000"/>
<line x1="201.20" y1="704.58" x2="201.20" y2="702.68" stroke="#111" stroke-width="1.0"/>
<line x1="198.60" y1="702.68" x2="203.80" y2="702.68" stroke="#111" stroke-width="1.0"/>
<rect x="197.40" y="704.58" width="7.90" height="15.72" fill="#b2b2b2" stroke="#808080" stroke-width="0.6"/>
<line x1="219.75" y1="637.70" x2="219.75" y2="632.70" stroke="#111" stroke-width="1.0"/>
<line x1="217.15" y1="632.70" x2="222.35" y2="632.70" stroke="#111" stroke-width="1.0"/>
<rect x="215.65" y="637.70" width="8.20" height="82.60" fill="#000"/>
<line x1="227.95" y1="709.96" x2="227.95" y2="706.86" stroke="#111" stroke-width="1.0"/>
<line x1="225.35" y1="706.86" x2="230.55" y2="706.86" stroke="#111" stroke-width="1.0"/>
<rect x="224.15" y="709.96" width="7.90" height="10.34" fill="#b2b2b2" stroke="#808080" stroke-width="0.6"/>
<path d="M97.30 714.00L97.30 711.30M97.30 714.00L99.87 713.17M97.30 714.00L98.89 716.18M97.30 714.00L95.71 716.18M97.30 714.00L94.73 713.17" stroke="#000" stroke-width="1.35" fill="none"/>
<path d="M122.50 706.00L122.50 703.30M122.50 706.00L125.07 705.17M122.50 706.00L124.09 708.18M122.50 706.00L120.91 708.18M122.50 706.00L119.93 705.17" stroke="#000" stroke-width="1.35" fill="none"/>
<path d="M128.30 706.00L128.30 703.30M128.30 706.00L130.87 705.17M128.30 706.00L129.89 708.18M128.30 706.00L126.71 708.18M128.30 706.00L125.73 705.17" stroke="#000" stroke-width="1.35" fill="none"/>
<path d="M151.00 700.80L151.00 698.10M151.00 700.80L153.57 699.97M151.00 700.80L152.59 702.98M151.00 700.80L149.41 702.98M151.00 700.80L148.43 699.97" stroke="#000" stroke-width="1.35" fill="none"/>
<path d="M204.10 697.70L204.10 695.00M204.10 697.70L206.67 696.87M204.10 697.70L205.69 699.88M204.10 697.70L202.51 699.88M204.10 697.70L201.53 696.87" stroke="#000" stroke-width="1.35" fill="none"/>
<path d="M209.90 697.70L209.90 695.00M209.90 697.70L212.47 696.87M209.90 697.70L211.49 699.88M209.90 697.70L208.31 699.88M209.90 697.70L207.33 696.87" stroke="#000" stroke-width="1.35" fill="none"/>
<path d="M231.10 701.50L231.10 698.80M231.10 701.50L233.67 700.67M231.10 701.50L232.69 703.68M231.10 701.50L229.51 703.68M231.10 701.50L228.53 700.67" stroke="#000" stroke-width="1.35" fill="none"/>
<path d="M236.90 701.50L236.90 698.80M236.90 701.50L239.47 700.67M236.90 701.50L238.49 703.68M236.90 701.50L235.31 703.68M236.90 701.50L234.33 700.67" stroke="#000" stroke-width="1.35" fill="none"/>
<text x="44.2" y="661.5" font-size="8.35" font-weight="bold" text-anchor="middle" transform="rotate(-90 44.2 661.5)" stroke="#000" stroke-width="0.3">Percentage of total events</text>
<rect x="72.5" y="612.3" width="20.5" height="4" fill="#000"/>
<rect x="72.5" y="623.5" width="20.5" height="4" fill="#bdbdbd" stroke="#808080" stroke-width="0.7"/>
<text x="98.7" y="617.3" font-size="8.8" font-weight="bold" stroke="#000" stroke-width="0.3">IRF8<tspan font-size="5.8" dy="-3.8">+/+</tspan></text>
<text x="98.7" y="628.8" font-size="8.8" font-weight="bold" stroke="#000" stroke-width="0.3">IRF8<tspan font-size="5.8" dy="-3.8" fill="#555" stroke="none">-/-</tspan></text>
<text x="94.2" y="728.3" font-size="13" font-weight="bold" font-style="normal" text-anchor="end" transform="rotate(-44 94.2 728.3)" stroke="#000" stroke-width="0.25">Fr. A</text>
<text x="121.7" y="728.3" font-size="13" font-weight="bold" font-style="normal" text-anchor="end" transform="rotate(-44 121.7 728.3)" stroke="#000" stroke-width="0.25">Fr. BC</text>
<text x="148.6" y="729.3" font-size="13" font-weight="bold" font-style="normal" text-anchor="end" transform="rotate(-44 148.6 729.3)" stroke="#000" stroke-width="0.25">Fr. D (L)</text>
<text x="176.4" y="729.3" font-size="13" font-weight="bold" font-style="normal" text-anchor="end" transform="rotate(-44 176.4 729.3)" stroke="#000" stroke-width="0.25">Fr. D (S)</text>
<text x="206.4" y="727.0" font-size="13" font-weight="bold" font-style="normal" text-anchor="end" transform="rotate(-44 206.4 727.0)" stroke="#000" stroke-width="0.25">Immature</text>
<text x="231.3" y="727.0" font-size="13" font-weight="bold" font-style="normal" text-anchor="end" transform="rotate(-44 231.3 727.0)" stroke="#000" stroke-width="0.25">Mature</text>
<rect x="307.1" y="602.5" width="186.90" height="116.70" fill="none" stroke="#222" stroke-width="1.3"/>
<line x1="304.10" y1="719.20" x2="307.10" y2="719.20" stroke="#222" stroke-width="1.0"/>
<text x="300" y="721.65" font-size="6.8" font-weight="normal" font-style="normal" text-anchor="end" stroke="#000" stroke-width="0.15">0</text>
<line x1="304.10" y1="701.26" x2="307.10" y2="701.26" stroke="#222" stroke-width="1.0"/>
<text x="300" y="703.71" font-size="6.8" font-weight="normal" font-style="normal" text-anchor="end" stroke="#000" stroke-width="0.15">2</text>
<line x1="304.10" y1="683.32" x2="307.10" y2="683.32" stroke="#222" stroke-width="1.0"/>
<text x="300" y="685.77" font-size="6.8" font-weight="normal" font-style="normal" text-anchor="end" stroke="#000" stroke-width="0.15">4</text>
<line x1="304.10" y1="665.38" x2="307.10" y2="665.38" stroke="#222" stroke-width="1.0"/>
<text x="300" y="667.83" font-size="6.8" font-weight="normal" font-style="normal" text-anchor="end" stroke="#000" stroke-width="0.15">6</text>
<line x1="304.10" y1="647.44" x2="307.10" y2="647.44" stroke="#222" stroke-width="1.0"/>
<text x="300" y="649.89" font-size="6.8" font-weight="normal" font-style="normal" text-anchor="end" stroke="#000" stroke-width="0.15">8</text>
<line x1="304.10" y1="629.50" x2="307.10" y2="629.50" stroke="#222" stroke-width="1.0"/>
<text x="300" y="631.95" font-size="6.8" font-weight="normal" font-style="normal" text-anchor="end" stroke="#000" stroke-width="0.15">10</text>
<line x1="304.10" y1="611.56" x2="307.10" y2="611.56" stroke="#222" stroke-width="1.0"/>
<text x="300" y="614.01" font-size="6.8" font-weight="normal" font-style="normal" text-anchor="end" stroke="#000" stroke-width="0.15">12</text>
<line x1="330.50" y1="709.96" x2="330.50" y2="705.46" stroke="#111" stroke-width="1.0"/>
<line x1="327.90" y1="705.46" x2="333.10" y2="705.46" stroke="#111" stroke-width="1.0"/>
<rect x="327.00" y="709.96" width="7.00" height="9.24" fill="#000"/>
<line x1="337.50" y1="714.98" x2="337.50" y2="713.48" stroke="#111" stroke-width="1.0"/>
<line x1="334.90" y1="713.48" x2="340.10" y2="713.48" stroke="#111" stroke-width="1.0"/>
<rect x="334.30" y="714.98" width="6.70" height="4.22" fill="#b2b2b2" stroke="#808080" stroke-width="0.6"/>
<line x1="357.20" y1="706.73" x2="357.20" y2="704.23" stroke="#111" stroke-width="1.0"/>
<line x1="354.60" y1="704.23" x2="359.80" y2="704.23" stroke="#111" stroke-width="1.0"/>
<rect x="353.70" y="706.73" width="7.00" height="12.47" fill="#000"/>
<line x1="364.20" y1="708.53" x2="364.20" y2="706.73" stroke="#111" stroke-width="1.0"/>
<line x1="361.60" y1="706.73" x2="366.80" y2="706.73" stroke="#111" stroke-width="1.0"/>
<rect x="361.00" y="708.53" width="6.70" height="10.67" fill="#b2b2b2" stroke="#808080" stroke-width="0.6"/>
<line x1="383.90" y1="691.84" x2="383.90" y2="685.64" stroke="#111" stroke-width="1.0"/>
<line x1="381.30" y1="685.64" x2="386.50" y2="685.64" stroke="#111" stroke-width="1.0"/>
<rect x="380.40" y="691.84" width="7.00" height="27.36" fill="#000"/>
<line x1="390.90" y1="695.07" x2="390.90" y2="691.37" stroke="#111" stroke-width="1.0"/>
<line x1="388.30" y1="691.37" x2="393.50" y2="691.37" stroke="#111" stroke-width="1.0"/>
<rect x="387.70" y="695.07" width="6.70" height="24.13" fill="#b2b2b2" stroke="#808080" stroke-width="0.6"/>
<line x1="410.60" y1="642.69" x2="410.60" y2="622.69" stroke="#111" stroke-width="1.0"/>
<line x1="408.00" y1="622.69" x2="413.20" y2="622.69" stroke="#111" stroke-width="1.0"/>
<rect x="407.10" y="642.69" width="7.00" height="76.51" fill="#000"/>
<line x1="417.60" y1="647.71" x2="417.60" y2="636.51" stroke="#111" stroke-width="1.0"/>
<line x1="415.00" y1="636.51" x2="420.20" y2="636.51" stroke="#111" stroke-width="1.0"/>
<rect x="414.40" y="647.71" width="6.70" height="71.49" fill="#b2b2b2" stroke="#808080" stroke-width="0.6"/>
<line x1="437.30" y1="676.86" x2="437.30" y2="672.66" stroke="#111" stroke-width="1.0"/>
<line x1="434.70" y1="672.66" x2="439.90" y2="672.66" stroke="#111" stroke-width="1.0"/>
<rect x="433.80" y="676.86" width="7.00" height="42.34" fill="#000"/>
<line x1="444.30" y1="691.84" x2="444.30" y2="688.84" stroke="#111" stroke-width="1.0"/>
<line x1="441.70" y1="688.84" x2="446.90" y2="688.84" stroke="#111" stroke-width="1.0"/>
<rect x="441.10" y="691.84" width="6.70" height="27.36" fill="#b2b2b2" stroke="#808080" stroke-width="0.6"/>
<line x1="464.00" y1="636.95" x2="464.00" y2="613.45" stroke="#111" stroke-width="1.0"/>
<line x1="461.40" y1="613.45" x2="466.60" y2="613.45" stroke="#111" stroke-width="1.0"/>
<rect x="460.50" y="636.95" width="7.00" height="82.25" fill="#000"/>
<line x1="471.00" y1="703.77" x2="471.00" y2="700.07" stroke="#111" stroke-width="1.0"/>
<line x1="468.40" y1="700.07" x2="473.60" y2="700.07" stroke="#111" stroke-width="1.0"/>
<rect x="467.80" y="703.77" width="6.70" height="15.43" fill="#b2b2b2" stroke="#808080" stroke-width="0.6"/>
<path d="M339.50 711.70L339.50 709.00M339.50 711.70L342.07 710.87M339.50 711.70L341.09 713.88M339.50 711.70L337.91 713.88M339.50 711.70L336.93 710.87" stroke="#000" stroke-width="1.35" fill="none"/>
<path d="M447.80 685.70L447.80 683.00M447.80 685.70L450.37 684.87M447.80 685.70L449.39 687.88M447.80 685.70L446.21 687.88M447.80 685.70L445.23 684.87" stroke="#000" stroke-width="1.35" fill="none"/>
<path d="M453.60 685.70L453.60 683.00M453.60 685.70L456.17 684.87M453.60 685.70L455.19 687.88M453.60 685.70L452.01 687.88M453.60 685.70L451.03 684.87" stroke="#000" stroke-width="1.35" fill="none"/>
<path d="M475.10 697.00L475.10 694.30M475.10 697.00L477.67 696.17M475.10 697.00L476.69 699.18M475.10 697.00L473.51 699.18M475.10 697.00L472.53 696.17" stroke="#000" stroke-width="1.35" fill="none"/>
<path d="M480.90 697.00L480.90 694.30M480.90 697.00L483.47 696.17M480.90 697.00L482.49 699.18M480.90 697.00L479.31 699.18M480.90 697.00L478.33 696.17" stroke="#000" stroke-width="1.35" fill="none"/>
<text x="283.7" y="661" font-size="9.3" font-weight="bold" text-anchor="middle" transform="rotate(-90 283.7 661)" stroke="#000" stroke-width="0.3">No. of cells (x10<tspan font-size="6.0" dy="-3.4">5</tspan><tspan dy="3.4">/femur)</tspan></text>
<rect x="315.7" y="612.6" width="21.30000000000001" height="4" fill="#000"/>
<rect x="315.7" y="623.6" width="21.30000000000001" height="4" fill="#bdbdbd" stroke="#808080" stroke-width="0.7"/>
<text x="342.5" y="617.3" font-size="8.8" font-weight="bold" stroke="#000" stroke-width="0.3">IRF8<tspan font-size="5.8" dy="-3.8">+/+</tspan></text>
<text x="342.5" y="628.8" font-size="8.8" font-weight="bold" stroke="#000" stroke-width="0.3">IRF8<tspan font-size="5.8" dy="-3.8" fill="#555" stroke="none">-/-</tspan></text>
<text x="339.0" y="727.2" font-size="13" font-weight="bold" font-style="normal" text-anchor="end" transform="rotate(-44 339.0 727.2)" stroke="#000" stroke-width="0.25">Fr. A</text>
<text x="365.0" y="727.2" font-size="13" font-weight="bold" font-style="normal" text-anchor="end" transform="rotate(-44 365.0 727.2)" stroke="#000" stroke-width="0.25">Fr. BC</text>
<text x="391.4" y="728.2" font-size="13" font-weight="bold" font-style="normal" text-anchor="end" transform="rotate(-44 391.4 728.2)" stroke="#000" stroke-width="0.25">Fr. D (L)</text>
<text x="419.2" y="728.2" font-size="13" font-weight="bold" font-style="normal" text-anchor="end" transform="rotate(-44 419.2 728.2)" stroke="#000" stroke-width="0.25">Fr. D (S)</text>
<text x="448.6" y="725.9" font-size="13" font-weight="bold" font-style="normal" text-anchor="end" transform="rotate(-44 448.6 725.9)" stroke="#000" stroke-width="0.25">Immature</text>
<text x="475.3" y="725.9" font-size="13" font-weight="bold" font-style="normal" text-anchor="end" transform="rotate(-44 475.3 725.9)" stroke="#000" stroke-width="0.25">Mature</text>
</svg>
</body></html>
